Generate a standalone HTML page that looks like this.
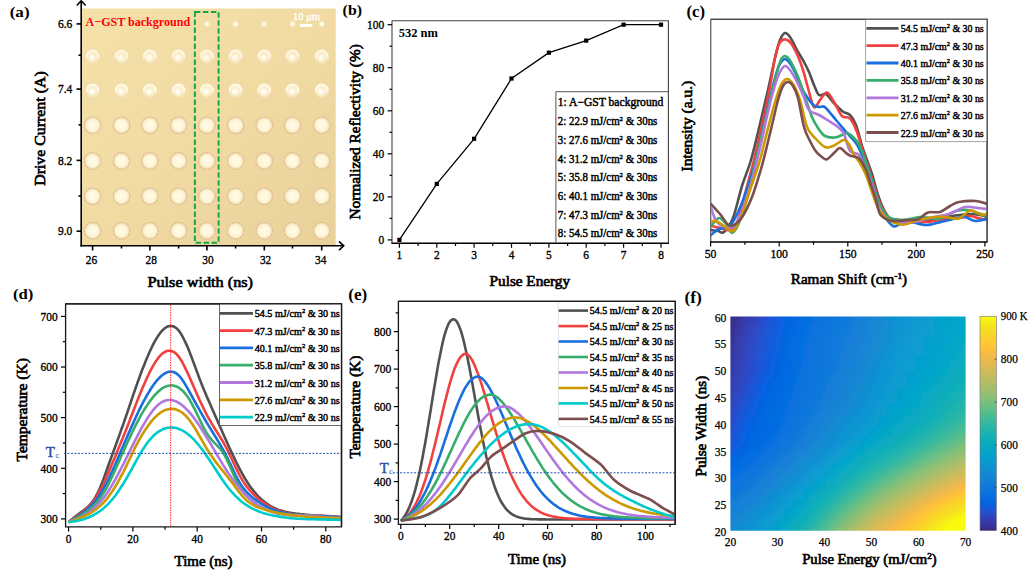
<!DOCTYPE html>
<html><head><meta charset="utf-8"><style>
html,body{margin:0;padding:0;background:#fff;width:1035px;height:577px;overflow:hidden}
svg{display:block;font-family:'Liberation Serif',serif}
</style></head><body>
<svg width="1035" height="577" viewBox="0 0 1035 577">
<defs><linearGradient id="h0" x1="730.4" x2="965.6" gradientUnits="userSpaceOnUse"><stop offset="0.000" stop-color="#352a87"/><stop offset="0.040" stop-color="#36349b"/><stop offset="0.080" stop-color="#353dae"/><stop offset="0.120" stop-color="#2f47c0"/><stop offset="0.160" stop-color="#2351d0"/><stop offset="0.200" stop-color="#105bdd"/><stop offset="0.240" stop-color="#0363e1"/><stop offset="0.280" stop-color="#0268e1"/><stop offset="0.320" stop-color="#046ce0"/><stop offset="0.360" stop-color="#076fdf"/><stop offset="0.400" stop-color="#0a72de"/><stop offset="0.440" stop-color="#0d75dc"/><stop offset="0.480" stop-color="#0f78db"/><stop offset="0.520" stop-color="#127bd9"/><stop offset="0.560" stop-color="#137fd6"/><stop offset="0.600" stop-color="#1484d4"/><stop offset="0.640" stop-color="#1388d3"/><stop offset="0.680" stop-color="#118dd2"/><stop offset="0.720" stop-color="#0e92d2"/><stop offset="0.760" stop-color="#0b95d1"/><stop offset="0.800" stop-color="#0899d1"/><stop offset="0.840" stop-color="#079cd0"/><stop offset="0.880" stop-color="#069fce"/><stop offset="0.920" stop-color="#06a2cc"/><stop offset="0.960" stop-color="#06a4c9"/><stop offset="1.000" stop-color="#06a6c6"/></linearGradient>
<linearGradient id="h1" x1="730.4" x2="965.6" gradientUnits="userSpaceOnUse"><stop offset="0.000" stop-color="#352a87"/><stop offset="0.040" stop-color="#36349b"/><stop offset="0.080" stop-color="#353dae"/><stop offset="0.120" stop-color="#2f47c0"/><stop offset="0.160" stop-color="#2351d0"/><stop offset="0.200" stop-color="#105bdd"/><stop offset="0.240" stop-color="#0363e1"/><stop offset="0.280" stop-color="#0268e1"/><stop offset="0.320" stop-color="#046ce0"/><stop offset="0.360" stop-color="#076fdf"/><stop offset="0.400" stop-color="#0a72de"/><stop offset="0.440" stop-color="#0d75dc"/><stop offset="0.480" stop-color="#0f78db"/><stop offset="0.520" stop-color="#127bd9"/><stop offset="0.560" stop-color="#137fd6"/><stop offset="0.600" stop-color="#1484d4"/><stop offset="0.640" stop-color="#1388d3"/><stop offset="0.680" stop-color="#118dd2"/><stop offset="0.720" stop-color="#0e92d2"/><stop offset="0.760" stop-color="#0b95d1"/><stop offset="0.800" stop-color="#0899d1"/><stop offset="0.840" stop-color="#079cd0"/><stop offset="0.880" stop-color="#069fce"/><stop offset="0.920" stop-color="#06a2cc"/><stop offset="0.960" stop-color="#06a4c9"/><stop offset="1.000" stop-color="#06a6c6"/></linearGradient>
<linearGradient id="h2" x1="730.4" x2="965.6" gradientUnits="userSpaceOnUse"><stop offset="0.000" stop-color="#352b88"/><stop offset="0.040" stop-color="#36359d"/><stop offset="0.080" stop-color="#343eb0"/><stop offset="0.120" stop-color="#2e48c1"/><stop offset="0.160" stop-color="#2251d2"/><stop offset="0.200" stop-color="#0f5cdd"/><stop offset="0.240" stop-color="#0363e1"/><stop offset="0.280" stop-color="#0268e1"/><stop offset="0.320" stop-color="#046ce0"/><stop offset="0.360" stop-color="#0770df"/><stop offset="0.400" stop-color="#0a73de"/><stop offset="0.440" stop-color="#0d75dc"/><stop offset="0.480" stop-color="#0f78db"/><stop offset="0.520" stop-color="#127bd9"/><stop offset="0.560" stop-color="#137fd6"/><stop offset="0.600" stop-color="#1484d4"/><stop offset="0.640" stop-color="#1388d3"/><stop offset="0.680" stop-color="#118dd2"/><stop offset="0.720" stop-color="#0e92d2"/><stop offset="0.760" stop-color="#0b95d1"/><stop offset="0.800" stop-color="#0899d1"/><stop offset="0.840" stop-color="#079cd0"/><stop offset="0.880" stop-color="#069fce"/><stop offset="0.920" stop-color="#06a2cb"/><stop offset="0.960" stop-color="#06a4c9"/><stop offset="1.000" stop-color="#06a6c6"/></linearGradient>
<linearGradient id="h3" x1="730.4" x2="965.6" gradientUnits="userSpaceOnUse"><stop offset="0.000" stop-color="#352c8a"/><stop offset="0.040" stop-color="#3637a0"/><stop offset="0.080" stop-color="#3340b3"/><stop offset="0.120" stop-color="#2c49c5"/><stop offset="0.160" stop-color="#1f53d4"/><stop offset="0.200" stop-color="#0d5dde"/><stop offset="0.240" stop-color="#0364e1"/><stop offset="0.280" stop-color="#0269e1"/><stop offset="0.320" stop-color="#046de0"/><stop offset="0.360" stop-color="#0870df"/><stop offset="0.400" stop-color="#0b73dd"/><stop offset="0.440" stop-color="#0d76dc"/><stop offset="0.480" stop-color="#1078da"/><stop offset="0.520" stop-color="#127cd9"/><stop offset="0.560" stop-color="#137fd6"/><stop offset="0.600" stop-color="#1484d4"/><stop offset="0.640" stop-color="#1388d3"/><stop offset="0.680" stop-color="#118dd2"/><stop offset="0.720" stop-color="#0e92d2"/><stop offset="0.760" stop-color="#0b96d1"/><stop offset="0.800" stop-color="#0899d1"/><stop offset="0.840" stop-color="#079dcf"/><stop offset="0.880" stop-color="#06a0cd"/><stop offset="0.920" stop-color="#06a2cb"/><stop offset="0.960" stop-color="#06a5c9"/><stop offset="1.000" stop-color="#06a6c6"/></linearGradient>
<linearGradient id="h4" x1="730.4" x2="965.6" gradientUnits="userSpaceOnUse"><stop offset="0.000" stop-color="#352d8d"/><stop offset="0.040" stop-color="#3638a3"/><stop offset="0.080" stop-color="#3342b7"/><stop offset="0.120" stop-color="#2b4bc7"/><stop offset="0.160" stop-color="#1d54d6"/><stop offset="0.200" stop-color="#0c5ede"/><stop offset="0.240" stop-color="#0364e1"/><stop offset="0.280" stop-color="#0269e1"/><stop offset="0.320" stop-color="#056de0"/><stop offset="0.360" stop-color="#0871df"/><stop offset="0.400" stop-color="#0b73dd"/><stop offset="0.440" stop-color="#0e76dc"/><stop offset="0.480" stop-color="#1079da"/><stop offset="0.520" stop-color="#127cd8"/><stop offset="0.560" stop-color="#1480d6"/><stop offset="0.600" stop-color="#1484d4"/><stop offset="0.640" stop-color="#1389d3"/><stop offset="0.680" stop-color="#118ed2"/><stop offset="0.720" stop-color="#0d92d2"/><stop offset="0.760" stop-color="#0a96d1"/><stop offset="0.800" stop-color="#089ad1"/><stop offset="0.840" stop-color="#079dcf"/><stop offset="0.880" stop-color="#06a0cd"/><stop offset="0.920" stop-color="#06a3cb"/><stop offset="0.960" stop-color="#06a5c8"/><stop offset="1.000" stop-color="#06a7c6"/></linearGradient>
<linearGradient id="h5" x1="730.4" x2="965.6" gradientUnits="userSpaceOnUse"><stop offset="0.000" stop-color="#362e8f"/><stop offset="0.040" stop-color="#3639a6"/><stop offset="0.080" stop-color="#3243b9"/><stop offset="0.120" stop-color="#294cca"/><stop offset="0.160" stop-color="#1b56d7"/><stop offset="0.200" stop-color="#0b5edf"/><stop offset="0.240" stop-color="#0265e1"/><stop offset="0.280" stop-color="#026ae1"/><stop offset="0.320" stop-color="#056ee0"/><stop offset="0.360" stop-color="#0871de"/><stop offset="0.400" stop-color="#0b74dd"/><stop offset="0.440" stop-color="#0e76dc"/><stop offset="0.480" stop-color="#1079da"/><stop offset="0.520" stop-color="#127cd8"/><stop offset="0.560" stop-color="#1480d6"/><stop offset="0.600" stop-color="#1484d4"/><stop offset="0.640" stop-color="#1389d3"/><stop offset="0.680" stop-color="#108ed2"/><stop offset="0.720" stop-color="#0d93d2"/><stop offset="0.760" stop-color="#0a96d1"/><stop offset="0.800" stop-color="#089ad0"/><stop offset="0.840" stop-color="#079dcf"/><stop offset="0.880" stop-color="#06a0cd"/><stop offset="0.920" stop-color="#06a3cb"/><stop offset="0.960" stop-color="#06a5c8"/><stop offset="1.000" stop-color="#06a7c6"/></linearGradient>
<linearGradient id="h6" x1="730.4" x2="965.6" gradientUnits="userSpaceOnUse"><stop offset="0.000" stop-color="#362f91"/><stop offset="0.040" stop-color="#353ba8"/><stop offset="0.080" stop-color="#3144bb"/><stop offset="0.120" stop-color="#274dcb"/><stop offset="0.160" stop-color="#1957d8"/><stop offset="0.200" stop-color="#0a5fdf"/><stop offset="0.240" stop-color="#0265e1"/><stop offset="0.280" stop-color="#036ae1"/><stop offset="0.320" stop-color="#056ee0"/><stop offset="0.360" stop-color="#0971de"/><stop offset="0.400" stop-color="#0c74dd"/><stop offset="0.440" stop-color="#0e77db"/><stop offset="0.480" stop-color="#1079da"/><stop offset="0.520" stop-color="#127dd8"/><stop offset="0.560" stop-color="#1480d6"/><stop offset="0.600" stop-color="#1485d4"/><stop offset="0.640" stop-color="#138ad3"/><stop offset="0.680" stop-color="#108fd2"/><stop offset="0.720" stop-color="#0c93d2"/><stop offset="0.760" stop-color="#0a97d1"/><stop offset="0.800" stop-color="#089ad0"/><stop offset="0.840" stop-color="#079ecf"/><stop offset="0.880" stop-color="#06a1cd"/><stop offset="0.920" stop-color="#06a3ca"/><stop offset="0.960" stop-color="#06a5c8"/><stop offset="1.000" stop-color="#06a7c5"/></linearGradient>
<linearGradient id="h7" x1="730.4" x2="965.6" gradientUnits="userSpaceOnUse"><stop offset="0.000" stop-color="#363194"/><stop offset="0.040" stop-color="#353cab"/><stop offset="0.080" stop-color="#3045bd"/><stop offset="0.120" stop-color="#264ecd"/><stop offset="0.160" stop-color="#1757d9"/><stop offset="0.200" stop-color="#095fdf"/><stop offset="0.240" stop-color="#0265e1"/><stop offset="0.280" stop-color="#036ae1"/><stop offset="0.320" stop-color="#066edf"/><stop offset="0.360" stop-color="#0972de"/><stop offset="0.400" stop-color="#0c74dd"/><stop offset="0.440" stop-color="#0f77db"/><stop offset="0.480" stop-color="#117ada"/><stop offset="0.520" stop-color="#137dd8"/><stop offset="0.560" stop-color="#1481d6"/><stop offset="0.600" stop-color="#1485d4"/><stop offset="0.640" stop-color="#128ad3"/><stop offset="0.680" stop-color="#0f8fd2"/><stop offset="0.720" stop-color="#0c94d2"/><stop offset="0.760" stop-color="#0998d1"/><stop offset="0.800" stop-color="#079bd0"/><stop offset="0.840" stop-color="#069ece"/><stop offset="0.880" stop-color="#06a1cc"/><stop offset="0.920" stop-color="#06a3ca"/><stop offset="0.960" stop-color="#06a6c7"/><stop offset="1.000" stop-color="#06a8c5"/></linearGradient>
<linearGradient id="h8" x1="730.4" x2="965.6" gradientUnits="userSpaceOnUse"><stop offset="0.000" stop-color="#363296"/><stop offset="0.040" stop-color="#353dad"/><stop offset="0.080" stop-color="#2f46bf"/><stop offset="0.120" stop-color="#254fce"/><stop offset="0.160" stop-color="#1658d9"/><stop offset="0.200" stop-color="#0860df"/><stop offset="0.240" stop-color="#0266e1"/><stop offset="0.280" stop-color="#036be0"/><stop offset="0.320" stop-color="#066fdf"/><stop offset="0.360" stop-color="#0972de"/><stop offset="0.400" stop-color="#0c75dc"/><stop offset="0.440" stop-color="#0f77db"/><stop offset="0.480" stop-color="#117ad9"/><stop offset="0.520" stop-color="#137ed7"/><stop offset="0.560" stop-color="#1482d5"/><stop offset="0.600" stop-color="#1486d4"/><stop offset="0.640" stop-color="#128bd2"/><stop offset="0.680" stop-color="#0f90d2"/><stop offset="0.720" stop-color="#0b95d2"/><stop offset="0.760" stop-color="#0998d1"/><stop offset="0.800" stop-color="#079bd0"/><stop offset="0.840" stop-color="#069ece"/><stop offset="0.880" stop-color="#06a1cc"/><stop offset="0.920" stop-color="#06a4ca"/><stop offset="0.960" stop-color="#06a6c7"/><stop offset="1.000" stop-color="#06a8c4"/></linearGradient>
<linearGradient id="h9" x1="730.4" x2="965.6" gradientUnits="userSpaceOnUse"><stop offset="0.000" stop-color="#363398"/><stop offset="0.040" stop-color="#353eaf"/><stop offset="0.080" stop-color="#2f47c0"/><stop offset="0.120" stop-color="#2450cf"/><stop offset="0.160" stop-color="#1558da"/><stop offset="0.200" stop-color="#0860e0"/><stop offset="0.240" stop-color="#0266e1"/><stop offset="0.280" stop-color="#036be0"/><stop offset="0.320" stop-color="#076fdf"/><stop offset="0.360" stop-color="#0a72de"/><stop offset="0.400" stop-color="#0d75dc"/><stop offset="0.440" stop-color="#0f78db"/><stop offset="0.480" stop-color="#117bd9"/><stop offset="0.520" stop-color="#137ed7"/><stop offset="0.560" stop-color="#1482d5"/><stop offset="0.600" stop-color="#1487d3"/><stop offset="0.640" stop-color="#128cd2"/><stop offset="0.680" stop-color="#0e91d2"/><stop offset="0.720" stop-color="#0b95d1"/><stop offset="0.760" stop-color="#0899d1"/><stop offset="0.800" stop-color="#079cd0"/><stop offset="0.840" stop-color="#069fce"/><stop offset="0.880" stop-color="#06a2cc"/><stop offset="0.920" stop-color="#06a4c9"/><stop offset="0.960" stop-color="#06a6c6"/><stop offset="1.000" stop-color="#07a9c3"/></linearGradient>
<linearGradient id="h10" x1="730.4" x2="965.6" gradientUnits="userSpaceOnUse"><stop offset="0.000" stop-color="#36349b"/><stop offset="0.040" stop-color="#343fb0"/><stop offset="0.080" stop-color="#2e48c2"/><stop offset="0.120" stop-color="#2350d0"/><stop offset="0.160" stop-color="#1459da"/><stop offset="0.200" stop-color="#0760e0"/><stop offset="0.240" stop-color="#0267e1"/><stop offset="0.280" stop-color="#046ce0"/><stop offset="0.320" stop-color="#0770df"/><stop offset="0.360" stop-color="#0a73de"/><stop offset="0.400" stop-color="#0d75dc"/><stop offset="0.440" stop-color="#1078da"/><stop offset="0.480" stop-color="#127cd9"/><stop offset="0.520" stop-color="#137fd7"/><stop offset="0.560" stop-color="#1483d5"/><stop offset="0.600" stop-color="#1388d3"/><stop offset="0.640" stop-color="#118dd2"/><stop offset="0.680" stop-color="#0d92d2"/><stop offset="0.720" stop-color="#0a96d1"/><stop offset="0.760" stop-color="#089ad0"/><stop offset="0.800" stop-color="#079dcf"/><stop offset="0.840" stop-color="#069fce"/><stop offset="0.880" stop-color="#06a2cb"/><stop offset="0.920" stop-color="#06a5c9"/><stop offset="0.960" stop-color="#06a7c6"/><stop offset="1.000" stop-color="#07a9c2"/></linearGradient>
<linearGradient id="h11" x1="730.4" x2="965.6" gradientUnits="userSpaceOnUse"><stop offset="0.000" stop-color="#36359d"/><stop offset="0.040" stop-color="#3440b2"/><stop offset="0.080" stop-color="#2d48c3"/><stop offset="0.120" stop-color="#2251d1"/><stop offset="0.160" stop-color="#135adb"/><stop offset="0.200" stop-color="#0661e0"/><stop offset="0.240" stop-color="#0267e1"/><stop offset="0.280" stop-color="#046ce0"/><stop offset="0.320" stop-color="#0770df"/><stop offset="0.360" stop-color="#0a73dd"/><stop offset="0.400" stop-color="#0d76dc"/><stop offset="0.440" stop-color="#1079da"/><stop offset="0.480" stop-color="#127cd8"/><stop offset="0.520" stop-color="#1480d6"/><stop offset="0.560" stop-color="#1484d4"/><stop offset="0.600" stop-color="#1388d3"/><stop offset="0.640" stop-color="#118ed2"/><stop offset="0.680" stop-color="#0d93d2"/><stop offset="0.720" stop-color="#0997d1"/><stop offset="0.760" stop-color="#089bd0"/><stop offset="0.800" stop-color="#079dcf"/><stop offset="0.840" stop-color="#06a0cd"/><stop offset="0.880" stop-color="#06a2cb"/><stop offset="0.920" stop-color="#06a5c8"/><stop offset="0.960" stop-color="#06a7c5"/><stop offset="1.000" stop-color="#07aac1"/></linearGradient>
<linearGradient id="h12" x1="730.4" x2="965.6" gradientUnits="userSpaceOnUse"><stop offset="0.000" stop-color="#36369f"/><stop offset="0.040" stop-color="#3340b4"/><stop offset="0.080" stop-color="#2d49c4"/><stop offset="0.120" stop-color="#2252d2"/><stop offset="0.160" stop-color="#125adc"/><stop offset="0.200" stop-color="#0562e0"/><stop offset="0.240" stop-color="#0268e1"/><stop offset="0.280" stop-color="#046de0"/><stop offset="0.320" stop-color="#0870df"/><stop offset="0.360" stop-color="#0b73dd"/><stop offset="0.400" stop-color="#0e76dc"/><stop offset="0.440" stop-color="#1079da"/><stop offset="0.480" stop-color="#137dd8"/><stop offset="0.520" stop-color="#1481d6"/><stop offset="0.560" stop-color="#1485d4"/><stop offset="0.600" stop-color="#1389d3"/><stop offset="0.640" stop-color="#108fd2"/><stop offset="0.680" stop-color="#0c94d2"/><stop offset="0.720" stop-color="#0998d1"/><stop offset="0.760" stop-color="#079bd0"/><stop offset="0.800" stop-color="#069ece"/><stop offset="0.840" stop-color="#06a1cd"/><stop offset="0.880" stop-color="#06a3ca"/><stop offset="0.920" stop-color="#06a6c7"/><stop offset="0.960" stop-color="#06a8c4"/><stop offset="1.000" stop-color="#08abc0"/></linearGradient>
<linearGradient id="h13" x1="730.4" x2="965.6" gradientUnits="userSpaceOnUse"><stop offset="0.000" stop-color="#3637a2"/><stop offset="0.040" stop-color="#3341b5"/><stop offset="0.080" stop-color="#2c4ac5"/><stop offset="0.120" stop-color="#2052d3"/><stop offset="0.160" stop-color="#105bdd"/><stop offset="0.200" stop-color="#0462e1"/><stop offset="0.240" stop-color="#0268e1"/><stop offset="0.280" stop-color="#046de0"/><stop offset="0.320" stop-color="#0871de"/><stop offset="0.360" stop-color="#0b74dd"/><stop offset="0.400" stop-color="#0e76dc"/><stop offset="0.440" stop-color="#117ada"/><stop offset="0.480" stop-color="#137ed7"/><stop offset="0.520" stop-color="#1481d5"/><stop offset="0.560" stop-color="#1486d4"/><stop offset="0.600" stop-color="#128ad3"/><stop offset="0.640" stop-color="#0f90d2"/><stop offset="0.680" stop-color="#0b95d2"/><stop offset="0.720" stop-color="#0899d1"/><stop offset="0.760" stop-color="#079cd0"/><stop offset="0.800" stop-color="#069fce"/><stop offset="0.840" stop-color="#06a1cc"/><stop offset="0.880" stop-color="#06a4ca"/><stop offset="0.920" stop-color="#06a6c7"/><stop offset="0.960" stop-color="#07a9c3"/><stop offset="1.000" stop-color="#09abbe"/></linearGradient>
<linearGradient id="h14" x1="730.4" x2="965.6" gradientUnits="userSpaceOnUse"><stop offset="0.000" stop-color="#3639a4"/><stop offset="0.040" stop-color="#3342b7"/><stop offset="0.080" stop-color="#2b4bc7"/><stop offset="0.120" stop-color="#1f53d4"/><stop offset="0.160" stop-color="#0f5cde"/><stop offset="0.200" stop-color="#0363e1"/><stop offset="0.240" stop-color="#0269e1"/><stop offset="0.280" stop-color="#056de0"/><stop offset="0.320" stop-color="#0871de"/><stop offset="0.360" stop-color="#0c74dd"/><stop offset="0.400" stop-color="#0e77db"/><stop offset="0.440" stop-color="#117ad9"/><stop offset="0.480" stop-color="#137ed7"/><stop offset="0.520" stop-color="#1482d5"/><stop offset="0.560" stop-color="#1487d3"/><stop offset="0.600" stop-color="#128bd2"/><stop offset="0.640" stop-color="#0e91d2"/><stop offset="0.680" stop-color="#0b96d1"/><stop offset="0.720" stop-color="#089ad0"/><stop offset="0.760" stop-color="#079dcf"/><stop offset="0.800" stop-color="#06a0cd"/><stop offset="0.840" stop-color="#06a2cb"/><stop offset="0.880" stop-color="#06a4c9"/><stop offset="0.920" stop-color="#06a7c6"/><stop offset="0.960" stop-color="#07a9c2"/><stop offset="1.000" stop-color="#0aacbd"/></linearGradient>
<linearGradient id="h15" x1="730.4" x2="965.6" gradientUnits="userSpaceOnUse"><stop offset="0.000" stop-color="#363aa7"/><stop offset="0.040" stop-color="#3243b9"/><stop offset="0.080" stop-color="#2a4bc8"/><stop offset="0.120" stop-color="#1d54d6"/><stop offset="0.160" stop-color="#0d5dde"/><stop offset="0.200" stop-color="#0364e1"/><stop offset="0.240" stop-color="#0269e1"/><stop offset="0.280" stop-color="#056ee0"/><stop offset="0.320" stop-color="#0971de"/><stop offset="0.360" stop-color="#0c74dd"/><stop offset="0.400" stop-color="#0f77db"/><stop offset="0.440" stop-color="#117bd9"/><stop offset="0.480" stop-color="#137fd7"/><stop offset="0.520" stop-color="#1483d5"/><stop offset="0.560" stop-color="#1487d3"/><stop offset="0.600" stop-color="#118cd2"/><stop offset="0.640" stop-color="#0e92d2"/><stop offset="0.680" stop-color="#0a97d1"/><stop offset="0.720" stop-color="#089bd0"/><stop offset="0.760" stop-color="#079ecf"/><stop offset="0.800" stop-color="#06a0cd"/><stop offset="0.840" stop-color="#06a3cb"/><stop offset="0.880" stop-color="#06a5c8"/><stop offset="0.920" stop-color="#06a8c5"/><stop offset="0.960" stop-color="#08aac0"/><stop offset="1.000" stop-color="#0cadbb"/></linearGradient>
<linearGradient id="h16" x1="730.4" x2="965.6" gradientUnits="userSpaceOnUse"><stop offset="0.000" stop-color="#353ba9"/><stop offset="0.040" stop-color="#3244bb"/><stop offset="0.080" stop-color="#284dca"/><stop offset="0.120" stop-color="#1a56d7"/><stop offset="0.160" stop-color="#0b5edf"/><stop offset="0.200" stop-color="#0265e1"/><stop offset="0.240" stop-color="#036ae1"/><stop offset="0.280" stop-color="#066edf"/><stop offset="0.320" stop-color="#0972de"/><stop offset="0.360" stop-color="#0c75dc"/><stop offset="0.400" stop-color="#0f78db"/><stop offset="0.440" stop-color="#127bd9"/><stop offset="0.480" stop-color="#1480d6"/><stop offset="0.520" stop-color="#1484d4"/><stop offset="0.560" stop-color="#1388d3"/><stop offset="0.600" stop-color="#118dd2"/><stop offset="0.640" stop-color="#0d92d2"/><stop offset="0.680" stop-color="#0997d1"/><stop offset="0.720" stop-color="#079bd0"/><stop offset="0.760" stop-color="#069fce"/><stop offset="0.800" stop-color="#06a1cc"/><stop offset="0.840" stop-color="#06a4ca"/><stop offset="0.880" stop-color="#06a6c7"/><stop offset="0.920" stop-color="#06a9c3"/><stop offset="0.960" stop-color="#09abbf"/><stop offset="1.000" stop-color="#0eaeba"/></linearGradient>
<linearGradient id="h17" x1="730.4" x2="965.6" gradientUnits="userSpaceOnUse"><stop offset="0.000" stop-color="#353cab"/><stop offset="0.040" stop-color="#3145bc"/><stop offset="0.080" stop-color="#274ecc"/><stop offset="0.120" stop-color="#1757d9"/><stop offset="0.160" stop-color="#0860df"/><stop offset="0.200" stop-color="#0266e1"/><stop offset="0.240" stop-color="#036be1"/><stop offset="0.280" stop-color="#066fdf"/><stop offset="0.320" stop-color="#0a72de"/><stop offset="0.360" stop-color="#0d75dc"/><stop offset="0.400" stop-color="#1078da"/><stop offset="0.440" stop-color="#127cd8"/><stop offset="0.480" stop-color="#1480d6"/><stop offset="0.520" stop-color="#1485d4"/><stop offset="0.560" stop-color="#1389d3"/><stop offset="0.600" stop-color="#108ed2"/><stop offset="0.640" stop-color="#0c93d2"/><stop offset="0.680" stop-color="#0998d1"/><stop offset="0.720" stop-color="#079cd0"/><stop offset="0.760" stop-color="#069fce"/><stop offset="0.800" stop-color="#06a2cb"/><stop offset="0.840" stop-color="#06a5c8"/><stop offset="0.880" stop-color="#06a7c5"/><stop offset="0.920" stop-color="#07aac2"/><stop offset="0.960" stop-color="#0aacbd"/><stop offset="1.000" stop-color="#10afb8"/></linearGradient>
<linearGradient id="h18" x1="730.4" x2="965.6" gradientUnits="userSpaceOnUse"><stop offset="0.000" stop-color="#353dae"/><stop offset="0.040" stop-color="#3046bf"/><stop offset="0.080" stop-color="#254fce"/><stop offset="0.120" stop-color="#1459db"/><stop offset="0.160" stop-color="#0661e0"/><stop offset="0.200" stop-color="#0267e1"/><stop offset="0.240" stop-color="#036be0"/><stop offset="0.280" stop-color="#066fdf"/><stop offset="0.320" stop-color="#0a72de"/><stop offset="0.360" stop-color="#0d76dc"/><stop offset="0.400" stop-color="#1079da"/><stop offset="0.440" stop-color="#137dd8"/><stop offset="0.480" stop-color="#1481d6"/><stop offset="0.520" stop-color="#1485d4"/><stop offset="0.560" stop-color="#138ad3"/><stop offset="0.600" stop-color="#108fd2"/><stop offset="0.640" stop-color="#0c94d2"/><stop offset="0.680" stop-color="#0899d1"/><stop offset="0.720" stop-color="#079dcf"/><stop offset="0.760" stop-color="#06a0cd"/><stop offset="0.800" stop-color="#06a3ca"/><stop offset="0.840" stop-color="#06a6c7"/><stop offset="0.880" stop-color="#06a8c4"/><stop offset="0.920" stop-color="#08aac0"/><stop offset="0.960" stop-color="#0cadbc"/><stop offset="1.000" stop-color="#12b0b6"/></linearGradient>
<linearGradient id="h19" x1="730.4" x2="965.6" gradientUnits="userSpaceOnUse"><stop offset="0.000" stop-color="#343fb0"/><stop offset="0.040" stop-color="#2e47c1"/><stop offset="0.080" stop-color="#2351d1"/><stop offset="0.120" stop-color="#105bdd"/><stop offset="0.160" stop-color="#0363e1"/><stop offset="0.200" stop-color="#0268e1"/><stop offset="0.240" stop-color="#046ce0"/><stop offset="0.280" stop-color="#076fdf"/><stop offset="0.320" stop-color="#0a73dd"/><stop offset="0.360" stop-color="#0e76dc"/><stop offset="0.400" stop-color="#117ada"/><stop offset="0.440" stop-color="#137ed7"/><stop offset="0.480" stop-color="#1482d5"/><stop offset="0.520" stop-color="#1486d4"/><stop offset="0.560" stop-color="#128bd2"/><stop offset="0.600" stop-color="#0f90d2"/><stop offset="0.640" stop-color="#0b95d2"/><stop offset="0.680" stop-color="#089ad0"/><stop offset="0.720" stop-color="#079ecf"/><stop offset="0.760" stop-color="#06a1cc"/><stop offset="0.800" stop-color="#06a4c9"/><stop offset="0.840" stop-color="#06a7c6"/><stop offset="0.880" stop-color="#07a9c2"/><stop offset="0.920" stop-color="#09acbe"/><stop offset="0.960" stop-color="#0eaeba"/><stop offset="1.000" stop-color="#15b0b5"/></linearGradient>
<linearGradient id="h20" x1="730.4" x2="965.6" gradientUnits="userSpaceOnUse"><stop offset="0.000" stop-color="#3440b3"/><stop offset="0.040" stop-color="#2d49c3"/><stop offset="0.080" stop-color="#2052d3"/><stop offset="0.120" stop-color="#0d5dde"/><stop offset="0.160" stop-color="#0364e1"/><stop offset="0.200" stop-color="#0269e1"/><stop offset="0.240" stop-color="#046de0"/><stop offset="0.280" stop-color="#0770df"/><stop offset="0.320" stop-color="#0b73dd"/><stop offset="0.360" stop-color="#0e77db"/><stop offset="0.400" stop-color="#117bd9"/><stop offset="0.440" stop-color="#137ed7"/><stop offset="0.480" stop-color="#1483d5"/><stop offset="0.520" stop-color="#1487d3"/><stop offset="0.560" stop-color="#128cd2"/><stop offset="0.600" stop-color="#0e91d2"/><stop offset="0.640" stop-color="#0a96d1"/><stop offset="0.680" stop-color="#089ad0"/><stop offset="0.720" stop-color="#069ece"/><stop offset="0.760" stop-color="#06a2cb"/><stop offset="0.800" stop-color="#06a5c8"/><stop offset="0.840" stop-color="#06a8c5"/><stop offset="0.880" stop-color="#08aac1"/><stop offset="0.920" stop-color="#0badbc"/><stop offset="0.960" stop-color="#10afb8"/><stop offset="1.000" stop-color="#17b1b3"/></linearGradient>
<linearGradient id="h21" x1="730.4" x2="965.6" gradientUnits="userSpaceOnUse"><stop offset="0.000" stop-color="#3341b5"/><stop offset="0.040" stop-color="#2c4ac6"/><stop offset="0.080" stop-color="#1d54d5"/><stop offset="0.120" stop-color="#0b5edf"/><stop offset="0.160" stop-color="#0265e1"/><stop offset="0.200" stop-color="#026ae1"/><stop offset="0.240" stop-color="#056de0"/><stop offset="0.280" stop-color="#0870df"/><stop offset="0.320" stop-color="#0b74dd"/><stop offset="0.360" stop-color="#0f77db"/><stop offset="0.400" stop-color="#127bd9"/><stop offset="0.440" stop-color="#137fd6"/><stop offset="0.480" stop-color="#1483d4"/><stop offset="0.520" stop-color="#1388d3"/><stop offset="0.560" stop-color="#118dd2"/><stop offset="0.600" stop-color="#0d92d2"/><stop offset="0.640" stop-color="#0a97d1"/><stop offset="0.680" stop-color="#079bd0"/><stop offset="0.720" stop-color="#069fce"/><stop offset="0.760" stop-color="#06a3cb"/><stop offset="0.800" stop-color="#06a6c7"/><stop offset="0.840" stop-color="#07a9c3"/><stop offset="0.880" stop-color="#09abbf"/><stop offset="0.920" stop-color="#0daebb"/><stop offset="0.960" stop-color="#13b0b6"/><stop offset="1.000" stop-color="#1ab2b1"/></linearGradient>
<linearGradient id="h22" x1="730.4" x2="965.6" gradientUnits="userSpaceOnUse"><stop offset="0.000" stop-color="#3342b7"/><stop offset="0.040" stop-color="#2a4cc9"/><stop offset="0.080" stop-color="#1956d7"/><stop offset="0.120" stop-color="#0860df"/><stop offset="0.160" stop-color="#0266e1"/><stop offset="0.200" stop-color="#036ae1"/><stop offset="0.240" stop-color="#056ee0"/><stop offset="0.280" stop-color="#0871de"/><stop offset="0.320" stop-color="#0c74dd"/><stop offset="0.360" stop-color="#1078da"/><stop offset="0.400" stop-color="#127cd8"/><stop offset="0.440" stop-color="#1480d6"/><stop offset="0.480" stop-color="#1484d4"/><stop offset="0.520" stop-color="#1389d3"/><stop offset="0.560" stop-color="#118ed2"/><stop offset="0.600" stop-color="#0d93d2"/><stop offset="0.640" stop-color="#0998d1"/><stop offset="0.680" stop-color="#079ccf"/><stop offset="0.720" stop-color="#06a0cd"/><stop offset="0.760" stop-color="#06a4ca"/><stop offset="0.800" stop-color="#06a7c6"/><stop offset="0.840" stop-color="#07a9c2"/><stop offset="0.880" stop-color="#0aacbd"/><stop offset="0.920" stop-color="#0fafb9"/><stop offset="0.960" stop-color="#16b1b4"/><stop offset="1.000" stop-color="#1eb3ae"/></linearGradient>
<linearGradient id="h23" x1="730.4" x2="965.6" gradientUnits="userSpaceOnUse"><stop offset="0.000" stop-color="#3243ba"/><stop offset="0.040" stop-color="#274dcb"/><stop offset="0.080" stop-color="#1658da"/><stop offset="0.120" stop-color="#0661e0"/><stop offset="0.160" stop-color="#0267e1"/><stop offset="0.200" stop-color="#036be0"/><stop offset="0.240" stop-color="#066edf"/><stop offset="0.280" stop-color="#0971de"/><stop offset="0.320" stop-color="#0d75dc"/><stop offset="0.360" stop-color="#1079da"/><stop offset="0.400" stop-color="#137dd8"/><stop offset="0.440" stop-color="#1481d5"/><stop offset="0.480" stop-color="#1485d4"/><stop offset="0.520" stop-color="#138ad3"/><stop offset="0.560" stop-color="#108fd2"/><stop offset="0.600" stop-color="#0c94d2"/><stop offset="0.640" stop-color="#0899d1"/><stop offset="0.680" stop-color="#079dcf"/><stop offset="0.720" stop-color="#06a1cc"/><stop offset="0.760" stop-color="#06a5c9"/><stop offset="0.800" stop-color="#06a7c5"/><stop offset="0.840" stop-color="#08aac0"/><stop offset="0.880" stop-color="#0cadbc"/><stop offset="0.920" stop-color="#12afb7"/><stop offset="0.960" stop-color="#19b2b1"/><stop offset="1.000" stop-color="#21b4ac"/></linearGradient>
<linearGradient id="h24" x1="730.4" x2="965.6" gradientUnits="userSpaceOnUse"><stop offset="0.000" stop-color="#3145bc"/><stop offset="0.040" stop-color="#254fce"/><stop offset="0.080" stop-color="#125adc"/><stop offset="0.120" stop-color="#0462e1"/><stop offset="0.160" stop-color="#0267e1"/><stop offset="0.200" stop-color="#036be0"/><stop offset="0.240" stop-color="#066fdf"/><stop offset="0.280" stop-color="#0972de"/><stop offset="0.320" stop-color="#0d76dc"/><stop offset="0.360" stop-color="#117ad9"/><stop offset="0.400" stop-color="#137ed7"/><stop offset="0.440" stop-color="#1483d5"/><stop offset="0.480" stop-color="#1487d3"/><stop offset="0.520" stop-color="#128bd2"/><stop offset="0.560" stop-color="#0f90d2"/><stop offset="0.600" stop-color="#0b95d2"/><stop offset="0.640" stop-color="#089ad0"/><stop offset="0.680" stop-color="#069fce"/><stop offset="0.720" stop-color="#06a2cb"/><stop offset="0.760" stop-color="#06a5c8"/><stop offset="0.800" stop-color="#06a8c4"/><stop offset="0.840" stop-color="#09abbf"/><stop offset="0.880" stop-color="#0eaeba"/><stop offset="0.920" stop-color="#15b0b5"/><stop offset="0.960" stop-color="#1db3af"/><stop offset="1.000" stop-color="#25b5aa"/></linearGradient>
<linearGradient id="h25" x1="730.4" x2="965.6" gradientUnits="userSpaceOnUse"><stop offset="0.000" stop-color="#3046be"/><stop offset="0.040" stop-color="#2251d1"/><stop offset="0.080" stop-color="#0e5cde"/><stop offset="0.120" stop-color="#0363e1"/><stop offset="0.160" stop-color="#0268e1"/><stop offset="0.200" stop-color="#046ce0"/><stop offset="0.240" stop-color="#066fdf"/><stop offset="0.280" stop-color="#0a72de"/><stop offset="0.320" stop-color="#0e76dc"/><stop offset="0.360" stop-color="#117bd9"/><stop offset="0.400" stop-color="#137fd6"/><stop offset="0.440" stop-color="#1484d4"/><stop offset="0.480" stop-color="#1388d3"/><stop offset="0.520" stop-color="#118cd2"/><stop offset="0.560" stop-color="#0e91d2"/><stop offset="0.600" stop-color="#0a96d1"/><stop offset="0.640" stop-color="#079bd0"/><stop offset="0.680" stop-color="#06a0cd"/><stop offset="0.720" stop-color="#06a4ca"/><stop offset="0.760" stop-color="#06a6c6"/><stop offset="0.800" stop-color="#07a9c2"/><stop offset="0.840" stop-color="#0aacbe"/><stop offset="0.880" stop-color="#10afb8"/><stop offset="0.920" stop-color="#18b1b2"/><stop offset="0.960" stop-color="#21b4ac"/><stop offset="1.000" stop-color="#29b6a7"/></linearGradient>
<linearGradient id="h26" x1="730.4" x2="965.6" gradientUnits="userSpaceOnUse"><stop offset="0.000" stop-color="#2e47c1"/><stop offset="0.040" stop-color="#1f53d4"/><stop offset="0.080" stop-color="#0c5ede"/><stop offset="0.120" stop-color="#0364e1"/><stop offset="0.160" stop-color="#0269e1"/><stop offset="0.200" stop-color="#046ce0"/><stop offset="0.240" stop-color="#076fdf"/><stop offset="0.280" stop-color="#0b73dd"/><stop offset="0.320" stop-color="#0f77db"/><stop offset="0.360" stop-color="#127cd8"/><stop offset="0.400" stop-color="#1481d6"/><stop offset="0.440" stop-color="#1485d4"/><stop offset="0.480" stop-color="#1389d3"/><stop offset="0.520" stop-color="#118ed2"/><stop offset="0.560" stop-color="#0d92d2"/><stop offset="0.600" stop-color="#0997d1"/><stop offset="0.640" stop-color="#079dcf"/><stop offset="0.680" stop-color="#06a1cc"/><stop offset="0.720" stop-color="#06a5c8"/><stop offset="0.760" stop-color="#06a7c5"/><stop offset="0.800" stop-color="#08aac1"/><stop offset="0.840" stop-color="#0cadbc"/><stop offset="0.880" stop-color="#13b0b6"/><stop offset="0.920" stop-color="#1cb2b0"/><stop offset="0.960" stop-color="#25b5aa"/><stop offset="1.000" stop-color="#2eb7a4"/></linearGradient>
<linearGradient id="h27" x1="730.4" x2="965.6" gradientUnits="userSpaceOnUse"><stop offset="0.000" stop-color="#2d49c3"/><stop offset="0.040" stop-color="#1b55d6"/><stop offset="0.080" stop-color="#095fdf"/><stop offset="0.120" stop-color="#0265e1"/><stop offset="0.160" stop-color="#0269e1"/><stop offset="0.200" stop-color="#046ce0"/><stop offset="0.240" stop-color="#0770df"/><stop offset="0.280" stop-color="#0b74dd"/><stop offset="0.320" stop-color="#0f78db"/><stop offset="0.360" stop-color="#137dd8"/><stop offset="0.400" stop-color="#1482d5"/><stop offset="0.440" stop-color="#1486d3"/><stop offset="0.480" stop-color="#128bd3"/><stop offset="0.520" stop-color="#0f8fd2"/><stop offset="0.560" stop-color="#0c94d2"/><stop offset="0.600" stop-color="#0899d1"/><stop offset="0.640" stop-color="#069ece"/><stop offset="0.680" stop-color="#06a3cb"/><stop offset="0.720" stop-color="#06a6c7"/><stop offset="0.760" stop-color="#07a9c3"/><stop offset="0.800" stop-color="#09abbf"/><stop offset="0.840" stop-color="#0eaeba"/><stop offset="0.880" stop-color="#16b1b4"/><stop offset="0.920" stop-color="#20b4ad"/><stop offset="0.960" stop-color="#2ab6a6"/><stop offset="1.000" stop-color="#34b8a0"/></linearGradient>
<linearGradient id="h28" x1="730.4" x2="965.6" gradientUnits="userSpaceOnUse"><stop offset="0.000" stop-color="#2c4ac6"/><stop offset="0.040" stop-color="#1857d9"/><stop offset="0.080" stop-color="#0760e0"/><stop offset="0.120" stop-color="#0266e1"/><stop offset="0.160" stop-color="#0269e1"/><stop offset="0.200" stop-color="#046de0"/><stop offset="0.240" stop-color="#0870df"/><stop offset="0.280" stop-color="#0c75dd"/><stop offset="0.320" stop-color="#1079da"/><stop offset="0.360" stop-color="#137ed7"/><stop offset="0.400" stop-color="#1483d5"/><stop offset="0.440" stop-color="#1388d3"/><stop offset="0.480" stop-color="#118cd2"/><stop offset="0.520" stop-color="#0e91d2"/><stop offset="0.560" stop-color="#0b96d1"/><stop offset="0.600" stop-color="#089bd0"/><stop offset="0.640" stop-color="#06a0cd"/><stop offset="0.680" stop-color="#06a4c9"/><stop offset="0.720" stop-color="#06a7c5"/><stop offset="0.760" stop-color="#07aac1"/><stop offset="0.800" stop-color="#0bacbd"/><stop offset="0.840" stop-color="#11afb7"/><stop offset="0.880" stop-color="#1ab2b1"/><stop offset="0.920" stop-color="#25b5aa"/><stop offset="0.960" stop-color="#30b7a2"/><stop offset="1.000" stop-color="#3bba9c"/></linearGradient>
<linearGradient id="h29" x1="730.4" x2="965.6" gradientUnits="userSpaceOnUse"><stop offset="0.000" stop-color="#2a4cc9"/><stop offset="0.040" stop-color="#1459da"/><stop offset="0.080" stop-color="#0562e0"/><stop offset="0.120" stop-color="#0266e1"/><stop offset="0.160" stop-color="#036ae1"/><stop offset="0.200" stop-color="#056de0"/><stop offset="0.240" stop-color="#0971de"/><stop offset="0.280" stop-color="#0d75dc"/><stop offset="0.320" stop-color="#117ad9"/><stop offset="0.360" stop-color="#137fd7"/><stop offset="0.400" stop-color="#1484d4"/><stop offset="0.440" stop-color="#1389d3"/><stop offset="0.480" stop-color="#108ed2"/><stop offset="0.520" stop-color="#0d93d2"/><stop offset="0.560" stop-color="#0998d1"/><stop offset="0.600" stop-color="#079dcf"/><stop offset="0.640" stop-color="#06a1cc"/><stop offset="0.680" stop-color="#06a5c8"/><stop offset="0.720" stop-color="#07a9c3"/><stop offset="0.760" stop-color="#09abbf"/><stop offset="0.800" stop-color="#0eaeba"/><stop offset="0.840" stop-color="#15b1b4"/><stop offset="0.880" stop-color="#1fb3ad"/><stop offset="0.920" stop-color="#2bb6a6"/><stop offset="0.960" stop-color="#37b99e"/><stop offset="1.000" stop-color="#44bb97"/></linearGradient>
<linearGradient id="h30" x1="730.4" x2="965.6" gradientUnits="userSpaceOnUse"><stop offset="0.000" stop-color="#274ecc"/><stop offset="0.040" stop-color="#115bdc"/><stop offset="0.080" stop-color="#0363e1"/><stop offset="0.120" stop-color="#0267e1"/><stop offset="0.160" stop-color="#036be1"/><stop offset="0.200" stop-color="#066ee0"/><stop offset="0.240" stop-color="#0a72de"/><stop offset="0.280" stop-color="#0e77db"/><stop offset="0.320" stop-color="#127bd9"/><stop offset="0.360" stop-color="#1480d6"/><stop offset="0.400" stop-color="#1486d4"/><stop offset="0.440" stop-color="#128bd3"/><stop offset="0.480" stop-color="#0f90d2"/><stop offset="0.520" stop-color="#0b95d2"/><stop offset="0.560" stop-color="#089ad0"/><stop offset="0.600" stop-color="#069fce"/><stop offset="0.640" stop-color="#06a3ca"/><stop offset="0.680" stop-color="#06a7c6"/><stop offset="0.720" stop-color="#08aac1"/><stop offset="0.760" stop-color="#0cadbc"/><stop offset="0.800" stop-color="#12afb7"/><stop offset="0.840" stop-color="#1ab2b1"/><stop offset="0.880" stop-color="#25b5a9"/><stop offset="0.920" stop-color="#32b8a1"/><stop offset="0.960" stop-color="#40ba99"/><stop offset="1.000" stop-color="#4ebc91"/></linearGradient>
<linearGradient id="h31" x1="730.4" x2="965.6" gradientUnits="userSpaceOnUse"><stop offset="0.000" stop-color="#2450cf"/><stop offset="0.040" stop-color="#0e5cde"/><stop offset="0.080" stop-color="#0363e1"/><stop offset="0.120" stop-color="#0268e1"/><stop offset="0.160" stop-color="#036be0"/><stop offset="0.200" stop-color="#066fdf"/><stop offset="0.240" stop-color="#0b73dd"/><stop offset="0.280" stop-color="#0f78db"/><stop offset="0.320" stop-color="#127dd8"/><stop offset="0.360" stop-color="#1482d5"/><stop offset="0.400" stop-color="#1487d3"/><stop offset="0.440" stop-color="#118cd2"/><stop offset="0.480" stop-color="#0e92d2"/><stop offset="0.520" stop-color="#0a97d1"/><stop offset="0.560" stop-color="#079cd0"/><stop offset="0.600" stop-color="#06a1cd"/><stop offset="0.640" stop-color="#06a5c8"/><stop offset="0.680" stop-color="#06a8c3"/><stop offset="0.720" stop-color="#09acbe"/><stop offset="0.760" stop-color="#0faeb9"/><stop offset="0.800" stop-color="#17b1b3"/><stop offset="0.840" stop-color="#21b4ac"/><stop offset="0.880" stop-color="#2db7a5"/><stop offset="0.920" stop-color="#3ab99c"/><stop offset="0.960" stop-color="#49bc94"/><stop offset="1.000" stop-color="#59bd8c"/></linearGradient>
<linearGradient id="h32" x1="730.4" x2="965.6" gradientUnits="userSpaceOnUse"><stop offset="0.000" stop-color="#2152d2"/><stop offset="0.040" stop-color="#0c5dde"/><stop offset="0.080" stop-color="#0364e1"/><stop offset="0.120" stop-color="#0269e1"/><stop offset="0.160" stop-color="#046ce0"/><stop offset="0.200" stop-color="#0870df"/><stop offset="0.240" stop-color="#0c74dd"/><stop offset="0.280" stop-color="#1079da"/><stop offset="0.320" stop-color="#137ed7"/><stop offset="0.360" stop-color="#1483d5"/><stop offset="0.400" stop-color="#1389d3"/><stop offset="0.440" stop-color="#108ed2"/><stop offset="0.480" stop-color="#0c94d2"/><stop offset="0.520" stop-color="#0899d1"/><stop offset="0.560" stop-color="#069ece"/><stop offset="0.600" stop-color="#06a3ca"/><stop offset="0.640" stop-color="#06a7c6"/><stop offset="0.680" stop-color="#08aac1"/><stop offset="0.720" stop-color="#0cadbb"/><stop offset="0.760" stop-color="#14b0b5"/><stop offset="0.800" stop-color="#1db3af"/><stop offset="0.840" stop-color="#28b6a8"/><stop offset="0.880" stop-color="#35b89f"/><stop offset="0.920" stop-color="#44bb97"/><stop offset="0.960" stop-color="#54bd8e"/><stop offset="1.000" stop-color="#65be86"/></linearGradient>
<linearGradient id="h33" x1="730.4" x2="965.6" gradientUnits="userSpaceOnUse"><stop offset="0.000" stop-color="#1d54d5"/><stop offset="0.040" stop-color="#0a5fdf"/><stop offset="0.080" stop-color="#0265e1"/><stop offset="0.120" stop-color="#026ae1"/><stop offset="0.160" stop-color="#056de0"/><stop offset="0.200" stop-color="#0971de"/><stop offset="0.240" stop-color="#0d76dc"/><stop offset="0.280" stop-color="#117bd9"/><stop offset="0.320" stop-color="#1480d6"/><stop offset="0.360" stop-color="#1485d4"/><stop offset="0.400" stop-color="#128ad3"/><stop offset="0.440" stop-color="#0f90d2"/><stop offset="0.480" stop-color="#0b96d1"/><stop offset="0.520" stop-color="#079bd0"/><stop offset="0.560" stop-color="#06a1cd"/><stop offset="0.600" stop-color="#06a5c8"/><stop offset="0.640" stop-color="#07a9c3"/><stop offset="0.680" stop-color="#0aacbe"/><stop offset="0.720" stop-color="#10afb8"/><stop offset="0.760" stop-color="#19b2b1"/><stop offset="0.800" stop-color="#24b5aa"/><stop offset="0.840" stop-color="#31b8a2"/><stop offset="0.880" stop-color="#3fba99"/><stop offset="0.920" stop-color="#4fbc91"/><stop offset="0.960" stop-color="#60be88"/><stop offset="1.000" stop-color="#72bf80"/></linearGradient>
<linearGradient id="h34" x1="730.4" x2="965.6" gradientUnits="userSpaceOnUse"><stop offset="0.000" stop-color="#1857d8"/><stop offset="0.040" stop-color="#0760e0"/><stop offset="0.080" stop-color="#0266e1"/><stop offset="0.120" stop-color="#036be1"/><stop offset="0.160" stop-color="#066fdf"/><stop offset="0.200" stop-color="#0a73dd"/><stop offset="0.240" stop-color="#0f77db"/><stop offset="0.280" stop-color="#127cd8"/><stop offset="0.320" stop-color="#1481d5"/><stop offset="0.360" stop-color="#1487d3"/><stop offset="0.400" stop-color="#118cd2"/><stop offset="0.440" stop-color="#0d92d2"/><stop offset="0.480" stop-color="#0998d1"/><stop offset="0.520" stop-color="#079ecf"/><stop offset="0.560" stop-color="#06a3ca"/><stop offset="0.600" stop-color="#06a7c5"/><stop offset="0.640" stop-color="#08abc0"/><stop offset="0.680" stop-color="#0daeba"/><stop offset="0.720" stop-color="#15b1b4"/><stop offset="0.760" stop-color="#20b4ad"/><stop offset="0.800" stop-color="#2db7a5"/><stop offset="0.840" stop-color="#3bb99c"/><stop offset="0.880" stop-color="#4bbc93"/><stop offset="0.920" stop-color="#5cbe8a"/><stop offset="0.960" stop-color="#6dbf82"/><stop offset="1.000" stop-color="#7fbf7a"/></linearGradient>
<linearGradient id="h35" x1="730.4" x2="965.6" gradientUnits="userSpaceOnUse"><stop offset="0.000" stop-color="#125adc"/><stop offset="0.040" stop-color="#0462e1"/><stop offset="0.080" stop-color="#0268e1"/><stop offset="0.120" stop-color="#046ce0"/><stop offset="0.160" stop-color="#0870df"/><stop offset="0.200" stop-color="#0c74dd"/><stop offset="0.240" stop-color="#1079da"/><stop offset="0.280" stop-color="#137ed7"/><stop offset="0.320" stop-color="#1483d5"/><stop offset="0.360" stop-color="#1389d3"/><stop offset="0.400" stop-color="#108fd2"/><stop offset="0.440" stop-color="#0b95d2"/><stop offset="0.480" stop-color="#089bd0"/><stop offset="0.520" stop-color="#06a0cd"/><stop offset="0.560" stop-color="#06a5c8"/><stop offset="0.600" stop-color="#07a9c2"/><stop offset="0.640" stop-color="#0badbc"/><stop offset="0.680" stop-color="#12afb7"/><stop offset="0.720" stop-color="#1cb2b0"/><stop offset="0.760" stop-color="#28b6a8"/><stop offset="0.800" stop-color="#36b99f"/><stop offset="0.840" stop-color="#46bb95"/><stop offset="0.880" stop-color="#57bd8c"/><stop offset="0.920" stop-color="#69be84"/><stop offset="0.960" stop-color="#7bbf7c"/><stop offset="1.000" stop-color="#8bbf75"/></linearGradient>
<linearGradient id="h36" x1="730.4" x2="965.6" gradientUnits="userSpaceOnUse"><stop offset="0.000" stop-color="#0c5dde"/><stop offset="0.040" stop-color="#0364e1"/><stop offset="0.080" stop-color="#0269e1"/><stop offset="0.120" stop-color="#056ee0"/><stop offset="0.160" stop-color="#0972de"/><stop offset="0.200" stop-color="#0e76dc"/><stop offset="0.240" stop-color="#117bd9"/><stop offset="0.280" stop-color="#1480d6"/><stop offset="0.320" stop-color="#1485d4"/><stop offset="0.360" stop-color="#128bd2"/><stop offset="0.400" stop-color="#0e91d2"/><stop offset="0.440" stop-color="#0998d1"/><stop offset="0.480" stop-color="#079dcf"/><stop offset="0.520" stop-color="#06a3cb"/><stop offset="0.560" stop-color="#06a7c5"/><stop offset="0.600" stop-color="#09abbe"/><stop offset="0.640" stop-color="#10afb8"/><stop offset="0.680" stop-color="#18b2b2"/><stop offset="0.720" stop-color="#23b4ab"/><stop offset="0.760" stop-color="#31b8a2"/><stop offset="0.800" stop-color="#41ba98"/><stop offset="0.840" stop-color="#53bd8f"/><stop offset="0.880" stop-color="#65be86"/><stop offset="0.920" stop-color="#77bf7e"/><stop offset="0.960" stop-color="#88bf77"/><stop offset="1.000" stop-color="#97bf70"/></linearGradient>
<linearGradient id="h37" x1="730.4" x2="965.6" gradientUnits="userSpaceOnUse"><stop offset="0.000" stop-color="#0760e0"/><stop offset="0.040" stop-color="#0266e1"/><stop offset="0.080" stop-color="#036be0"/><stop offset="0.120" stop-color="#076fdf"/><stop offset="0.160" stop-color="#0b74dd"/><stop offset="0.200" stop-color="#0f78db"/><stop offset="0.240" stop-color="#137dd8"/><stop offset="0.280" stop-color="#1482d5"/><stop offset="0.320" stop-color="#1488d3"/><stop offset="0.360" stop-color="#118ed2"/><stop offset="0.400" stop-color="#0c94d2"/><stop offset="0.440" stop-color="#089ad0"/><stop offset="0.480" stop-color="#06a0cd"/><stop offset="0.520" stop-color="#06a5c8"/><stop offset="0.560" stop-color="#07aac2"/><stop offset="0.600" stop-color="#0daebb"/><stop offset="0.640" stop-color="#16b1b4"/><stop offset="0.680" stop-color="#20b4ad"/><stop offset="0.720" stop-color="#2cb7a5"/><stop offset="0.760" stop-color="#3cba9c"/><stop offset="0.800" stop-color="#4ebc91"/><stop offset="0.840" stop-color="#61be88"/><stop offset="0.880" stop-color="#73bf7f"/><stop offset="0.920" stop-color="#85bf78"/><stop offset="0.960" stop-color="#94bf71"/><stop offset="1.000" stop-color="#a3be6b"/></linearGradient>
<linearGradient id="h38" x1="730.4" x2="965.6" gradientUnits="userSpaceOnUse"><stop offset="0.000" stop-color="#0363e1"/><stop offset="0.040" stop-color="#0268e1"/><stop offset="0.080" stop-color="#046de0"/><stop offset="0.120" stop-color="#0971de"/><stop offset="0.160" stop-color="#0d76dc"/><stop offset="0.200" stop-color="#117ad9"/><stop offset="0.240" stop-color="#137fd7"/><stop offset="0.280" stop-color="#1484d4"/><stop offset="0.320" stop-color="#138ad3"/><stop offset="0.360" stop-color="#0e91d2"/><stop offset="0.400" stop-color="#0997d1"/><stop offset="0.440" stop-color="#079dcf"/><stop offset="0.480" stop-color="#06a3cb"/><stop offset="0.520" stop-color="#06a7c5"/><stop offset="0.560" stop-color="#0aacbe"/><stop offset="0.600" stop-color="#13b0b6"/><stop offset="0.640" stop-color="#1db3af"/><stop offset="0.680" stop-color="#28b6a7"/><stop offset="0.720" stop-color="#36b99f"/><stop offset="0.760" stop-color="#48bb95"/><stop offset="0.800" stop-color="#5bbe8a"/><stop offset="0.840" stop-color="#6fbf81"/><stop offset="0.880" stop-color="#81bf79"/><stop offset="0.920" stop-color="#92bf72"/><stop offset="0.960" stop-color="#a1be6c"/><stop offset="1.000" stop-color="#afbe67"/></linearGradient>
<linearGradient id="h39" x1="730.4" x2="965.6" gradientUnits="userSpaceOnUse"><stop offset="0.000" stop-color="#0266e1"/><stop offset="0.040" stop-color="#036ae1"/><stop offset="0.080" stop-color="#066fdf"/><stop offset="0.120" stop-color="#0b73dd"/><stop offset="0.160" stop-color="#0f78db"/><stop offset="0.200" stop-color="#127cd8"/><stop offset="0.240" stop-color="#1481d5"/><stop offset="0.280" stop-color="#1487d3"/><stop offset="0.320" stop-color="#118dd2"/><stop offset="0.360" stop-color="#0c94d2"/><stop offset="0.400" stop-color="#089ad0"/><stop offset="0.440" stop-color="#06a0cd"/><stop offset="0.480" stop-color="#06a5c8"/><stop offset="0.520" stop-color="#07aac1"/><stop offset="0.560" stop-color="#0eaeba"/><stop offset="0.600" stop-color="#19b2b2"/><stop offset="0.640" stop-color="#25b5aa"/><stop offset="0.680" stop-color="#32b8a1"/><stop offset="0.720" stop-color="#42bb98"/><stop offset="0.760" stop-color="#55bd8d"/><stop offset="0.800" stop-color="#6abe83"/><stop offset="0.840" stop-color="#7dbf7b"/><stop offset="0.880" stop-color="#8fbf74"/><stop offset="0.920" stop-color="#9fbe6d"/><stop offset="0.960" stop-color="#adbe68"/><stop offset="1.000" stop-color="#bbbd62"/></linearGradient>
<linearGradient id="h40" x1="730.4" x2="965.6" gradientUnits="userSpaceOnUse"><stop offset="0.000" stop-color="#0268e1"/><stop offset="0.040" stop-color="#046ce0"/><stop offset="0.080" stop-color="#0871de"/><stop offset="0.120" stop-color="#0d75dc"/><stop offset="0.160" stop-color="#117ad9"/><stop offset="0.200" stop-color="#137fd7"/><stop offset="0.240" stop-color="#1484d4"/><stop offset="0.280" stop-color="#1389d3"/><stop offset="0.320" stop-color="#0f90d2"/><stop offset="0.360" stop-color="#0a97d1"/><stop offset="0.400" stop-color="#079dcf"/><stop offset="0.440" stop-color="#06a3cb"/><stop offset="0.480" stop-color="#06a8c5"/><stop offset="0.520" stop-color="#0aacbd"/><stop offset="0.560" stop-color="#14b0b5"/><stop offset="0.600" stop-color="#20b4ad"/><stop offset="0.640" stop-color="#2eb7a4"/><stop offset="0.680" stop-color="#3eba9a"/><stop offset="0.720" stop-color="#50bc90"/><stop offset="0.760" stop-color="#64be86"/><stop offset="0.800" stop-color="#79bf7d"/><stop offset="0.840" stop-color="#8bbf75"/><stop offset="0.880" stop-color="#9cbf6e"/><stop offset="0.920" stop-color="#acbe68"/><stop offset="0.960" stop-color="#b9bd63"/><stop offset="1.000" stop-color="#c6bc5e"/></linearGradient>
<linearGradient id="h41" x1="730.4" x2="965.6" gradientUnits="userSpaceOnUse"><stop offset="0.000" stop-color="#036be1"/><stop offset="0.040" stop-color="#066fdf"/><stop offset="0.080" stop-color="#0a73dd"/><stop offset="0.120" stop-color="#0f77db"/><stop offset="0.160" stop-color="#127cd8"/><stop offset="0.200" stop-color="#1481d6"/><stop offset="0.240" stop-color="#1486d3"/><stop offset="0.280" stop-color="#118cd2"/><stop offset="0.320" stop-color="#0d93d2"/><stop offset="0.360" stop-color="#089ad0"/><stop offset="0.400" stop-color="#06a0cd"/><stop offset="0.440" stop-color="#06a5c8"/><stop offset="0.480" stop-color="#08aac1"/><stop offset="0.520" stop-color="#0faeb9"/><stop offset="0.560" stop-color="#1bb2b0"/><stop offset="0.600" stop-color="#29b6a7"/><stop offset="0.640" stop-color="#39b99d"/><stop offset="0.680" stop-color="#4bbc93"/><stop offset="0.720" stop-color="#5fbe89"/><stop offset="0.760" stop-color="#73bf7f"/><stop offset="0.800" stop-color="#87bf77"/><stop offset="0.840" stop-color="#99bf70"/><stop offset="0.880" stop-color="#a9be69"/><stop offset="0.920" stop-color="#b8bd63"/><stop offset="0.960" stop-color="#c6bc5e"/><stop offset="1.000" stop-color="#d1bb59"/></linearGradient>
<linearGradient id="h42" x1="730.4" x2="965.6" gradientUnits="userSpaceOnUse"><stop offset="0.000" stop-color="#056de0"/><stop offset="0.040" stop-color="#0871de"/><stop offset="0.080" stop-color="#0d75dc"/><stop offset="0.120" stop-color="#117ada"/><stop offset="0.160" stop-color="#137ed7"/><stop offset="0.200" stop-color="#1484d4"/><stop offset="0.240" stop-color="#1389d3"/><stop offset="0.280" stop-color="#0f8fd2"/><stop offset="0.320" stop-color="#0a96d1"/><stop offset="0.360" stop-color="#079dcf"/><stop offset="0.400" stop-color="#06a3cb"/><stop offset="0.440" stop-color="#06a8c4"/><stop offset="0.480" stop-color="#0bacbd"/><stop offset="0.520" stop-color="#15b1b4"/><stop offset="0.560" stop-color="#23b4ab"/><stop offset="0.600" stop-color="#33b8a1"/><stop offset="0.640" stop-color="#45bb96"/><stop offset="0.680" stop-color="#59bd8b"/><stop offset="0.720" stop-color="#6ebf81"/><stop offset="0.760" stop-color="#82bf79"/><stop offset="0.800" stop-color="#95bf71"/><stop offset="0.840" stop-color="#a6be6a"/><stop offset="0.880" stop-color="#b6bd64"/><stop offset="0.920" stop-color="#c5bc5e"/><stop offset="0.960" stop-color="#d2bb59"/><stop offset="1.000" stop-color="#ddba54"/></linearGradient>
<linearGradient id="h43" x1="730.4" x2="965.6" gradientUnits="userSpaceOnUse"><stop offset="0.000" stop-color="#076fdf"/><stop offset="0.040" stop-color="#0b73dd"/><stop offset="0.080" stop-color="#0f77db"/><stop offset="0.120" stop-color="#127cd8"/><stop offset="0.160" stop-color="#1481d6"/><stop offset="0.200" stop-color="#1486d4"/><stop offset="0.240" stop-color="#128cd2"/><stop offset="0.280" stop-color="#0d92d2"/><stop offset="0.320" stop-color="#0899d1"/><stop offset="0.360" stop-color="#069fce"/><stop offset="0.400" stop-color="#06a5c8"/><stop offset="0.440" stop-color="#08aac1"/><stop offset="0.480" stop-color="#10afb8"/><stop offset="0.520" stop-color="#1db3af"/><stop offset="0.560" stop-color="#2cb7a5"/><stop offset="0.600" stop-color="#3eba9a"/><stop offset="0.640" stop-color="#52bd8f"/><stop offset="0.680" stop-color="#68be84"/><stop offset="0.720" stop-color="#7dbf7b"/><stop offset="0.760" stop-color="#90bf73"/><stop offset="0.800" stop-color="#a2be6c"/><stop offset="0.840" stop-color="#b3bd65"/><stop offset="0.880" stop-color="#c3bc5f"/><stop offset="0.920" stop-color="#d1bb59"/><stop offset="0.960" stop-color="#deba53"/><stop offset="1.000" stop-color="#e9b94e"/></linearGradient>
<linearGradient id="h44" x1="730.4" x2="965.6" gradientUnits="userSpaceOnUse"><stop offset="0.000" stop-color="#0972de"/><stop offset="0.040" stop-color="#0d75dc"/><stop offset="0.080" stop-color="#1079da"/><stop offset="0.120" stop-color="#137ed7"/><stop offset="0.160" stop-color="#1483d5"/><stop offset="0.200" stop-color="#1389d3"/><stop offset="0.240" stop-color="#108fd2"/><stop offset="0.280" stop-color="#0b95d1"/><stop offset="0.320" stop-color="#079cd0"/><stop offset="0.360" stop-color="#06a2cb"/><stop offset="0.400" stop-color="#06a7c5"/><stop offset="0.440" stop-color="#0bacbd"/><stop offset="0.480" stop-color="#16b1b4"/><stop offset="0.520" stop-color="#25b5a9"/><stop offset="0.560" stop-color="#37b99e"/><stop offset="0.600" stop-color="#4bbc93"/><stop offset="0.640" stop-color="#61be88"/><stop offset="0.680" stop-color="#77bf7e"/><stop offset="0.720" stop-color="#8cbf75"/><stop offset="0.760" stop-color="#9ebe6e"/><stop offset="0.800" stop-color="#afbe67"/><stop offset="0.840" stop-color="#c0bc60"/><stop offset="0.880" stop-color="#cfbb5a"/><stop offset="0.920" stop-color="#ddba54"/><stop offset="0.960" stop-color="#eab94e"/><stop offset="1.000" stop-color="#f4ba47"/></linearGradient>
<linearGradient id="h45" x1="730.4" x2="965.6" gradientUnits="userSpaceOnUse"><stop offset="0.000" stop-color="#0c74dd"/><stop offset="0.040" stop-color="#0f77db"/><stop offset="0.080" stop-color="#127bd9"/><stop offset="0.120" stop-color="#1480d6"/><stop offset="0.160" stop-color="#1485d4"/><stop offset="0.200" stop-color="#128bd2"/><stop offset="0.240" stop-color="#0d92d2"/><stop offset="0.280" stop-color="#0998d1"/><stop offset="0.320" stop-color="#069fce"/><stop offset="0.360" stop-color="#06a4c9"/><stop offset="0.400" stop-color="#07aac2"/><stop offset="0.440" stop-color="#0faeb9"/><stop offset="0.480" stop-color="#1db3af"/><stop offset="0.520" stop-color="#2fb7a3"/><stop offset="0.560" stop-color="#42bb98"/><stop offset="0.600" stop-color="#59bd8c"/><stop offset="0.640" stop-color="#70bf81"/><stop offset="0.680" stop-color="#85bf78"/><stop offset="0.720" stop-color="#99bf70"/><stop offset="0.760" stop-color="#abbe68"/><stop offset="0.800" stop-color="#bcbd62"/><stop offset="0.840" stop-color="#ccbb5b"/><stop offset="0.880" stop-color="#dbba55"/><stop offset="0.920" stop-color="#eab94e"/><stop offset="0.960" stop-color="#f6ba46"/><stop offset="1.000" stop-color="#fdbe3d"/></linearGradient>
<linearGradient id="h46" x1="730.4" x2="965.6" gradientUnits="userSpaceOnUse"><stop offset="0.000" stop-color="#0e76dc"/><stop offset="0.040" stop-color="#117ada"/><stop offset="0.080" stop-color="#137ed7"/><stop offset="0.120" stop-color="#1482d5"/><stop offset="0.160" stop-color="#1388d3"/><stop offset="0.200" stop-color="#108ed2"/><stop offset="0.240" stop-color="#0b95d2"/><stop offset="0.280" stop-color="#079bd0"/><stop offset="0.320" stop-color="#06a1cc"/><stop offset="0.360" stop-color="#06a7c6"/><stop offset="0.400" stop-color="#0aacbe"/><stop offset="0.440" stop-color="#15b1b4"/><stop offset="0.480" stop-color="#26b5a9"/><stop offset="0.520" stop-color="#39b99d"/><stop offset="0.560" stop-color="#4fbc90"/><stop offset="0.600" stop-color="#67be85"/><stop offset="0.640" stop-color="#7ebf7b"/><stop offset="0.680" stop-color="#93bf72"/><stop offset="0.720" stop-color="#a6be6a"/><stop offset="0.760" stop-color="#b7bd64"/><stop offset="0.800" stop-color="#c8bc5d"/><stop offset="0.840" stop-color="#d8ba56"/><stop offset="0.880" stop-color="#e8b94f"/><stop offset="0.920" stop-color="#f5ba46"/><stop offset="0.960" stop-color="#febf3c"/><stop offset="1.000" stop-color="#fec635"/></linearGradient>
<linearGradient id="h47" x1="730.4" x2="965.6" gradientUnits="userSpaceOnUse"><stop offset="0.000" stop-color="#1078da"/><stop offset="0.040" stop-color="#127cd8"/><stop offset="0.080" stop-color="#1480d6"/><stop offset="0.120" stop-color="#1485d4"/><stop offset="0.160" stop-color="#128ad3"/><stop offset="0.200" stop-color="#0e91d2"/><stop offset="0.240" stop-color="#0998d1"/><stop offset="0.280" stop-color="#079ecf"/><stop offset="0.320" stop-color="#06a4ca"/><stop offset="0.360" stop-color="#07a9c3"/><stop offset="0.400" stop-color="#0eaeba"/><stop offset="0.440" stop-color="#1cb3af"/><stop offset="0.480" stop-color="#2fb7a3"/><stop offset="0.520" stop-color="#45bb96"/><stop offset="0.560" stop-color="#5dbe89"/><stop offset="0.600" stop-color="#76bf7e"/><stop offset="0.640" stop-color="#8cbf75"/><stop offset="0.680" stop-color="#a0be6d"/><stop offset="0.720" stop-color="#b2bd66"/><stop offset="0.760" stop-color="#c3bc5f"/><stop offset="0.800" stop-color="#d4bb58"/><stop offset="0.840" stop-color="#e4b951"/><stop offset="0.880" stop-color="#f3ba48"/><stop offset="0.920" stop-color="#febf3d"/><stop offset="0.960" stop-color="#fec734"/><stop offset="1.000" stop-color="#fcce2e"/></linearGradient>
<linearGradient id="h48" x1="730.4" x2="965.6" gradientUnits="userSpaceOnUse"><stop offset="0.000" stop-color="#117ad9"/><stop offset="0.040" stop-color="#137ed7"/><stop offset="0.080" stop-color="#1482d5"/><stop offset="0.120" stop-color="#1487d3"/><stop offset="0.160" stop-color="#118dd2"/><stop offset="0.200" stop-color="#0c94d2"/><stop offset="0.240" stop-color="#089ad0"/><stop offset="0.280" stop-color="#06a0cd"/><stop offset="0.320" stop-color="#06a6c7"/><stop offset="0.360" stop-color="#09abbf"/><stop offset="0.400" stop-color="#13b0b6"/><stop offset="0.440" stop-color="#24b5aa"/><stop offset="0.480" stop-color="#38b99d"/><stop offset="0.520" stop-color="#51bd90"/><stop offset="0.560" stop-color="#6cbf83"/><stop offset="0.600" stop-color="#84bf78"/><stop offset="0.640" stop-color="#99bf6f"/><stop offset="0.680" stop-color="#acbe68"/><stop offset="0.720" stop-color="#bebc61"/><stop offset="0.760" stop-color="#cebb5a"/><stop offset="0.800" stop-color="#dfba53"/><stop offset="0.840" stop-color="#efb94b"/><stop offset="0.880" stop-color="#fcbd3f"/><stop offset="0.920" stop-color="#fec634"/><stop offset="0.960" stop-color="#fbcf2d"/><stop offset="1.000" stop-color="#f8d628"/></linearGradient>
<linearGradient id="h49" x1="730.4" x2="965.6" gradientUnits="userSpaceOnUse"><stop offset="0.000" stop-color="#127dd8"/><stop offset="0.040" stop-color="#1480d6"/><stop offset="0.080" stop-color="#1484d4"/><stop offset="0.120" stop-color="#138ad3"/><stop offset="0.160" stop-color="#0f90d2"/><stop offset="0.200" stop-color="#0a96d1"/><stop offset="0.240" stop-color="#079dcf"/><stop offset="0.280" stop-color="#06a2cb"/><stop offset="0.320" stop-color="#06a8c4"/><stop offset="0.360" stop-color="#0cadbc"/><stop offset="0.400" stop-color="#1ab2b1"/><stop offset="0.440" stop-color="#2cb7a5"/><stop offset="0.480" stop-color="#43bb97"/><stop offset="0.520" stop-color="#5ebe89"/><stop offset="0.560" stop-color="#7abf7c"/><stop offset="0.600" stop-color="#92bf73"/><stop offset="0.640" stop-color="#a6be6a"/><stop offset="0.680" stop-color="#b8bd63"/><stop offset="0.720" stop-color="#c9bc5c"/><stop offset="0.760" stop-color="#d9ba55"/><stop offset="0.800" stop-color="#eab94e"/><stop offset="0.840" stop-color="#f9bb43"/><stop offset="0.880" stop-color="#ffc436"/><stop offset="0.920" stop-color="#fcce2d"/><stop offset="0.960" stop-color="#f8d727"/><stop offset="1.000" stop-color="#f6de22"/></linearGradient>
<linearGradient id="h50" x1="730.4" x2="965.6" gradientUnits="userSpaceOnUse"><stop offset="0.000" stop-color="#137fd7"/><stop offset="0.040" stop-color="#1482d5"/><stop offset="0.080" stop-color="#1487d3"/><stop offset="0.120" stop-color="#118cd2"/><stop offset="0.160" stop-color="#0d93d2"/><stop offset="0.200" stop-color="#0899d1"/><stop offset="0.240" stop-color="#069fce"/><stop offset="0.280" stop-color="#06a5c9"/><stop offset="0.320" stop-color="#07aac1"/><stop offset="0.360" stop-color="#11afb8"/><stop offset="0.400" stop-color="#21b4ac"/><stop offset="0.440" stop-color="#36b99f"/><stop offset="0.480" stop-color="#4fbc91"/><stop offset="0.520" stop-color="#6cbf83"/><stop offset="0.560" stop-color="#87bf77"/><stop offset="0.600" stop-color="#9ebe6e"/><stop offset="0.640" stop-color="#b2bd66"/><stop offset="0.680" stop-color="#c3bc5f"/><stop offset="0.720" stop-color="#d3bb58"/><stop offset="0.760" stop-color="#e4b951"/><stop offset="0.800" stop-color="#f4ba47"/><stop offset="0.840" stop-color="#fec13a"/><stop offset="0.880" stop-color="#fdcc2f"/><stop offset="0.920" stop-color="#f8d628"/><stop offset="0.960" stop-color="#f5df21"/><stop offset="1.000" stop-color="#f5e71b"/></linearGradient>
<linearGradient id="h51" x1="730.4" x2="965.6" gradientUnits="userSpaceOnUse"><stop offset="0.000" stop-color="#1481d6"/><stop offset="0.040" stop-color="#1484d4"/><stop offset="0.080" stop-color="#1389d3"/><stop offset="0.120" stop-color="#108fd2"/><stop offset="0.160" stop-color="#0b95d2"/><stop offset="0.200" stop-color="#079bd0"/><stop offset="0.240" stop-color="#06a1cc"/><stop offset="0.280" stop-color="#06a7c6"/><stop offset="0.320" stop-color="#0aacbe"/><stop offset="0.360" stop-color="#16b1b4"/><stop offset="0.400" stop-color="#29b6a7"/><stop offset="0.440" stop-color="#40ba99"/><stop offset="0.480" stop-color="#5cbe8a"/><stop offset="0.520" stop-color="#79bf7d"/><stop offset="0.560" stop-color="#94bf72"/><stop offset="0.600" stop-color="#aabe69"/><stop offset="0.640" stop-color="#bdbd61"/><stop offset="0.680" stop-color="#cebb5a"/><stop offset="0.720" stop-color="#deba54"/><stop offset="0.760" stop-color="#eeb94b"/><stop offset="0.800" stop-color="#fcbd3f"/><stop offset="0.840" stop-color="#fec833"/><stop offset="0.880" stop-color="#fad32a"/><stop offset="0.920" stop-color="#f6dd22"/><stop offset="0.960" stop-color="#f5e81a"/><stop offset="1.000" stop-color="#f6f115"/></linearGradient>
<linearGradient id="h52" x1="730.4" x2="965.6" gradientUnits="userSpaceOnUse"><stop offset="0.000" stop-color="#1483d5"/><stop offset="0.040" stop-color="#1487d3"/><stop offset="0.080" stop-color="#128bd2"/><stop offset="0.120" stop-color="#0e91d2"/><stop offset="0.160" stop-color="#0998d1"/><stop offset="0.200" stop-color="#079ecf"/><stop offset="0.240" stop-color="#06a3ca"/><stop offset="0.280" stop-color="#06a8c3"/><stop offset="0.320" stop-color="#0daeba"/><stop offset="0.360" stop-color="#1cb3af"/><stop offset="0.400" stop-color="#31b8a2"/><stop offset="0.440" stop-color="#4bbc93"/><stop offset="0.480" stop-color="#69be84"/><stop offset="0.520" stop-color="#86bf77"/><stop offset="0.560" stop-color="#9fbe6d"/><stop offset="0.600" stop-color="#b5bd64"/><stop offset="0.640" stop-color="#c8bc5d"/><stop offset="0.680" stop-color="#d8ba56"/><stop offset="0.720" stop-color="#e8b94f"/><stop offset="0.760" stop-color="#f7ba45"/><stop offset="0.800" stop-color="#ffc338"/><stop offset="0.840" stop-color="#fcce2e"/><stop offset="0.880" stop-color="#f7d925"/><stop offset="0.920" stop-color="#f5e51c"/><stop offset="0.960" stop-color="#f6f114"/><stop offset="1.000" stop-color="#f9fb0e"/></linearGradient>
<linearGradient id="h53" x1="730.4" x2="965.6" gradientUnits="userSpaceOnUse"><stop offset="0.000" stop-color="#1485d4"/><stop offset="0.040" stop-color="#1389d3"/><stop offset="0.080" stop-color="#118ed2"/><stop offset="0.120" stop-color="#0c94d2"/><stop offset="0.160" stop-color="#089ad0"/><stop offset="0.200" stop-color="#06a0cd"/><stop offset="0.240" stop-color="#06a5c8"/><stop offset="0.280" stop-color="#08aac0"/><stop offset="0.320" stop-color="#12afb7"/><stop offset="0.360" stop-color="#23b5ab"/><stop offset="0.400" stop-color="#3ab99c"/><stop offset="0.440" stop-color="#57bd8d"/><stop offset="0.480" stop-color="#75bf7e"/><stop offset="0.520" stop-color="#92bf72"/><stop offset="0.560" stop-color="#abbe69"/><stop offset="0.600" stop-color="#c0bc60"/><stop offset="0.640" stop-color="#d2bb59"/><stop offset="0.680" stop-color="#e2b952"/><stop offset="0.720" stop-color="#f1b94a"/><stop offset="0.760" stop-color="#fdbe3e"/><stop offset="0.800" stop-color="#fec832"/><stop offset="0.840" stop-color="#f9d429"/><stop offset="0.880" stop-color="#f5e020"/><stop offset="0.920" stop-color="#f5ee16"/><stop offset="0.960" stop-color="#f9fb0e"/><stop offset="1.000" stop-color="#f9fb0e"/></linearGradient>
<linearGradient id="h54" x1="730.4" x2="965.6" gradientUnits="userSpaceOnUse"><stop offset="0.000" stop-color="#1487d3"/><stop offset="0.040" stop-color="#128bd3"/><stop offset="0.080" stop-color="#0f90d2"/><stop offset="0.120" stop-color="#0a96d1"/><stop offset="0.160" stop-color="#079cd0"/><stop offset="0.200" stop-color="#06a2cc"/><stop offset="0.240" stop-color="#06a7c5"/><stop offset="0.280" stop-color="#0aacbd"/><stop offset="0.320" stop-color="#18b1b3"/><stop offset="0.360" stop-color="#2bb6a6"/><stop offset="0.400" stop-color="#44bb96"/><stop offset="0.440" stop-color="#63be87"/><stop offset="0.480" stop-color="#82bf79"/><stop offset="0.520" stop-color="#9dbe6e"/><stop offset="0.560" stop-color="#b5bd64"/><stop offset="0.600" stop-color="#cabb5c"/><stop offset="0.640" stop-color="#dcba54"/><stop offset="0.680" stop-color="#ebb94d"/><stop offset="0.720" stop-color="#f9bb43"/><stop offset="0.760" stop-color="#ffc337"/><stop offset="0.800" stop-color="#fcce2e"/><stop offset="0.840" stop-color="#f7d925"/><stop offset="0.880" stop-color="#f5e71b"/><stop offset="0.920" stop-color="#f8f710"/><stop offset="0.960" stop-color="#f9fb0e"/><stop offset="1.000" stop-color="#f9fb0e"/></linearGradient>
<linearGradient id="h55" x1="730.4" x2="965.6" gradientUnits="userSpaceOnUse"><stop offset="0.000" stop-color="#1388d3"/><stop offset="0.040" stop-color="#118dd2"/><stop offset="0.080" stop-color="#0d92d2"/><stop offset="0.120" stop-color="#0998d1"/><stop offset="0.160" stop-color="#069ece"/><stop offset="0.200" stop-color="#06a4ca"/><stop offset="0.240" stop-color="#07a9c3"/><stop offset="0.280" stop-color="#0eaeba"/><stop offset="0.320" stop-color="#1eb3ae"/><stop offset="0.360" stop-color="#33b8a1"/><stop offset="0.400" stop-color="#4fbc91"/><stop offset="0.440" stop-color="#6fbf81"/><stop offset="0.480" stop-color="#8ebf74"/><stop offset="0.520" stop-color="#a8be6a"/><stop offset="0.560" stop-color="#bfbc60"/><stop offset="0.600" stop-color="#d3bb58"/><stop offset="0.640" stop-color="#e5b950"/><stop offset="0.680" stop-color="#f4ba47"/><stop offset="0.720" stop-color="#febf3c"/><stop offset="0.760" stop-color="#fec832"/><stop offset="0.800" stop-color="#fad22a"/><stop offset="0.840" stop-color="#f5df21"/><stop offset="0.880" stop-color="#f5ee16"/><stop offset="0.920" stop-color="#f9fb0e"/><stop offset="0.960" stop-color="#f9fb0e"/><stop offset="1.000" stop-color="#f9fb0e"/></linearGradient>
<linearGradient id="h56" x1="730.4" x2="965.6" gradientUnits="userSpaceOnUse"><stop offset="0.000" stop-color="#1389d3"/><stop offset="0.040" stop-color="#118dd2"/><stop offset="0.080" stop-color="#0d93d2"/><stop offset="0.120" stop-color="#0899d1"/><stop offset="0.160" stop-color="#069fce"/><stop offset="0.200" stop-color="#06a5c9"/><stop offset="0.240" stop-color="#07aac1"/><stop offset="0.280" stop-color="#11afb8"/><stop offset="0.320" stop-color="#21b4ac"/><stop offset="0.360" stop-color="#38b99e"/><stop offset="0.400" stop-color="#55bd8e"/><stop offset="0.440" stop-color="#75bf7e"/><stop offset="0.480" stop-color="#94bf72"/><stop offset="0.520" stop-color="#aebe67"/><stop offset="0.560" stop-color="#c4bc5e"/><stop offset="0.600" stop-color="#d8ba56"/><stop offset="0.640" stop-color="#e9b94e"/><stop offset="0.680" stop-color="#f8bb44"/><stop offset="0.720" stop-color="#fec239"/><stop offset="0.760" stop-color="#fdcb30"/><stop offset="0.800" stop-color="#f9d528"/><stop offset="0.840" stop-color="#f5e11f"/><stop offset="0.880" stop-color="#f6f214"/><stop offset="0.920" stop-color="#f9fb0e"/><stop offset="0.960" stop-color="#f9fb0e"/><stop offset="1.000" stop-color="#f9fb0e"/></linearGradient>
<linearGradient id="h57" x1="730.4" x2="965.6" gradientUnits="userSpaceOnUse"><stop offset="0.000" stop-color="#1389d3"/><stop offset="0.040" stop-color="#118dd2"/><stop offset="0.080" stop-color="#0d93d2"/><stop offset="0.120" stop-color="#0899d1"/><stop offset="0.160" stop-color="#069fce"/><stop offset="0.200" stop-color="#06a5c9"/><stop offset="0.240" stop-color="#07aac1"/><stop offset="0.280" stop-color="#11afb8"/><stop offset="0.320" stop-color="#21b4ac"/><stop offset="0.360" stop-color="#38b99e"/><stop offset="0.400" stop-color="#55bd8e"/><stop offset="0.440" stop-color="#75bf7e"/><stop offset="0.480" stop-color="#94bf72"/><stop offset="0.520" stop-color="#aebe67"/><stop offset="0.560" stop-color="#c4bc5e"/><stop offset="0.600" stop-color="#d8ba56"/><stop offset="0.640" stop-color="#e9b94e"/><stop offset="0.680" stop-color="#f8bb44"/><stop offset="0.720" stop-color="#fec239"/><stop offset="0.760" stop-color="#fdcb30"/><stop offset="0.800" stop-color="#f9d528"/><stop offset="0.840" stop-color="#f5e11f"/><stop offset="0.880" stop-color="#f6f214"/><stop offset="0.920" stop-color="#f9fb0e"/><stop offset="0.960" stop-color="#f9fb0e"/><stop offset="1.000" stop-color="#f9fb0e"/></linearGradient>
<filter id="hblur" x="-5%%" y="-5%%" width="110%%" height="110%%"><feGaussianBlur stdDeviation="1.6"/></filter>
<clipPath id="cliph"><rect x="730.4" y="316.4" width="235.2" height="214.3"/></clipPath>
<linearGradient id="cbar" x1="0" y1="0" x2="0" y2="1"><stop offset="0.000" stop-color="#f9fb0e"/><stop offset="0.031" stop-color="#f5eb18"/><stop offset="0.062" stop-color="#f5de21"/><stop offset="0.094" stop-color="#f9d329"/><stop offset="0.125" stop-color="#fec932"/><stop offset="0.156" stop-color="#febf3c"/><stop offset="0.188" stop-color="#f2b949"/><stop offset="0.219" stop-color="#e3b951"/><stop offset="0.250" stop-color="#d3bb58"/><stop offset="0.281" stop-color="#c2bc5f"/><stop offset="0.312" stop-color="#b1bd66"/><stop offset="0.344" stop-color="#9fbe6d"/><stop offset="0.375" stop-color="#8bbf75"/><stop offset="0.406" stop-color="#75bf7e"/><stop offset="0.438" stop-color="#5ebe89"/><stop offset="0.469" stop-color="#47bb95"/><stop offset="0.500" stop-color="#33b8a1"/><stop offset="0.531" stop-color="#21b4ac"/><stop offset="0.562" stop-color="#13b0b6"/><stop offset="0.594" stop-color="#09abbf"/><stop offset="0.625" stop-color="#06a6c7"/><stop offset="0.656" stop-color="#069fce"/><stop offset="0.688" stop-color="#0a97d1"/><stop offset="0.719" stop-color="#118dd2"/><stop offset="0.750" stop-color="#1484d4"/><stop offset="0.781" stop-color="#127cd8"/><stop offset="0.812" stop-color="#0c74dd"/><stop offset="0.844" stop-color="#046ce0"/><stop offset="0.875" stop-color="#0462e0"/><stop offset="0.906" stop-color="#2152d2"/><stop offset="0.938" stop-color="#3243b9"/><stop offset="0.969" stop-color="#36369f"/><stop offset="1.000" stop-color="#352a87"/></linearGradient>
<linearGradient id="photoG" x1="0" y1="0" x2="1" y2="1"><stop offset="0" stop-color="#f5e0a9"/><stop offset="0.5" stop-color="#f1dba3"/><stop offset="1" stop-color="#e9d19a"/></linearGradient>
<filter id="soft" x="-10%" y="-10%" width="120%" height="120%"><feGaussianBlur stdDeviation="0.55"/></filter>
<radialGradient id="dot0"><stop offset="0" stop-color="#fffbe8"/><stop offset="0.5" stop-color="#fbf0cc"/><stop offset="1" stop-color="#efd9a8" stop-opacity="0"/></radialGradient>
<radialGradient id="dot1"><stop offset="0" stop-color="#fef4d6"/><stop offset="0.55" stop-color="#fbedc8"/><stop offset="0.8" stop-color="#f3dfb4" stop-opacity="0.75"/><stop offset="1" stop-color="#ecd2a2" stop-opacity="0"/></radialGradient>
<radialGradient id="dot2"><stop offset="0" stop-color="#fffbe6"/><stop offset="0.5" stop-color="#fef7dc"/><stop offset="0.68" stop-color="#fbefcc"/><stop offset="0.8" stop-color="#f0dcb0"/><stop offset="0.9" stop-color="#e4c49c" stop-opacity="0.8"/><stop offset="1" stop-color="#e9cf9a" stop-opacity="0"/></radialGradient>
<clipPath id="clipc"><rect x="711" y="19.5" width="276" height="222"/></clipPath>
<clipPath id="clipd"><rect x="66.5" y="304.4" width="274.5" height="221.8"/></clipPath>
<clipPath id="clipe"><rect x="399.3" y="301.9" width="275.4" height="221.1"/></clipPath></defs>
<rect width="1035" height="577" fill="#fff"/>
<rect x="81.2" y="8.5" width="254.5" height="237.3" fill="url(#photoG)"/>
<g filter="url(#soft)">
<circle cx="92.6" cy="24" r="4.2" fill="url(#dot0)"/>
<circle cx="92.6" cy="24" r="1.6" fill="#fffdf2"/>
<circle cx="121.5" cy="24" r="4.2" fill="url(#dot0)"/>
<circle cx="121.5" cy="24" r="1.6" fill="#fffdf2"/>
<circle cx="149.9" cy="24" r="4.2" fill="url(#dot0)"/>
<circle cx="149.9" cy="24" r="1.6" fill="#fffdf2"/>
<circle cx="178.6" cy="24" r="4.2" fill="url(#dot0)"/>
<circle cx="178.6" cy="24" r="1.6" fill="#fffdf2"/>
<circle cx="206.9" cy="24" r="4.2" fill="url(#dot0)"/>
<circle cx="206.9" cy="24" r="1.6" fill="#fffdf2"/>
<circle cx="235.6" cy="24" r="4.2" fill="url(#dot0)"/>
<circle cx="235.6" cy="24" r="1.6" fill="#fffdf2"/>
<circle cx="264.3" cy="24" r="4.2" fill="url(#dot0)"/>
<circle cx="264.3" cy="24" r="1.6" fill="#fffdf2"/>
<circle cx="292.5" cy="24" r="4.2" fill="url(#dot0)"/>
<circle cx="292.5" cy="24" r="1.6" fill="#fffdf2"/>
<circle cx="321.7" cy="24" r="4.2" fill="url(#dot0)"/>
<circle cx="321.7" cy="24" r="1.6" fill="#fffdf2"/>
<g opacity="0.9">
<circle cx="92.6" cy="56.5" r="9" fill="url(#dot1)"/>
<path d="M87 58 A5.8 5.8 0 1 1 98.2 58" fill="none" stroke="#fff9e4" stroke-width="2.2"/>
<circle cx="91.8" cy="57.7" r="2.7" fill="#fffdf2"/>
</g>
<g opacity="0.9">
<circle cx="121.5" cy="56.5" r="9" fill="url(#dot1)"/>
<path d="M115.9 58 A5.8 5.8 0 1 1 127.1 58" fill="none" stroke="#fff9e4" stroke-width="2.2"/>
<circle cx="120.7" cy="57.7" r="2.7" fill="#fffdf2"/>
</g>
<g opacity="0.9">
<circle cx="149.9" cy="56.5" r="9" fill="url(#dot1)"/>
<path d="M144.3 58 A5.8 5.8 0 1 1 155.5 58" fill="none" stroke="#fff9e4" stroke-width="2.2"/>
<circle cx="149.1" cy="57.7" r="2.7" fill="#fffdf2"/>
</g>
<g opacity="0.9">
<circle cx="178.6" cy="56.5" r="9" fill="url(#dot1)"/>
<path d="M173 58 A5.8 5.8 0 1 1 184.2 58" fill="none" stroke="#fff9e4" stroke-width="2.2"/>
<circle cx="177.8" cy="57.7" r="2.7" fill="#fffdf2"/>
</g>
<g opacity="0.9">
<circle cx="206.9" cy="56.5" r="9" fill="url(#dot1)"/>
<path d="M201.3 58 A5.8 5.8 0 1 1 212.5 58" fill="none" stroke="#fff9e4" stroke-width="2.2"/>
<circle cx="206.1" cy="57.7" r="2.7" fill="#fffdf2"/>
</g>
<g opacity="0.9">
<circle cx="235.6" cy="56.5" r="9" fill="url(#dot1)"/>
<path d="M230 58 A5.8 5.8 0 1 1 241.2 58" fill="none" stroke="#fff9e4" stroke-width="2.2"/>
<circle cx="234.8" cy="57.7" r="2.7" fill="#fffdf2"/>
</g>
<g opacity="0.9">
<circle cx="264.3" cy="56.5" r="9" fill="url(#dot1)"/>
<path d="M258.7 58 A5.8 5.8 0 1 1 269.9 58" fill="none" stroke="#fff9e4" stroke-width="2.2"/>
<circle cx="263.5" cy="57.7" r="2.7" fill="#fffdf2"/>
</g>
<g opacity="0.9">
<circle cx="292.5" cy="56.5" r="9" fill="url(#dot1)"/>
<path d="M286.9 58 A5.8 5.8 0 1 1 298.1 58" fill="none" stroke="#fff9e4" stroke-width="2.2"/>
<circle cx="291.7" cy="57.7" r="2.7" fill="#fffdf2"/>
</g>
<g opacity="0.9">
<circle cx="321.7" cy="56.5" r="9" fill="url(#dot1)"/>
<path d="M316.1 58 A5.8 5.8 0 1 1 327.3 58" fill="none" stroke="#fff9e4" stroke-width="2.2"/>
<circle cx="320.9" cy="57.7" r="2.7" fill="#fffdf2"/>
</g>
<g opacity="1.0">
<circle cx="92.6" cy="90.5" r="9" fill="url(#dot1)"/>
<path d="M87 92 A5.8 5.8 0 1 1 98.2 92" fill="none" stroke="#fff9e4" stroke-width="2.2"/>
<circle cx="91.8" cy="91.7" r="2.7" fill="#fffdf2"/>
</g>
<g opacity="1.0">
<circle cx="121.5" cy="90.5" r="9" fill="url(#dot1)"/>
<path d="M115.9 92 A5.8 5.8 0 1 1 127.1 92" fill="none" stroke="#fff9e4" stroke-width="2.2"/>
<circle cx="120.7" cy="91.7" r="2.7" fill="#fffdf2"/>
</g>
<g opacity="1.0">
<circle cx="149.9" cy="90.5" r="9" fill="url(#dot1)"/>
<path d="M144.3 92 A5.8 5.8 0 1 1 155.5 92" fill="none" stroke="#fff9e4" stroke-width="2.2"/>
<circle cx="149.1" cy="91.7" r="2.7" fill="#fffdf2"/>
</g>
<g opacity="1.0">
<circle cx="178.6" cy="90.5" r="9" fill="url(#dot1)"/>
<path d="M173 92 A5.8 5.8 0 1 1 184.2 92" fill="none" stroke="#fff9e4" stroke-width="2.2"/>
<circle cx="177.8" cy="91.7" r="2.7" fill="#fffdf2"/>
</g>
<g opacity="1.0">
<circle cx="206.9" cy="90.5" r="9" fill="url(#dot1)"/>
<path d="M201.3 92 A5.8 5.8 0 1 1 212.5 92" fill="none" stroke="#fff9e4" stroke-width="2.2"/>
<circle cx="206.1" cy="91.7" r="2.7" fill="#fffdf2"/>
</g>
<g opacity="1.0">
<circle cx="235.6" cy="90.5" r="9" fill="url(#dot1)"/>
<path d="M230 92 A5.8 5.8 0 1 1 241.2 92" fill="none" stroke="#fff9e4" stroke-width="2.2"/>
<circle cx="234.8" cy="91.7" r="2.7" fill="#fffdf2"/>
</g>
<g opacity="1.0">
<circle cx="264.3" cy="90.5" r="9" fill="url(#dot1)"/>
<path d="M258.7 92 A5.8 5.8 0 1 1 269.9 92" fill="none" stroke="#fff9e4" stroke-width="2.2"/>
<circle cx="263.5" cy="91.7" r="2.7" fill="#fffdf2"/>
</g>
<g opacity="1.0">
<circle cx="292.5" cy="90.5" r="9" fill="url(#dot1)"/>
<path d="M286.9 92 A5.8 5.8 0 1 1 298.1 92" fill="none" stroke="#fff9e4" stroke-width="2.2"/>
<circle cx="291.7" cy="91.7" r="2.7" fill="#fffdf2"/>
</g>
<g opacity="1.0">
<circle cx="321.7" cy="90.5" r="9" fill="url(#dot1)"/>
<path d="M316.1 92 A5.8 5.8 0 1 1 327.3 92" fill="none" stroke="#fff9e4" stroke-width="2.2"/>
<circle cx="320.9" cy="91.7" r="2.7" fill="#fffdf2"/>
</g>
<circle cx="92.6" cy="125.3" r="9.4" fill="url(#dot2)"/>
<circle cx="92.6" cy="125.3" r="8.3" fill="none" stroke="#d9a88a" stroke-width="1.1" stroke-dasharray="1.2 2.3" opacity="0.55"/>
<circle cx="121.5" cy="125.3" r="9.4" fill="url(#dot2)"/>
<circle cx="121.5" cy="125.3" r="8.3" fill="none" stroke="#d9a88a" stroke-width="1.1" stroke-dasharray="1.2 2.3" opacity="0.55"/>
<circle cx="149.9" cy="125.3" r="9.4" fill="url(#dot2)"/>
<circle cx="149.9" cy="125.3" r="8.3" fill="none" stroke="#d9a88a" stroke-width="1.1" stroke-dasharray="1.2 2.3" opacity="0.55"/>
<circle cx="178.6" cy="125.3" r="9.4" fill="url(#dot2)"/>
<circle cx="178.6" cy="125.3" r="8.3" fill="none" stroke="#d9a88a" stroke-width="1.1" stroke-dasharray="1.2 2.3" opacity="0.55"/>
<circle cx="206.9" cy="125.3" r="9.4" fill="url(#dot2)"/>
<circle cx="206.9" cy="125.3" r="8.3" fill="none" stroke="#d9a88a" stroke-width="1.1" stroke-dasharray="1.2 2.3" opacity="0.55"/>
<circle cx="235.6" cy="125.3" r="9.4" fill="url(#dot2)"/>
<circle cx="235.6" cy="125.3" r="8.3" fill="none" stroke="#d9a88a" stroke-width="1.1" stroke-dasharray="1.2 2.3" opacity="0.55"/>
<circle cx="264.3" cy="125.3" r="9.4" fill="url(#dot2)"/>
<circle cx="264.3" cy="125.3" r="8.3" fill="none" stroke="#d9a88a" stroke-width="1.1" stroke-dasharray="1.2 2.3" opacity="0.55"/>
<circle cx="292.5" cy="125.3" r="9.4" fill="url(#dot2)"/>
<circle cx="292.5" cy="125.3" r="8.3" fill="none" stroke="#d9a88a" stroke-width="1.1" stroke-dasharray="1.2 2.3" opacity="0.55"/>
<circle cx="321.7" cy="125.3" r="9.4" fill="url(#dot2)"/>
<circle cx="321.7" cy="125.3" r="8.3" fill="none" stroke="#d9a88a" stroke-width="1.1" stroke-dasharray="1.2 2.3" opacity="0.55"/>
<circle cx="92.6" cy="161" r="9.4" fill="url(#dot2)"/>
<circle cx="92.6" cy="161" r="8.3" fill="none" stroke="#d9a88a" stroke-width="1.1" stroke-dasharray="1.2 2.3" opacity="0.55"/>
<circle cx="121.5" cy="161" r="9.4" fill="url(#dot2)"/>
<circle cx="121.5" cy="161" r="8.3" fill="none" stroke="#d9a88a" stroke-width="1.1" stroke-dasharray="1.2 2.3" opacity="0.55"/>
<circle cx="149.9" cy="161" r="9.4" fill="url(#dot2)"/>
<circle cx="149.9" cy="161" r="8.3" fill="none" stroke="#d9a88a" stroke-width="1.1" stroke-dasharray="1.2 2.3" opacity="0.55"/>
<circle cx="178.6" cy="161" r="9.4" fill="url(#dot2)"/>
<circle cx="178.6" cy="161" r="8.3" fill="none" stroke="#d9a88a" stroke-width="1.1" stroke-dasharray="1.2 2.3" opacity="0.55"/>
<circle cx="206.9" cy="161" r="9.4" fill="url(#dot2)"/>
<circle cx="206.9" cy="161" r="8.3" fill="none" stroke="#d9a88a" stroke-width="1.1" stroke-dasharray="1.2 2.3" opacity="0.55"/>
<circle cx="235.6" cy="161" r="9.4" fill="url(#dot2)"/>
<circle cx="235.6" cy="161" r="8.3" fill="none" stroke="#d9a88a" stroke-width="1.1" stroke-dasharray="1.2 2.3" opacity="0.55"/>
<circle cx="264.3" cy="161" r="9.4" fill="url(#dot2)"/>
<circle cx="264.3" cy="161" r="8.3" fill="none" stroke="#d9a88a" stroke-width="1.1" stroke-dasharray="1.2 2.3" opacity="0.55"/>
<circle cx="292.5" cy="161" r="9.4" fill="url(#dot2)"/>
<circle cx="292.5" cy="161" r="8.3" fill="none" stroke="#d9a88a" stroke-width="1.1" stroke-dasharray="1.2 2.3" opacity="0.55"/>
<circle cx="321.7" cy="161" r="9.4" fill="url(#dot2)"/>
<circle cx="321.7" cy="161" r="8.3" fill="none" stroke="#d9a88a" stroke-width="1.1" stroke-dasharray="1.2 2.3" opacity="0.55"/>
<circle cx="92.6" cy="196.3" r="9.4" fill="url(#dot2)"/>
<circle cx="92.6" cy="196.3" r="8.3" fill="none" stroke="#d9a88a" stroke-width="1.1" stroke-dasharray="1.2 2.3" opacity="0.55"/>
<circle cx="121.5" cy="196.3" r="9.4" fill="url(#dot2)"/>
<circle cx="121.5" cy="196.3" r="8.3" fill="none" stroke="#d9a88a" stroke-width="1.1" stroke-dasharray="1.2 2.3" opacity="0.55"/>
<circle cx="149.9" cy="196.3" r="9.4" fill="url(#dot2)"/>
<circle cx="149.9" cy="196.3" r="8.3" fill="none" stroke="#d9a88a" stroke-width="1.1" stroke-dasharray="1.2 2.3" opacity="0.55"/>
<circle cx="178.6" cy="196.3" r="9.4" fill="url(#dot2)"/>
<circle cx="178.6" cy="196.3" r="8.3" fill="none" stroke="#d9a88a" stroke-width="1.1" stroke-dasharray="1.2 2.3" opacity="0.55"/>
<circle cx="206.9" cy="196.3" r="9.4" fill="url(#dot2)"/>
<circle cx="206.9" cy="196.3" r="8.3" fill="none" stroke="#d9a88a" stroke-width="1.1" stroke-dasharray="1.2 2.3" opacity="0.55"/>
<circle cx="235.6" cy="196.3" r="9.4" fill="url(#dot2)"/>
<circle cx="235.6" cy="196.3" r="8.3" fill="none" stroke="#d9a88a" stroke-width="1.1" stroke-dasharray="1.2 2.3" opacity="0.55"/>
<circle cx="264.3" cy="196.3" r="9.4" fill="url(#dot2)"/>
<circle cx="264.3" cy="196.3" r="8.3" fill="none" stroke="#d9a88a" stroke-width="1.1" stroke-dasharray="1.2 2.3" opacity="0.55"/>
<circle cx="292.5" cy="196.3" r="9.4" fill="url(#dot2)"/>
<circle cx="292.5" cy="196.3" r="8.3" fill="none" stroke="#d9a88a" stroke-width="1.1" stroke-dasharray="1.2 2.3" opacity="0.55"/>
<circle cx="321.7" cy="196.3" r="9.4" fill="url(#dot2)"/>
<circle cx="321.7" cy="196.3" r="8.3" fill="none" stroke="#d9a88a" stroke-width="1.1" stroke-dasharray="1.2 2.3" opacity="0.55"/>
<circle cx="92.6" cy="230.8" r="9.4" fill="url(#dot2)"/>
<circle cx="92.6" cy="230.8" r="8.3" fill="none" stroke="#d9a88a" stroke-width="1.1" stroke-dasharray="1.2 2.3" opacity="0.55"/>
<circle cx="121.5" cy="230.8" r="9.4" fill="url(#dot2)"/>
<circle cx="121.5" cy="230.8" r="8.3" fill="none" stroke="#d9a88a" stroke-width="1.1" stroke-dasharray="1.2 2.3" opacity="0.55"/>
<circle cx="149.9" cy="230.8" r="9.4" fill="url(#dot2)"/>
<circle cx="149.9" cy="230.8" r="8.3" fill="none" stroke="#d9a88a" stroke-width="1.1" stroke-dasharray="1.2 2.3" opacity="0.55"/>
<circle cx="178.6" cy="230.8" r="9.4" fill="url(#dot2)"/>
<circle cx="178.6" cy="230.8" r="8.3" fill="none" stroke="#d9a88a" stroke-width="1.1" stroke-dasharray="1.2 2.3" opacity="0.55"/>
<circle cx="206.9" cy="230.8" r="9.4" fill="url(#dot2)"/>
<circle cx="206.9" cy="230.8" r="8.3" fill="none" stroke="#d9a88a" stroke-width="1.1" stroke-dasharray="1.2 2.3" opacity="0.55"/>
<circle cx="235.6" cy="230.8" r="9.4" fill="url(#dot2)"/>
<circle cx="235.6" cy="230.8" r="8.3" fill="none" stroke="#d9a88a" stroke-width="1.1" stroke-dasharray="1.2 2.3" opacity="0.55"/>
<circle cx="264.3" cy="230.8" r="9.4" fill="url(#dot2)"/>
<circle cx="264.3" cy="230.8" r="8.3" fill="none" stroke="#d9a88a" stroke-width="1.1" stroke-dasharray="1.2 2.3" opacity="0.55"/>
<circle cx="292.5" cy="230.8" r="9.4" fill="url(#dot2)"/>
<circle cx="292.5" cy="230.8" r="8.3" fill="none" stroke="#d9a88a" stroke-width="1.1" stroke-dasharray="1.2 2.3" opacity="0.55"/>
<circle cx="321.7" cy="230.8" r="9.4" fill="url(#dot2)"/>
<circle cx="321.7" cy="230.8" r="8.3" fill="none" stroke="#d9a88a" stroke-width="1.1" stroke-dasharray="1.2 2.3" opacity="0.55"/>
</g>
<rect x="194.9" y="11.9" width="23.7" height="230.8" fill="none" stroke="#14a84a" stroke-width="2" stroke-dasharray="5.5 2.5"/>
<text x="85.6" y="26.2" font-size="12.5" font-weight="bold" text-anchor="start" fill="#ff0000" textLength="104.5" lengthAdjust="spacingAndGlyphs" >A&#8722;GST background</text>
<text x="293" y="19.7" font-size="10" text-anchor="start" fill="#ffffff" stroke="#ffffff" stroke-width="0.3" textLength="27" lengthAdjust="spacingAndGlyphs" >10 &#956;m</text>
<rect x="300" y="24" width="12.2" height="3" fill="#ffffff"/>
<g stroke="#000" stroke-width="1.6" fill="none">
<path d="M81.2 246.5 V1"/>
<path d="M76.8 5.5 L81.2 0.8 L85.6 5.5"/>
<path d="M80.4 245.8 H343.5"/>
<path d="M339 241.4 L343.7 245.8 L339 250.2"/>
<path d="M76.5 23.9 H81"/>
<path d="M76.5 89.1 H81"/>
<path d="M76.5 160.4 H81"/>
<path d="M76.5 231.2 H81"/>
<path d="M78.5 55.2 H81"/>
<path d="M78.5 124.9 H81"/>
<path d="M78.5 196 H81"/>
<path d="M92.6 245.8 V250.5"/>
<path d="M121.5 245.8 V248.5"/>
<path d="M149.9 245.8 V250.5"/>
<path d="M178.6 245.8 V248.5"/>
<path d="M206.9 245.8 V250.5"/>
<path d="M235.6 245.8 V248.5"/>
<path d="M264.3 245.8 V250.5"/>
<path d="M292.5 245.8 V248.5"/>
<path d="M321.7 245.8 V250.5"/>
</g>
<text x="72.3" y="28.1" font-size="12.4" text-anchor="end" fill="#000" stroke="#000" stroke-width="0.35" textLength="14.4" lengthAdjust="spacingAndGlyphs" >6.6</text>
<text x="72.3" y="93.3" font-size="12.4" text-anchor="end" fill="#000" stroke="#000" stroke-width="0.35" textLength="14.4" lengthAdjust="spacingAndGlyphs" >7.4</text>
<text x="72.3" y="164.6" font-size="12.4" text-anchor="end" fill="#000" stroke="#000" stroke-width="0.35" textLength="14.4" lengthAdjust="spacingAndGlyphs" >8.2</text>
<text x="72.3" y="235.4" font-size="12.4" text-anchor="end" fill="#000" stroke="#000" stroke-width="0.35" textLength="14.4" lengthAdjust="spacingAndGlyphs" >9.0</text>
<text x="91.5" y="264.4" font-size="12.4" text-anchor="middle" fill="#000" stroke="#000" stroke-width="0.35" textLength="11.3" lengthAdjust="spacingAndGlyphs" >26</text>
<text x="151.2" y="264.4" font-size="12.4" text-anchor="middle" fill="#000" stroke="#000" stroke-width="0.35" textLength="11.3" lengthAdjust="spacingAndGlyphs" >28</text>
<text x="208" y="264.4" font-size="12.4" text-anchor="middle" fill="#000" stroke="#000" stroke-width="0.35" textLength="11.3" lengthAdjust="spacingAndGlyphs" >30</text>
<text x="265.6" y="264.4" font-size="12.4" text-anchor="middle" fill="#000" stroke="#000" stroke-width="0.35" textLength="11.3" lengthAdjust="spacingAndGlyphs" >32</text>
<text x="320.7" y="264.4" font-size="12.4" text-anchor="middle" fill="#000" stroke="#000" stroke-width="0.35" textLength="11.3" lengthAdjust="spacingAndGlyphs" >34</text>
<text x="147.4" y="287.2" font-size="14.5" text-anchor="start" fill="#000" stroke="#000" stroke-width="0.65" textLength="105.6" lengthAdjust="spacingAndGlyphs" >Pulse width (ns)</text>
<text x="44.7" y="185.8" font-size="14.5" text-anchor="start" fill="#000" stroke="#000" stroke-width="0.65" textLength="114.5" lengthAdjust="spacingAndGlyphs" transform="rotate(-90 44.7 185.8)" >Drive Current (A)</text>
<text x="9.7" y="17.2" font-size="15" font-weight="bold" text-anchor="start" fill="#000" textLength="19.9" lengthAdjust="spacingAndGlyphs" >(a)</text>
<path d="M392.0 20.7 H668.4 V243.2" fill="none" stroke="#404040" stroke-width="1.1"/>
<path d="M392.0 20.7 V243.2" fill="none" stroke="#606060" stroke-width="1.3"/>
<path d="M391.4 243.2 H668.9" fill="none" stroke="#000" stroke-width="1.5"/>
<g stroke="#000" stroke-width="1.2">
<path d="M387.6 239.9 H392"/>
<path d="M389.5 218.4 H392"/>
<path d="M387.6 196.9 H392"/>
<path d="M389.5 175.3 H392"/>
<path d="M387.6 153.8 H392"/>
<path d="M389.5 132.3 H392"/>
<path d="M387.6 110.8 H392"/>
<path d="M389.5 89.3 H392"/>
<path d="M387.6 67.7 H392"/>
<path d="M389.5 46.2 H392"/>
<path d="M387.6 24.7 H392"/>
<path d="M399.4 243.2 V247.8"/>
<path d="M418.1 243.2 V246"/>
<path d="M436.8 243.2 V247.8"/>
<path d="M455.5 243.2 V246"/>
<path d="M474.1 243.2 V247.8"/>
<path d="M492.8 243.2 V246"/>
<path d="M511.5 243.2 V247.8"/>
<path d="M530.2 243.2 V246"/>
<path d="M548.9 243.2 V247.8"/>
<path d="M567.6 243.2 V246"/>
<path d="M586.2 243.2 V247.8"/>
<path d="M604.9 243.2 V246"/>
<path d="M623.6 243.2 V247.8"/>
<path d="M642.3 243.2 V246"/>
<path d="M661 243.2 V247.8"/>
</g>
<path d="M399.4 239.9 L436.8 183.9 L474.1 138.8 L511.5 78.5 L548.9 52.7 L586.2 40.6 L623.6 24.7 L661 24.7" fill="none" stroke="#000" stroke-width="1.3"/>
<rect x="397.3" y="237.8" width="4.2" height="4.2" fill="#000"/>
<rect x="434.7" y="181.8" width="4.2" height="4.2" fill="#000"/>
<rect x="472" y="136.7" width="4.2" height="4.2" fill="#000"/>
<rect x="509.4" y="76.4" width="4.2" height="4.2" fill="#000"/>
<rect x="546.8" y="50.6" width="4.2" height="4.2" fill="#000"/>
<rect x="584.1" y="38.5" width="4.2" height="4.2" fill="#000"/>
<rect x="621.5" y="22.6" width="4.2" height="4.2" fill="#000"/>
<rect x="658.9" y="22.6" width="4.2" height="4.2" fill="#000"/>
<text x="384.2" y="243.9" font-size="12.4" text-anchor="end" fill="#000" stroke="#000" stroke-width="0.35" textLength="5.7" lengthAdjust="spacingAndGlyphs" >0</text>
<text x="384.2" y="200.9" font-size="12.4" text-anchor="end" fill="#000" stroke="#000" stroke-width="0.35" textLength="11.4" lengthAdjust="spacingAndGlyphs" >20</text>
<text x="384.2" y="157.8" font-size="12.4" text-anchor="end" fill="#000" stroke="#000" stroke-width="0.35" textLength="11.4" lengthAdjust="spacingAndGlyphs" >40</text>
<text x="384.2" y="114.8" font-size="12.4" text-anchor="end" fill="#000" stroke="#000" stroke-width="0.35" textLength="11.4" lengthAdjust="spacingAndGlyphs" >60</text>
<text x="384.2" y="71.7" font-size="12.4" text-anchor="end" fill="#000" stroke="#000" stroke-width="0.35" textLength="11.4" lengthAdjust="spacingAndGlyphs" >80</text>
<text x="384.2" y="28.7" font-size="12.4" text-anchor="end" fill="#000" stroke="#000" stroke-width="0.35" textLength="17.1" lengthAdjust="spacingAndGlyphs" >100</text>
<text x="399.4" y="258.7" font-size="12.4" text-anchor="middle" fill="#000" stroke="#000" stroke-width="0.35" textLength="5.7" lengthAdjust="spacingAndGlyphs" >1</text>
<text x="436.8" y="258.7" font-size="12.4" text-anchor="middle" fill="#000" stroke="#000" stroke-width="0.35" textLength="5.7" lengthAdjust="spacingAndGlyphs" >2</text>
<text x="474.1" y="258.7" font-size="12.4" text-anchor="middle" fill="#000" stroke="#000" stroke-width="0.35" textLength="5.7" lengthAdjust="spacingAndGlyphs" >3</text>
<text x="511.5" y="258.7" font-size="12.4" text-anchor="middle" fill="#000" stroke="#000" stroke-width="0.35" textLength="5.7" lengthAdjust="spacingAndGlyphs" >4</text>
<text x="548.9" y="258.7" font-size="12.4" text-anchor="middle" fill="#000" stroke="#000" stroke-width="0.35" textLength="5.7" lengthAdjust="spacingAndGlyphs" >5</text>
<text x="586.2" y="258.7" font-size="12.4" text-anchor="middle" fill="#000" stroke="#000" stroke-width="0.35" textLength="5.7" lengthAdjust="spacingAndGlyphs" >6</text>
<text x="623.6" y="258.7" font-size="12.4" text-anchor="middle" fill="#000" stroke="#000" stroke-width="0.35" textLength="5.7" lengthAdjust="spacingAndGlyphs" >7</text>
<text x="661" y="258.7" font-size="12.4" text-anchor="middle" fill="#000" stroke="#000" stroke-width="0.35" textLength="5.7" lengthAdjust="spacingAndGlyphs" >8</text>
<text x="398.7" y="37.4" font-size="12" font-weight="bold" text-anchor="start" fill="#000" textLength="39.3" lengthAdjust="spacingAndGlyphs" >532 nm</text>
<text x="359.8" y="219.6" font-size="14.5" text-anchor="start" fill="#000" stroke="#000" stroke-width="0.65" textLength="175.4" lengthAdjust="spacingAndGlyphs" transform="rotate(-90 359.8 219.6)" >Normalized Reflectivity (%)</text>
<text x="489.6" y="286.4" font-size="14.5" text-anchor="start" fill="#000" stroke="#000" stroke-width="0.65" textLength="80.4" lengthAdjust="spacingAndGlyphs" >Pulse Energy</text>
<text x="342.6" y="15.4" font-size="15" font-weight="bold" text-anchor="start" fill="#000" textLength="19.4" lengthAdjust="spacingAndGlyphs" >(b)</text>
<path d="M555.9 243 V91.7 H668.4" fill="none" stroke="#555" stroke-width="1"/>
<text x="557.8" y="106.4" font-size="11.5" text-anchor="start" fill="#000" stroke="#000" stroke-width="0.45" textLength="105.5" lengthAdjust="spacingAndGlyphs" >1: A&#8722;GST background</text>
<text x="557.8" y="125.1" font-size="11.5" text-anchor="start" fill="#000" stroke="#000" stroke-width="0.45" textLength="99.5" lengthAdjust="spacingAndGlyphs" >2: 22.9 mJ/cm<tspan dy="-4" font-size="7">2</tspan><tspan dy="4"> &amp; 30ns</tspan></text>
<text x="557.8" y="143.8" font-size="11.5" text-anchor="start" fill="#000" stroke="#000" stroke-width="0.45" textLength="99.5" lengthAdjust="spacingAndGlyphs" >3: 27.6 mJ/cm<tspan dy="-4" font-size="7">2</tspan><tspan dy="4"> &amp; 30ns</tspan></text>
<text x="557.8" y="162.5" font-size="11.5" text-anchor="start" fill="#000" stroke="#000" stroke-width="0.45" textLength="99.5" lengthAdjust="spacingAndGlyphs" >4: 31.2 mJ/cm<tspan dy="-4" font-size="7">2</tspan><tspan dy="4"> &amp; 30ns</tspan></text>
<text x="557.8" y="181.2" font-size="11.5" text-anchor="start" fill="#000" stroke="#000" stroke-width="0.45" textLength="99.5" lengthAdjust="spacingAndGlyphs" >5: 35.8 mJ/cm<tspan dy="-4" font-size="7">2</tspan><tspan dy="4"> &amp; 30ns</tspan></text>
<text x="557.8" y="199.9" font-size="11.5" text-anchor="start" fill="#000" stroke="#000" stroke-width="0.45" textLength="99.5" lengthAdjust="spacingAndGlyphs" >6: 40.1 mJ/cm<tspan dy="-4" font-size="7">2</tspan><tspan dy="4"> &amp; 30ns</tspan></text>
<text x="557.8" y="218.5" font-size="11.5" text-anchor="start" fill="#000" stroke="#000" stroke-width="0.45" textLength="99.5" lengthAdjust="spacingAndGlyphs" >7: 47.3 mJ/cm<tspan dy="-4" font-size="7">2</tspan><tspan dy="4"> &amp; 30ns</tspan></text>
<text x="557.8" y="237.2" font-size="11.5" text-anchor="start" fill="#000" stroke="#000" stroke-width="0.45" textLength="99.5" lengthAdjust="spacingAndGlyphs" >8: 54.5 mJ/cm<tspan dy="-4" font-size="7">2</tspan><tspan dy="4"> &amp; 30ns</tspan></text>
<path d="M710.7 19.2 H987.1 V242.0" fill="none" stroke="#404040" stroke-width="1.1"/>
<path d="M710.7 19.2 V242.0" fill="none" stroke="#606060" stroke-width="1.3"/>
<path d="M710.1 242.0 H987.6" fill="none" stroke="#000" stroke-width="1.5"/>
<g stroke="#000" stroke-width="1.2">
<path d="M710.6 242 V246.6"/>
<path d="M744.9 242 V244.8"/>
<path d="M779.2 242 V246.6"/>
<path d="M813.5 242 V244.8"/>
<path d="M847.8 242 V246.6"/>
<path d="M882 242 V244.8"/>
<path d="M916.3 242 V246.6"/>
<path d="M950.6 242 V244.8"/>
<path d="M984.9 242 V246.6"/>
</g>
<text x="710.6" y="257.7" font-size="12.4" text-anchor="middle" fill="#000" stroke="#000" stroke-width="0.35" textLength="11.7" lengthAdjust="spacingAndGlyphs" >50</text>
<text x="779.2" y="257.7" font-size="12.4" text-anchor="middle" fill="#000" stroke="#000" stroke-width="0.35" textLength="17.5" lengthAdjust="spacingAndGlyphs" >100</text>
<text x="847.8" y="257.7" font-size="12.4" text-anchor="middle" fill="#000" stroke="#000" stroke-width="0.35" textLength="17.5" lengthAdjust="spacingAndGlyphs" >150</text>
<text x="916.3" y="257.7" font-size="12.4" text-anchor="middle" fill="#000" stroke="#000" stroke-width="0.35" textLength="17.5" lengthAdjust="spacingAndGlyphs" >200</text>
<text x="984.9" y="257.7" font-size="12.4" text-anchor="middle" fill="#000" stroke="#000" stroke-width="0.35" textLength="17.5" lengthAdjust="spacingAndGlyphs" >250</text>
<text x="790.8" y="284.1" font-size="14.5" text-anchor="start" fill="#000" stroke="#000" stroke-width="0.65" textLength="116.4" lengthAdjust="spacingAndGlyphs" >Raman Shift (cm<tspan dy="-5" font-size="9">-1</tspan><tspan dy="5">)</tspan></text>
<text x="691.8" y="171.5" font-size="14.5" text-anchor="start" fill="#000" stroke="#000" stroke-width="0.65" textLength="90.7" lengthAdjust="spacingAndGlyphs" transform="rotate(-90 691.8 171.5)" >Intensity (a.u.)</text>
<text x="686.5" y="17" font-size="16" font-weight="bold" text-anchor="start" fill="#000" textLength="18.5" lengthAdjust="spacingAndGlyphs" >(c)</text>
<g fill="none" stroke-width="2.6" stroke-linejoin="round" stroke-linecap="round" clip-path="url(#clipc)">
<path d="M711 230C712.2 230.2 715.8 230.7 718 231C720.2 231.3 721.5 234.2 724 232C726.5 229.8 730 225.7 733 218C736 210.3 739 195.7 742 186C745 176.3 748 170.3 751 160C754 149.7 757.2 135.7 760 124C762.8 112.3 765.5 101 768 90C770.5 79 773 66.3 775 58C777 49.7 778.3 44.2 780 40C781.7 35.8 783.3 33.5 785 33C786.7 32.5 788 34.2 790 37C792 39.8 794.7 45.8 797 50C799.3 54.2 802 58.3 804 62C806 65.7 807.3 68.2 809 72C810.7 75.8 812.3 81.2 814 85C815.7 88.8 817 93.5 819 95C821 96.5 823.7 92.8 826 94C828.3 95.2 830.3 99.2 833 102C835.7 104.8 839.2 108.8 842 111C844.8 113.2 847.7 112.7 850 115C852.3 117.3 854 119.8 856 125C858 130.2 860.2 140.2 862 146C863.8 151.8 865.3 155.3 867 160C868.7 164.7 870.2 168.2 872 174C873.8 179.8 876 189 878 195C880 201 882 206.2 884 210C886 213.8 887.3 216.3 890 218C892.7 219.7 895.8 219.3 900 220C904.2 220.7 910 222 915 222C920 222 925 220.8 930 220C935 219.2 940 217.8 945 217C950 216.2 955.8 215.5 960 215C964.2 214.5 966.7 214 970 214C973.3 214 977.2 214.5 980 215C982.8 215.5 985.8 216.7 987 217" stroke="#515151"/>
<path d="M711 226C712.5 226.3 716.8 227.3 720 228C723.2 228.7 727 231.3 730 230C733 228.7 735.3 226.7 738 220C740.7 213.3 743.3 200 746 190C748.7 180 751.3 170.8 754 160C756.7 149.2 759.5 136.3 762 125C764.5 113.7 766.8 103.2 769 92C771.2 80.8 773.3 66 775 58C776.7 50 777.5 47.1 779 44C780.5 40.9 782.2 39.7 784 39.4C785.8 39.1 787.8 39.6 790 42C792.2 44.4 794.8 49.3 797 54C799.2 58.7 801.2 64.3 803 70C804.8 75.7 806.2 81.8 808 88C809.8 94.2 812 105 814 107C816 109 817.8 102.4 820 100C822.2 97.6 824.7 92.2 827 92.5C829.3 92.8 831.5 98.1 834 102C836.5 105.9 839.3 113.2 842 116C844.7 118.8 847.5 115.8 850 118.5C852.5 121.2 854.7 125.9 857 132C859.3 138.1 861.8 148.3 864 155C866.2 161.7 867.7 164.8 870 172C872.3 179.2 875.3 190.8 878 198C880.7 205.2 883.2 211 886 215C888.8 219 891 220.8 895 222C899 223.2 904.8 222 910 222C915.2 222 921 222.3 926 222C931 221.7 936.2 220.5 940 220C943.8 219.5 945.7 219.3 949 219C952.3 218.7 956.5 218.5 960 218C963.5 217.5 967 216 970 216C973 216 975.2 217.3 978 218C980.8 218.7 985.5 219.7 987 220" stroke="#F14040"/>
<path d="M711 235C712.3 234 715.8 230.5 719 229C722.2 227.5 726.7 229.2 730 226C733.3 222.8 736.2 216.2 739 210C741.8 203.8 744.2 197.3 747 189C749.8 180.7 753.2 170.7 756 160C758.8 149.3 761.3 136.7 764 125C766.7 113.3 769.7 99.5 772 90C774.3 80.5 776.3 72.8 778 68C779.7 63.2 780.8 62.5 782 61C783.2 59.5 783.8 58.8 785 59C786.2 59.2 787.3 59.8 789 62C790.7 64.2 793.2 68.2 795 72C796.8 75.8 798 80.8 800 85C802 89.2 804.7 93.6 807 97C809.3 100.4 811.8 103.8 814 105.5C816.2 107.2 818.2 106.7 820 107C821.8 107.3 822.3 105.1 825 107.3C827.7 109.5 832.3 115.7 836 120C839.7 124.3 843.5 128.9 847 133C850.5 137.1 854.2 140 857 144.5C859.8 149 862 155.4 864 160C866 164.6 867 166.2 869 172C871 177.8 873.5 187.8 876 195C878.5 202.2 881.2 209.8 884 215C886.8 220.2 890.3 224.5 893 226C895.7 227.5 897.2 224.7 900 224C902.8 223.3 905.8 221.8 910 222C914.2 222.2 920.8 224.8 925 225C929.2 225.2 931 224.3 935 223.5C939 222.7 945.2 220.9 949 220C952.8 219.1 955.3 218.5 958 218C960.7 217.5 962.2 216.5 965 217C967.8 217.5 971.3 220.7 975 221C978.7 221.3 985 219.3 987 219" stroke="#1A6FDF"/>
<path d="M711 226C712.3 224.7 716.5 218.3 719 218C721.5 217.7 723.8 221.5 726 224C728.2 226.5 729.8 233.2 732 233C734.2 232.8 736.3 229.3 739 223C741.7 216.7 745.2 205.5 748 195C750.8 184.5 753.3 171.5 756 160C758.7 148.5 761.3 137.3 764 126C766.7 114.7 769.5 102.2 772 92C774.5 81.8 777.3 70.7 779 65C780.7 59.3 781 59.5 782 58C783 56.5 783.8 55.8 785 56C786.2 56.2 787.3 56.7 789 59C790.7 61.3 793.2 66.2 795 70C796.8 73.8 798.2 77 800 82C801.8 87 804 94.2 806 100C808 105.8 810 112.3 812 117C814 121.7 815.8 124.8 818 128C820.2 131.2 822.2 134.4 825 136C827.8 137.6 832.2 137.7 835 137.5C837.8 137.3 840 135.8 842 135C844 134.2 845.2 132.7 847 133C848.8 133.3 851 135.1 853 137C855 138.9 857 140.7 859 144.5C861 148.3 863.2 154.9 865 160C866.8 165.1 868 168.7 870 175C872 181.3 874.5 191.5 877 198C879.5 204.5 882.3 210.5 885 214C887.7 217.5 890.7 218 893 219C895.3 220 896.2 220 899 220C901.8 220 906.5 219.5 910 219C913.5 218.5 916.7 217.2 920 217C923.3 216.8 927 217.7 930 218C933 218.3 935 219.5 938 219C941 218.5 945 216.3 948 215C951 213.7 952.7 211.8 956 211C959.3 210.2 964.3 209.7 968 210C971.7 210.3 974.8 212 978 213C981.2 214 985.5 215.5 987 216" stroke="#37AD6B"/>
<path d="M711 208C712 210.3 714.2 218.7 717 222C719.8 225.3 724.8 227.7 728 228C731.2 228.3 733.3 227.8 736 224C738.7 220.2 741.3 212.3 744 205C746.7 197.7 749.3 189.5 752 180C754.7 170.5 757.3 159.3 760 148C762.7 136.7 765.5 122.5 768 112C770.5 101.5 773 91.7 775 85C777 78.3 778.3 75.2 780 72C781.7 68.8 783.3 66.3 785 66C786.7 65.7 788.2 67.7 790 70C791.8 72.3 793.8 75.8 796 80C798.2 84.2 800.8 90 803 95C805.2 100 806.3 106.7 809 110C811.7 113.3 815.7 113.2 819 115C822.3 116.8 825.8 119 829 121C832.2 123 835.5 124.8 838 127C840.5 129.2 842 130 844 134C846 138 847.5 147.5 850 151C852.5 154.5 856.3 151.8 859 155C861.7 158.2 863.8 165 866 170C868.2 175 870 179.2 872 185C874 190.8 875.7 199.5 878 205C880.3 210.5 883.2 215.2 886 218C888.8 220.8 891.8 221.3 895 222C898.2 222.7 901.7 222 905 222C908.3 222 910.8 222.7 915 222C919.2 221.3 924.3 219.3 930 218C935.7 216.7 943.2 215.8 949 214C954.8 212.2 960.2 208 965 207C969.8 206 974.3 207.7 978 208C981.7 208.3 985.5 208.8 987 209" stroke="#B177DE"/>
<path d="M711 222C711.8 221.8 713.8 220.3 716 221C718.2 221.7 721.2 224.3 724 226C726.8 227.7 730.2 232.5 733 231C735.8 229.5 738.2 223.8 741 217C743.8 210.2 746.8 199.5 750 190C753.2 180.5 757.2 169.7 760 160C762.8 150.3 764.5 141.7 767 132C769.5 122.3 772.7 109.8 775 102C777.3 94.2 779 88.8 781 85C783 81.2 785 79.2 787 79C789 78.8 790.8 80.5 793 84C795.2 87.5 797.7 92.8 800 100C802.3 107.2 804.5 120.7 807 127C809.5 133.3 812 134.7 815 138C818 141.3 822 145.7 825 147C828 148.3 829.8 147.2 833 146C836.2 144.8 841.2 140 844 140C846.8 140 848.3 143.5 850 146C851.7 148.5 852.3 152.2 854 155C855.7 157.8 858 159.7 860 163C862 166.3 864 170.2 866 175C868 179.8 870 186.5 872 192C874 197.5 875.7 203.7 878 208C880.3 212.3 883.2 215.5 886 218C888.8 220.5 892 221.9 895 223C898 224.1 900.7 224.9 904 224.6C907.3 224.3 912 221.9 915 221C918 220.1 918.7 220 922 219.3C925.3 218.6 931.3 217.4 935 217C938.7 216.6 940.2 216.4 944 216.7C947.8 217 954.5 219.2 958 218.8C961.5 218.4 962.8 215.4 965 214C967.2 212.6 968.2 210.1 971 210.3C973.8 210.5 979.3 214.5 982 215C984.7 215.5 986.2 213.8 987 213.5" stroke="#CC9900"/>
<path d="M711 204C712.5 205.7 716.8 210.4 720 214C723.2 217.6 726.5 224.9 730 225.7C733.5 226.5 737.3 223.4 741 218.6C744.7 213.8 748.7 205.3 752 197C755.3 188.7 758.7 176.8 761 169C763.3 161.2 764.2 157.3 766 150C767.8 142.7 770 133.3 772 125C774 116.7 776.2 106.5 778 100C779.8 93.5 781.3 89 783 86C784.7 83 786.3 82 788 82C789.7 82 791.3 83.3 793 86C794.7 88.7 796.2 91.2 798 98C799.8 104.8 802 119.8 804 127C806 134.2 808 136.9 810 141C812 145.1 814 148.8 816 151.5C818 154.2 820.2 155.7 822 157C823.8 158.3 825 160 827 159.3C829 158.6 831.8 154.9 834 153C836.2 151.1 838 148 840 148C842 148 844.2 151.7 846 153C847.8 154.3 848.8 155.1 851 156C853.2 156.9 856.5 156.1 859 158.4C861.5 160.7 864 165.6 866 170C868 174.4 869.3 180 871 185C872.7 190 874.5 195.2 876 200C877.5 204.8 878 210.7 880 214C882 217.3 885.2 218.8 888 220C890.8 221.2 893.5 221 897 221C900.5 221 905.5 220.3 909 220C912.5 219.7 914.8 220.6 918 219.3C921.2 218 924.3 213.6 928 212.4C931.7 211.2 936.3 213.1 940 212C943.7 210.9 946.8 207.7 950 206C953.2 204.3 954.7 202.8 959 202C963.3 201.2 971.3 200.7 976 201C980.7 201.3 985.2 203.5 987 204" stroke="#7D4E4E"/>
</g>
<rect x="865.6" y="19.2" width="121.5" height="122.4" fill="#fff" stroke="none"/>
<path d="M865.6 19.2 V141.6 H987.1" fill="none" stroke="#999" stroke-width="0.9"/>
<path d="M710.7 19.2 H987.1 V242.0" fill="none" stroke="#404040" stroke-width="1.1"/>
<path d="M866.5 28.3 H898.5" stroke="#515151" stroke-width="2.8"/>
<text x="900.7" y="32.3" font-size="11" text-anchor="start" fill="#000" stroke="#000" stroke-width="0.45" textLength="83" lengthAdjust="spacingAndGlyphs" >54.5 mJ/cm<tspan dy="-4" font-size="7">2</tspan><tspan dy="4"> &amp; 30 ns</tspan></text>
<path d="M866.5 45.7 H898.5" stroke="#F14040" stroke-width="2.8"/>
<text x="900.7" y="49.7" font-size="11" text-anchor="start" fill="#000" stroke="#000" stroke-width="0.45" textLength="83" lengthAdjust="spacingAndGlyphs" >47.3 mJ/cm<tspan dy="-4" font-size="7">2</tspan><tspan dy="4"> &amp; 30 ns</tspan></text>
<path d="M866.5 63 H898.5" stroke="#1A6FDF" stroke-width="2.8"/>
<text x="900.7" y="67" font-size="11" text-anchor="start" fill="#000" stroke="#000" stroke-width="0.45" textLength="83" lengthAdjust="spacingAndGlyphs" >40.1 mJ/cm<tspan dy="-4" font-size="7">2</tspan><tspan dy="4"> &amp; 30 ns</tspan></text>
<path d="M866.5 80.4 H898.5" stroke="#37AD6B" stroke-width="2.8"/>
<text x="900.7" y="84.4" font-size="11" text-anchor="start" fill="#000" stroke="#000" stroke-width="0.45" textLength="83" lengthAdjust="spacingAndGlyphs" >35.8 mJ/cm<tspan dy="-4" font-size="7">2</tspan><tspan dy="4"> &amp; 30 ns</tspan></text>
<path d="M866.5 97.8 H898.5" stroke="#B177DE" stroke-width="2.8"/>
<text x="900.7" y="101.8" font-size="11" text-anchor="start" fill="#000" stroke="#000" stroke-width="0.45" textLength="83" lengthAdjust="spacingAndGlyphs" >31.2 mJ/cm<tspan dy="-4" font-size="7">2</tspan><tspan dy="4"> &amp; 30 ns</tspan></text>
<path d="M866.5 115.2 H898.5" stroke="#CC9900" stroke-width="2.8"/>
<text x="900.7" y="119.2" font-size="11" text-anchor="start" fill="#000" stroke="#000" stroke-width="0.45" textLength="83" lengthAdjust="spacingAndGlyphs" >27.6 mJ/cm<tspan dy="-4" font-size="7">2</tspan><tspan dy="4"> &amp; 30 ns</tspan></text>
<path d="M866.5 132.5 H898.5" stroke="#7D4E4E" stroke-width="2.8"/>
<text x="900.7" y="136.5" font-size="11" text-anchor="start" fill="#000" stroke="#000" stroke-width="0.45" textLength="83" lengthAdjust="spacingAndGlyphs" >22.9 mJ/cm<tspan dy="-4" font-size="7">2</tspan><tspan dy="4"> &amp; 30 ns</tspan></text>
<path d="M65.6 303.9 H341.5 V526.9 H65.6 Z" fill="none" stroke="#1a1a1a" stroke-width="1.35"/>
<g stroke="#000" stroke-width="1.2">
<path d="M61 518.9 H65.6"/>
<path d="M62.8 493.6 H65.6"/>
<path d="M61 468.3 H65.6"/>
<path d="M62.8 443 H65.6"/>
<path d="M61 417.6 H65.6"/>
<path d="M62.8 392.3 H65.6"/>
<path d="M61 367 H65.6"/>
<path d="M62.8 341.7 H65.6"/>
<path d="M61 316.4 H65.6"/>
<path d="M68.6 526.9 V531.5"/>
<path d="M100.8 526.9 V529.7"/>
<path d="M132.9 526.9 V531.5"/>
<path d="M165 526.9 V529.7"/>
<path d="M197.2 526.9 V531.5"/>
<path d="M229.3 526.9 V529.7"/>
<path d="M261.5 526.9 V531.5"/>
<path d="M293.6 526.9 V529.7"/>
<path d="M325.8 526.9 V531.5"/>
</g>
<text x="57.6" y="523.1" font-size="12.4" text-anchor="end" fill="#000" stroke="#000" stroke-width="0.35" textLength="17.1" lengthAdjust="spacingAndGlyphs" >300</text>
<text x="57.6" y="472.5" font-size="12.4" text-anchor="end" fill="#000" stroke="#000" stroke-width="0.35" textLength="17.1" lengthAdjust="spacingAndGlyphs" >400</text>
<text x="57.6" y="421.8" font-size="12.4" text-anchor="end" fill="#000" stroke="#000" stroke-width="0.35" textLength="17.1" lengthAdjust="spacingAndGlyphs" >500</text>
<text x="57.6" y="371.2" font-size="12.4" text-anchor="end" fill="#000" stroke="#000" stroke-width="0.35" textLength="17.1" lengthAdjust="spacingAndGlyphs" >600</text>
<text x="57.6" y="320.6" font-size="12.4" text-anchor="end" fill="#000" stroke="#000" stroke-width="0.35" textLength="17.1" lengthAdjust="spacingAndGlyphs" >700</text>
<text x="68.6" y="543.2" font-size="12.4" text-anchor="middle" fill="#000" stroke="#000" stroke-width="0.35" textLength="5.7" lengthAdjust="spacingAndGlyphs" >0</text>
<text x="132.9" y="543.2" font-size="12.4" text-anchor="middle" fill="#000" stroke="#000" stroke-width="0.35" textLength="11.4" lengthAdjust="spacingAndGlyphs" >20</text>
<text x="197.2" y="543.2" font-size="12.4" text-anchor="middle" fill="#000" stroke="#000" stroke-width="0.35" textLength="11.4" lengthAdjust="spacingAndGlyphs" >40</text>
<text x="261.5" y="543.2" font-size="12.4" text-anchor="middle" fill="#000" stroke="#000" stroke-width="0.35" textLength="11.4" lengthAdjust="spacingAndGlyphs" >60</text>
<text x="325.8" y="543.2" font-size="12.4" text-anchor="middle" fill="#000" stroke="#000" stroke-width="0.35" textLength="11.4" lengthAdjust="spacingAndGlyphs" >80</text>
<text x="174.6" y="566.2" font-size="14.5" text-anchor="start" fill="#000" stroke="#000" stroke-width="0.65" textLength="58" lengthAdjust="spacingAndGlyphs" >Time (ns)</text>
<text x="27.2" y="461.4" font-size="14.5" text-anchor="start" fill="#000" stroke="#000" stroke-width="0.65" textLength="103.2" lengthAdjust="spacingAndGlyphs" transform="rotate(-90 27.2 461.4)" >Temperature (K)</text>
<text x="12.9" y="298.6" font-size="15" font-weight="bold" text-anchor="start" fill="#000" textLength="20.4" lengthAdjust="spacingAndGlyphs" >(d)</text>
<g fill="none" stroke-width="2.6" stroke-linejoin="round" clip-path="url(#clipd)">
<path d="M68.6 522.1 L70.2 520.7 L71.8 519.4 L73.4 518.1 L75 516.8 L76.6 515.5 L78.2 514.3 L79.9 513.1 L81.5 511.9 L83.1 510.7 L84.7 509.5 L86.3 508.2 L87.9 506.8 L89.5 505.2 L91.1 503.4 L92.7 501.4 L94.3 499 L95.9 496.4 L97.5 493.3 L99.1 489.9 L100.8 486 L102.4 481.9 L104 477.6 L105.6 473.2 L107.2 468.7 L108.8 464.2 L110.4 459.8 L112 455.4 L113.6 451 L115.2 446.7 L116.8 442.3 L118.4 437.9 L120 433.4 L121.6 428.8 L123.3 424.2 L124.9 419.5 L126.5 414.8 L128.1 410.1 L129.7 405.3 L131.3 400.6 L132.9 395.9 L134.5 391.3 L136.1 386.7 L137.7 382.1 L139.3 377.7 L140.9 373.3 L142.5 369 L144.2 364.9 L145.8 360.8 L147.4 357 L149 353.3 L150.6 349.7 L152.2 346.4 L153.8 343.2 L155.4 340.3 L157 337.6 L158.6 335.2 L160.2 333 L161.8 331 L163.4 329.4 L165 328.1 L166.7 327 L168.3 326.3 L169.9 325.9 L171.5 325.9 L173.1 326.3 L174.7 327 L176.3 328.1 L177.9 329.7 L179.5 331.6 L181.1 334 L182.7 336.8 L184.3 340 L185.9 343.4 L187.6 347.1 L189.2 351.1 L190.8 355.2 L192.4 359.4 L194 363.7 L195.6 368.1 L197.2 372.4 L198.8 376.7 L200.4 380.9 L202 384.9 L203.6 388.9 L205.2 392.8 L206.8 396.6 L208.5 400.4 L210.1 404.1 L211.7 407.8 L213.3 411.4 L214.9 415 L216.5 418.6 L218.1 422.3 L219.7 425.9 L221.3 429.5 L222.9 433.2 L224.5 436.8 L226.1 440.4 L227.7 444 L229.3 447.6 L231 451.1 L232.6 454.5 L234.2 457.9 L235.8 461.2 L237.4 464.5 L239 467.6 L240.6 470.7 L242.2 473.6 L243.8 476.5 L245.4 479.2 L247 481.8 L248.6 484.2 L250.2 486.6 L251.9 488.7 L253.5 490.8 L255.1 492.7 L256.7 494.6 L258.3 496.3 L259.9 497.9 L261.5 499.4 L263.1 500.8 L264.7 502 L266.3 503.2 L267.9 504.4 L269.5 505.4 L271.1 506.3 L272.8 507.2 L274.4 508 L276 508.7 L277.6 509.4 L279.2 510 L280.8 510.5 L282.4 511 L284 511.5 L285.6 511.9 L287.2 512.2 L288.8 512.5 L290.4 512.8 L292 513.1 L293.6 513.3 L295.3 513.5 L296.9 513.7 L298.5 513.9 L300.1 514.1 L301.7 514.2 L303.3 514.4 L304.9 514.6 L306.5 514.7 L308.1 514.9 L309.7 515 L311.3 515.2 L312.9 515.3 L314.5 515.4 L316.2 515.6 L317.8 515.7 L319.4 515.8 L321 515.9 L322.6 516 L324.2 516.1 L325.8 516.2 L327.4 516.3 L329 516.4 L330.6 516.5 L332.2 516.5 L333.8 516.6 L335.4 516.7 L337.1 516.7 L338.7 516.8 L340.3 516.8 L341.9 516.9" stroke="#515151"/>
<path d="M68.6 522 L70.2 520.7 L71.8 519.6 L73.4 518.4 L75 517.3 L76.6 516.3 L78.2 515.2 L79.9 514.1 L81.5 512.9 L83.1 511.7 L84.7 510.4 L86.3 509 L87.9 507.6 L89.5 505.9 L91.1 504.2 L92.7 502.2 L94.3 500.1 L95.9 497.8 L97.5 495.3 L99.1 492.5 L100.8 489.5 L102.4 486.3 L104 482.9 L105.6 479.3 L107.2 475.6 L108.8 471.8 L110.4 468 L112 464.1 L113.6 460.2 L115.2 456.4 L116.8 452.5 L118.4 448.6 L120 444.7 L121.6 440.7 L123.3 436.8 L124.9 432.8 L126.5 428.7 L128.1 424.6 L129.7 420.5 L131.3 416.3 L132.9 412.2 L134.5 408 L136.1 403.9 L137.7 399.8 L139.3 395.7 L140.9 391.8 L142.5 387.9 L144.2 384.2 L145.8 380.5 L147.4 377 L149 373.6 L150.6 370.4 L152.2 367.4 L153.8 364.6 L155.4 362 L157 359.7 L158.6 357.5 L160.2 355.7 L161.8 354.1 L163.4 352.8 L165 351.8 L166.7 351.1 L168.3 350.7 L169.9 350.7 L171.5 351 L173.1 351.6 L174.7 352.6 L176.3 353.9 L177.9 355.6 L179.5 357.7 L181.1 360.2 L182.7 363 L184.3 366.1 L185.9 369.4 L187.6 372.9 L189.2 376.5 L190.8 380.1 L192.4 383.7 L194 387.4 L195.6 391 L197.2 394.6 L198.8 398.2 L200.4 401.7 L202 405.1 L203.6 408.4 L205.2 411.7 L206.8 414.8 L208.5 417.8 L210.1 420.7 L211.7 423.5 L213.3 426.1 L214.9 428.7 L216.5 431.3 L218.1 433.8 L219.7 436.4 L221.3 439 L222.9 441.7 L224.5 444.5 L226.1 447.5 L227.7 450.6 L229.3 453.9 L231 457.3 L232.6 460.7 L234.2 464.2 L235.8 467.6 L237.4 470.9 L239 474.1 L240.6 477.1 L242.2 479.8 L243.8 482.4 L245.4 484.7 L247 486.9 L248.6 489 L250.2 490.9 L251.9 492.6 L253.5 494.3 L255.1 495.8 L256.7 497.3 L258.3 498.7 L259.9 500 L261.5 501.2 L263.1 502.4 L264.7 503.5 L266.3 504.6 L267.9 505.5 L269.5 506.5 L271.1 507.3 L272.8 508.1 L274.4 508.9 L276 509.6 L277.6 510.2 L279.2 510.8 L280.8 511.4 L282.4 511.9 L284 512.4 L285.6 512.8 L287.2 513.2 L288.8 513.5 L290.4 513.8 L292 514.1 L293.6 514.4 L295.3 514.6 L296.9 514.8 L298.5 514.9 L300.1 515.1 L301.7 515.2 L303.3 515.3 L304.9 515.4 L306.5 515.5 L308.1 515.6 L309.7 515.6 L311.3 515.7 L312.9 515.7 L314.5 515.7 L316.2 515.8 L317.8 515.8 L319.4 515.8 L321 515.9 L322.6 515.9 L324.2 515.9 L325.8 516 L327.4 516.1 L329 516.1 L330.6 516.2 L332.2 516.4 L333.8 516.5 L335.4 516.6 L337.1 516.8 L338.7 517 L340.3 517.2 L341.9 517.5" stroke="#F14040"/>
<path d="M68.6 522.1 L70.2 521 L71.8 520 L73.4 519 L75 518.1 L76.6 517.1 L78.2 516 L79.9 515 L81.5 513.9 L83.1 512.7 L84.7 511.5 L86.3 510.2 L87.9 508.9 L89.5 507.4 L91.1 505.8 L92.7 504.1 L94.3 502.3 L95.9 500.3 L97.5 498.2 L99.1 495.9 L100.8 493.4 L102.4 490.7 L104 487.9 L105.6 484.9 L107.2 481.8 L108.8 478.5 L110.4 475.1 L112 471.7 L113.6 468.1 L115.2 464.5 L116.8 460.8 L118.4 457.1 L120 453.3 L121.6 449.6 L123.3 445.8 L124.9 442 L126.5 438.3 L128.1 434.6 L129.7 430.9 L131.3 427.2 L132.9 423.6 L134.5 420.1 L136.1 416.6 L137.7 413.2 L139.3 409.8 L140.9 406.6 L142.5 403.4 L144.2 400.3 L145.8 397.4 L147.4 394.5 L149 391.8 L150.6 389.2 L152.2 386.8 L153.8 384.5 L155.4 382.4 L157 380.4 L158.6 378.6 L160.2 377 L161.8 375.5 L163.4 374.3 L165 373.3 L166.7 372.5 L168.3 371.9 L169.9 371.7 L171.5 371.7 L173.1 371.9 L174.7 372.5 L176.3 373.4 L177.9 374.6 L179.5 376.2 L181.1 378.1 L182.7 380.4 L184.3 382.9 L185.9 385.6 L187.6 388.4 L189.2 391.3 L190.8 394.2 L192.4 397.2 L194 400.1 L195.6 403 L197.2 405.9 L198.8 408.7 L200.4 411.6 L202 414.4 L203.6 417.2 L205.2 420 L206.8 422.7 L208.5 425.4 L210.1 428.1 L211.7 430.7 L213.3 433.3 L214.9 435.9 L216.5 438.5 L218.1 441.1 L219.7 443.8 L221.3 446.6 L222.9 449.5 L224.5 452.4 L226.1 455.5 L227.7 458.6 L229.3 462 L231 465.4 L232.6 468.8 L234.2 472.2 L235.8 475.5 L237.4 478.6 L239 481.5 L240.6 484.1 L242.2 486.5 L243.8 488.7 L245.4 490.6 L247 492.4 L248.6 494 L250.2 495.5 L251.9 496.9 L253.5 498.2 L255.1 499.4 L256.7 500.6 L258.3 501.7 L259.9 502.8 L261.5 503.8 L263.1 504.8 L264.7 505.7 L266.3 506.5 L267.9 507.3 L269.5 508.1 L271.1 508.8 L272.8 509.4 L274.4 510.1 L276 510.6 L277.6 511.2 L279.2 511.7 L280.8 512.1 L282.4 512.5 L284 512.9 L285.6 513.3 L287.2 513.6 L288.8 513.9 L290.4 514.2 L292 514.4 L293.6 514.6 L295.3 514.8 L296.9 515 L298.5 515.2 L300.1 515.3 L301.7 515.4 L303.3 515.5 L304.9 515.6 L306.5 515.7 L308.1 515.8 L309.7 515.8 L311.3 515.9 L312.9 515.9 L314.5 516 L316.2 516 L317.8 516.1 L319.4 516.1 L321 516.1 L322.6 516.2 L324.2 516.3 L325.8 516.3 L327.4 516.4 L329 516.5 L330.6 516.6 L332.2 516.7 L333.8 516.8 L335.4 517 L337.1 517.1 L338.7 517.3 L340.3 517.5 L341.9 517.7" stroke="#1A6FDF"/>
<path d="M68.6 522.2 L70.2 521.2 L71.8 520.4 L73.4 519.5 L75 518.7 L76.6 517.8 L78.2 517 L79.9 516.1 L81.5 515.2 L83.1 514.2 L84.7 513.2 L86.3 512.1 L87.9 510.9 L89.5 509.6 L91.1 508.3 L92.7 506.8 L94.3 505.2 L95.9 503.5 L97.5 501.6 L99.1 499.5 L100.8 497.3 L102.4 494.9 L104 492.3 L105.6 489.5 L107.2 486.6 L108.8 483.5 L110.4 480.2 L112 476.9 L113.6 473.4 L115.2 469.9 L116.8 466.3 L118.4 462.7 L120 459 L121.6 455.3 L123.3 451.7 L124.9 448.1 L126.5 444.5 L128.1 441 L129.7 437.6 L131.3 434.2 L132.9 430.8 L134.5 427.6 L136.1 424.4 L137.7 421.3 L139.3 418.3 L140.9 415.4 L142.5 412.6 L144.2 409.9 L145.8 407.3 L147.4 404.9 L149 402.5 L150.6 400.3 L152.2 398.2 L153.8 396.2 L155.4 394.4 L157 392.8 L158.6 391.3 L160.2 389.9 L161.8 388.7 L163.4 387.7 L165 386.9 L166.7 386.2 L168.3 385.8 L169.9 385.5 L171.5 385.4 L173.1 385.5 L174.7 385.9 L176.3 386.4 L177.9 387.2 L179.5 388.2 L181.1 389.4 L182.7 390.8 L184.3 392.5 L185.9 394.5 L187.6 396.7 L189.2 399.1 L190.8 401.8 L192.4 404.8 L194 407.9 L195.6 411.1 L197.2 414.4 L198.8 417.8 L200.4 421.1 L202 424.4 L203.6 427.5 L205.2 430.5 L206.8 433.2 L208.5 435.7 L210.1 437.9 L211.7 439.9 L213.3 441.6 L214.9 443.3 L216.5 444.9 L218.1 446.6 L219.7 448.3 L221.3 450.3 L222.9 452.5 L224.5 455.1 L226.1 458.1 L227.7 461.4 L229.3 465 L231 468.7 L232.6 472.4 L234.2 476.1 L235.8 479.6 L237.4 482.8 L239 485.7 L240.6 488.3 L242.2 490.6 L243.8 492.7 L245.4 494.6 L247 496.3 L248.6 497.8 L250.2 499.3 L251.9 500.6 L253.5 501.9 L255.1 503.1 L256.7 504.2 L258.3 505.3 L259.9 506.2 L261.5 507.1 L263.1 507.9 L264.7 508.7 L266.3 509.4 L267.9 510.1 L269.5 510.6 L271.1 511.2 L272.8 511.7 L274.4 512.1 L276 512.5 L277.6 512.9 L279.2 513.2 L280.8 513.5 L282.4 513.7 L284 513.9 L285.6 514.1 L287.2 514.3 L288.8 514.4 L290.4 514.6 L292 514.7 L293.6 514.8 L295.3 514.8 L296.9 514.9 L298.5 515 L300.1 515.1 L301.7 515.1 L303.3 515.2 L304.9 515.3 L306.5 515.4 L308.1 515.5 L309.7 515.6 L311.3 515.7 L312.9 515.9 L314.5 516.1 L316.2 516.2 L317.8 516.4 L319.4 516.6 L321 516.8 L322.6 516.9 L324.2 517.1 L325.8 517.3 L327.4 517.4 L329 517.5 L330.6 517.6 L332.2 517.7 L333.8 517.8 L335.4 517.8 L337.1 517.8 L338.7 517.8 L340.3 517.7 L341.9 517.6" stroke="#37AD6B"/>
<path d="M68.6 521.7 L70.2 521.3 L71.8 520.8 L73.4 520.2 L75 519.7 L76.6 519 L78.2 518.4 L79.9 517.7 L81.5 516.9 L83.1 516 L84.7 515.1 L86.3 514.1 L87.9 513.1 L89.5 512 L91.1 510.7 L92.7 509.4 L94.3 508 L95.9 506.5 L97.5 504.9 L99.1 503.2 L100.8 501.4 L102.4 499.5 L104 497.4 L105.6 495.2 L107.2 492.9 L108.8 490.5 L110.4 487.9 L112 485.3 L113.6 482.5 L115.2 479.6 L116.8 476.7 L118.4 473.7 L120 470.6 L121.6 467.5 L123.3 464.3 L124.9 461.1 L126.5 457.8 L128.1 454.6 L129.7 451.3 L131.3 448.1 L132.9 444.9 L134.5 441.7 L136.1 438.5 L137.7 435.4 L139.3 432.3 L140.9 429.3 L142.5 426.4 L144.2 423.6 L145.8 420.9 L147.4 418.3 L149 415.9 L150.6 413.6 L152.2 411.4 L153.8 409.4 L155.4 407.6 L157 405.9 L158.6 404.4 L160.2 403.2 L161.8 402.1 L163.4 401.3 L165 400.7 L166.7 400.2 L168.3 400 L169.9 400 L171.5 400.1 L173.1 400.4 L174.7 400.9 L176.3 401.5 L177.9 402.4 L179.5 403.3 L181.1 404.4 L182.7 405.7 L184.3 407.1 L185.9 408.6 L187.6 410.3 L189.2 412 L190.8 413.9 L192.4 415.9 L194 418 L195.6 420.2 L197.2 422.5 L198.8 424.9 L200.4 427.3 L202 429.8 L203.6 432.3 L205.2 434.9 L206.8 437.6 L208.5 440.2 L210.1 442.9 L211.7 445.7 L213.3 448.4 L214.9 451.1 L216.5 453.8 L218.1 456.6 L219.7 459.3 L221.3 461.9 L222.9 464.6 L224.5 467.1 L226.1 469.7 L227.7 472.2 L229.3 474.6 L231 476.9 L232.6 479.2 L234.2 481.4 L235.8 483.5 L237.4 485.6 L239 487.5 L240.6 489.4 L242.2 491.2 L243.8 493 L245.4 494.6 L247 496.2 L248.6 497.8 L250.2 499.2 L251.9 500.6 L253.5 501.9 L255.1 503.1 L256.7 504.3 L258.3 505.3 L259.9 506.4 L261.5 507.3 L263.1 508.2 L264.7 509 L266.3 509.7 L267.9 510.4 L269.5 511 L271.1 511.6 L272.8 512.1 L274.4 512.6 L276 513 L277.6 513.4 L279.2 513.7 L280.8 514 L282.4 514.2 L284 514.4 L285.6 514.6 L287.2 514.8 L288.8 514.9 L290.4 515 L292 515.1 L293.6 515.2 L295.3 515.3 L296.9 515.3 L298.5 515.4 L300.1 515.4 L301.7 515.5 L303.3 515.5 L304.9 515.6 L306.5 515.7 L308.1 515.8 L309.7 515.9 L311.3 516 L312.9 516.1 L314.5 516.2 L316.2 516.4 L317.8 516.5 L319.4 516.7 L321 516.9 L322.6 517 L324.2 517.2 L325.8 517.3 L327.4 517.5 L329 517.6 L330.6 517.7 L332.2 517.8 L333.8 517.9 L335.4 518 L337.1 518 L338.7 518 L340.3 518 L341.9 517.9" stroke="#B177DE"/>
<path d="M68.6 522 L70.2 521.5 L71.8 520.9 L73.4 520.4 L75 519.8 L76.6 519.2 L78.2 518.7 L79.9 518.1 L81.5 517.4 L83.1 516.7 L84.7 516 L86.3 515.3 L87.9 514.5 L89.5 513.6 L91.1 512.6 L92.7 511.6 L94.3 510.5 L95.9 509.4 L97.5 508.1 L99.1 506.8 L100.8 505.3 L102.4 503.8 L104 502.1 L105.6 500.3 L107.2 498.4 L108.8 496.3 L110.4 494.1 L112 491.8 L113.6 489.3 L115.2 486.7 L116.8 484 L118.4 481.2 L120 478.2 L121.6 475.2 L123.3 472.1 L124.9 468.9 L126.5 465.7 L128.1 462.3 L129.7 459 L131.3 455.6 L132.9 452.2 L134.5 448.9 L136.1 445.7 L137.7 442.6 L139.3 439.7 L140.9 436.8 L142.5 434.1 L144.2 431.5 L145.8 429 L147.4 426.7 L149 424.5 L150.6 422.4 L152.2 420.4 L153.8 418.6 L155.4 417 L157 415.5 L158.6 414.1 L160.2 412.9 L161.8 411.8 L163.4 410.9 L165 410.2 L166.7 409.6 L168.3 409.2 L169.9 408.9 L171.5 408.8 L173.1 408.9 L174.7 409.1 L176.3 409.6 L177.9 410.2 L179.5 411 L181.1 412 L182.7 413.1 L184.3 414.5 L185.9 416 L187.6 417.8 L189.2 419.7 L190.8 421.9 L192.4 424.2 L194 426.7 L195.6 429.3 L197.2 432 L198.8 434.8 L200.4 437.6 L202 440.4 L203.6 443.2 L205.2 446 L206.8 448.7 L208.5 451.4 L210.1 453.9 L211.7 456.2 L213.3 458.5 L214.9 460.7 L216.5 462.9 L218.1 465 L219.7 467 L221.3 469 L222.9 471 L224.5 473 L226.1 475 L227.7 477 L229.3 479.1 L231 481.2 L232.6 483.3 L234.2 485.5 L235.8 487.7 L237.4 489.8 L239 491.9 L240.6 493.9 L242.2 495.8 L243.8 497.6 L245.4 499.3 L247 500.7 L248.6 502 L250.2 503.2 L251.9 504.2 L253.5 505.2 L255.1 506 L256.7 506.7 L258.3 507.4 L259.9 508 L261.5 508.5 L263.1 509.1 L264.7 509.6 L266.3 510.1 L267.9 510.6 L269.5 511 L271.1 511.4 L272.8 511.8 L274.4 512.2 L276 512.6 L277.6 512.9 L279.2 513.3 L280.8 513.6 L282.4 513.9 L284 514.1 L285.6 514.4 L287.2 514.6 L288.8 514.9 L290.4 515.1 L292 515.3 L293.6 515.5 L295.3 515.7 L296.9 515.8 L298.5 516 L300.1 516.2 L301.7 516.3 L303.3 516.4 L304.9 516.5 L306.5 516.7 L308.1 516.8 L309.7 516.9 L311.3 517 L312.9 517.1 L314.5 517.1 L316.2 517.2 L317.8 517.3 L319.4 517.4 L321 517.5 L322.6 517.5 L324.2 517.6 L325.8 517.7 L327.4 517.7 L329 517.8 L330.6 517.9 L332.2 518 L333.8 518.1 L335.4 518.1 L337.1 518.2 L338.7 518.3 L340.3 518.4 L341.9 518.5" stroke="#CC9900"/>
<path d="M68.6 522.2 L70.2 522 L71.8 521.8 L73.4 521.5 L75 521.2 L76.6 520.9 L78.2 520.6 L79.9 520.2 L81.5 519.8 L83.1 519.4 L84.7 518.9 L86.3 518.3 L87.9 517.7 L89.5 517 L91.1 516.3 L92.7 515.5 L94.3 514.6 L95.9 513.7 L97.5 512.7 L99.1 511.6 L100.8 510.5 L102.4 509.2 L104 507.9 L105.6 506.4 L107.2 504.9 L108.8 503.3 L110.4 501.5 L112 499.7 L113.6 497.8 L115.2 495.7 L116.8 493.5 L118.4 491.2 L120 488.8 L121.6 486.3 L123.3 483.7 L124.9 481 L126.5 478.3 L128.1 475.5 L129.7 472.7 L131.3 469.8 L132.9 466.9 L134.5 464 L136.1 461.1 L137.7 458.2 L139.3 455.4 L140.9 452.6 L142.5 449.9 L144.2 447.4 L145.8 445 L147.4 442.8 L149 440.7 L150.6 438.9 L152.2 437.1 L153.8 435.5 L155.4 434.1 L157 432.8 L158.6 431.6 L160.2 430.6 L161.8 429.8 L163.4 429 L165 428.5 L166.7 428 L168.3 427.7 L169.9 427.5 L171.5 427.5 L173.1 427.6 L174.7 427.8 L176.3 428.1 L177.9 428.6 L179.5 429.2 L181.1 429.9 L182.7 430.7 L184.3 431.7 L185.9 432.7 L187.6 433.9 L189.2 435.2 L190.8 436.6 L192.4 438.1 L194 439.7 L195.6 441.5 L197.2 443.3 L198.8 445.2 L200.4 447.3 L202 449.4 L203.6 451.6 L205.2 453.8 L206.8 456.2 L208.5 458.5 L210.1 461 L211.7 463.4 L213.3 465.9 L214.9 468.3 L216.5 470.8 L218.1 473.2 L219.7 475.7 L221.3 478.1 L222.9 480.4 L224.5 482.7 L226.1 484.9 L227.7 487 L229.3 489.1 L231 491 L232.6 492.9 L234.2 494.6 L235.8 496.3 L237.4 497.8 L239 499.3 L240.6 500.7 L242.2 502 L243.8 503.2 L245.4 504.4 L247 505.4 L248.6 506.4 L250.2 507.4 L251.9 508.3 L253.5 509.1 L255.1 509.8 L256.7 510.5 L258.3 511.2 L259.9 511.8 L261.5 512.4 L263.1 512.9 L264.7 513.4 L266.3 513.8 L267.9 514.3 L269.5 514.7 L271.1 515 L272.8 515.4 L274.4 515.7 L276 516 L277.6 516.3 L279.2 516.6 L280.8 516.9 L282.4 517.1 L284 517.3 L285.6 517.5 L287.2 517.7 L288.8 517.9 L290.4 518.1 L292 518.2 L293.6 518.4 L295.3 518.5 L296.9 518.6 L298.5 518.7 L300.1 518.8 L301.7 518.9 L303.3 519 L304.9 519 L306.5 519.1 L308.1 519.2 L309.7 519.2 L311.3 519.3 L312.9 519.3 L314.5 519.3 L316.2 519.4 L317.8 519.4 L319.4 519.4 L321 519.5 L322.6 519.5 L324.2 519.5 L325.8 519.5 L327.4 519.6 L329 519.6 L330.6 519.6 L332.2 519.7 L333.8 519.7 L335.4 519.7 L337.1 519.8 L338.7 519.8 L340.3 519.9 L341.9 520" stroke="#00CBCC"/>
</g>
<path d="M170.6 304.5 V526" stroke="#ff2020" stroke-width="0.9" stroke-dasharray="1.5 1"/>
<path d="M64 453.4 H341" stroke="#2050a8" stroke-width="1" stroke-dasharray="2 1.5"/>
<text x="45.8" y="456.5" font-size="15" text-anchor="start" fill="#2b4c9c" stroke="#2b4c9c" stroke-width="0.45" >T<tspan dx="0.6" dy="1.6" font-size="8.5" fill="#5a7cc0" stroke="#5a7cc0" stroke-width="0.2">c</tspan></text>
<rect x="219.5" y="304" width="122" height="121.5" fill="#fff"/>
<path d="M219.5 304 V425.5 H341.5" fill="none" stroke="#555" stroke-width="0.9"/>
<path d="M219.9 313.3 H253" stroke="#515151" stroke-width="2.8"/>
<text x="254.7" y="317.3" font-size="11" text-anchor="start" fill="#000" stroke="#000" stroke-width="0.45" textLength="85" lengthAdjust="spacingAndGlyphs" >54.5 mJ/cm<tspan dy="-4" font-size="7">2</tspan><tspan dy="4"> &amp; 30 ns</tspan></text>
<path d="M219.9 330.6 H253" stroke="#F14040" stroke-width="2.8"/>
<text x="254.7" y="334.6" font-size="11" text-anchor="start" fill="#000" stroke="#000" stroke-width="0.45" textLength="85" lengthAdjust="spacingAndGlyphs" >47.3 mJ/cm<tspan dy="-4" font-size="7">2</tspan><tspan dy="4"> &amp; 30 ns</tspan></text>
<path d="M219.9 347.9 H253" stroke="#1A6FDF" stroke-width="2.8"/>
<text x="254.7" y="351.9" font-size="11" text-anchor="start" fill="#000" stroke="#000" stroke-width="0.45" textLength="85" lengthAdjust="spacingAndGlyphs" >40.1 mJ/cm<tspan dy="-4" font-size="7">2</tspan><tspan dy="4"> &amp; 30 ns</tspan></text>
<path d="M219.9 365.2 H253" stroke="#37AD6B" stroke-width="2.8"/>
<text x="254.7" y="369.2" font-size="11" text-anchor="start" fill="#000" stroke="#000" stroke-width="0.45" textLength="85" lengthAdjust="spacingAndGlyphs" >35.8 mJ/cm<tspan dy="-4" font-size="7">2</tspan><tspan dy="4"> &amp; 30 ns</tspan></text>
<path d="M219.9 382.5 H253" stroke="#B177DE" stroke-width="2.8"/>
<text x="254.7" y="386.5" font-size="11" text-anchor="start" fill="#000" stroke="#000" stroke-width="0.45" textLength="85" lengthAdjust="spacingAndGlyphs" >31.2 mJ/cm<tspan dy="-4" font-size="7">2</tspan><tspan dy="4"> &amp; 30 ns</tspan></text>
<path d="M219.9 399.8 H253" stroke="#CC9900" stroke-width="2.8"/>
<text x="254.7" y="403.8" font-size="11" text-anchor="start" fill="#000" stroke="#000" stroke-width="0.45" textLength="85" lengthAdjust="spacingAndGlyphs" >27.6 mJ/cm<tspan dy="-4" font-size="7">2</tspan><tspan dy="4"> &amp; 30 ns</tspan></text>
<path d="M219.9 417.1 H253" stroke="#00CBCC" stroke-width="2.8"/>
<text x="254.7" y="421.1" font-size="11" text-anchor="start" fill="#000" stroke="#000" stroke-width="0.45" textLength="85" lengthAdjust="spacingAndGlyphs" >22.9 mJ/cm<tspan dy="-4" font-size="7">2</tspan><tspan dy="4"> &amp; 30 ns</tspan></text>
<path d="M65.6 303.9 H341.5 V526.9" fill="none" stroke="#1a1a1a" stroke-width="1.35"/>
<path d="M398.4 301.4 H675.2 V524.3 H398.4 Z" fill="none" stroke="#1a1a1a" stroke-width="1.35"/>
<g stroke="#000" stroke-width="1.2">
<path d="M393.8 519.1 H398.4"/>
<path d="M395.6 500.4 H398.4"/>
<path d="M393.8 481.6 H398.4"/>
<path d="M395.6 462.9 H398.4"/>
<path d="M393.8 444.1 H398.4"/>
<path d="M395.6 425.4 H398.4"/>
<path d="M393.8 406.6 H398.4"/>
<path d="M395.6 387.9 H398.4"/>
<path d="M393.8 369.1 H398.4"/>
<path d="M395.6 350.4 H398.4"/>
<path d="M393.8 331.6 H398.4"/>
<path d="M395.6 312.9 H398.4"/>
<path d="M400.8 524.3 V528.9"/>
<path d="M425.3 524.3 V527.1"/>
<path d="M449.7 524.3 V528.9"/>
<path d="M474.2 524.3 V527.1"/>
<path d="M498.7 524.3 V528.9"/>
<path d="M523.1 524.3 V527.1"/>
<path d="M547.6 524.3 V528.9"/>
<path d="M572.1 524.3 V527.1"/>
<path d="M596.6 524.3 V528.9"/>
<path d="M621 524.3 V527.1"/>
<path d="M645.5 524.3 V528.9"/>
<path d="M670 524.3 V527.1"/>
</g>
<text x="391.3" y="523.3" font-size="12.4" text-anchor="end" fill="#000" stroke="#000" stroke-width="0.35" textLength="17.3" lengthAdjust="spacingAndGlyphs" >300</text>
<text x="391.3" y="485.8" font-size="12.4" text-anchor="end" fill="#000" stroke="#000" stroke-width="0.35" textLength="17.3" lengthAdjust="spacingAndGlyphs" >400</text>
<text x="391.3" y="448.3" font-size="12.4" text-anchor="end" fill="#000" stroke="#000" stroke-width="0.35" textLength="17.3" lengthAdjust="spacingAndGlyphs" >500</text>
<text x="391.3" y="410.8" font-size="12.4" text-anchor="end" fill="#000" stroke="#000" stroke-width="0.35" textLength="17.3" lengthAdjust="spacingAndGlyphs" >600</text>
<text x="391.3" y="373.3" font-size="12.4" text-anchor="end" fill="#000" stroke="#000" stroke-width="0.35" textLength="17.3" lengthAdjust="spacingAndGlyphs" >700</text>
<text x="391.3" y="335.8" font-size="12.4" text-anchor="end" fill="#000" stroke="#000" stroke-width="0.35" textLength="17.3" lengthAdjust="spacingAndGlyphs" >800</text>
<text x="400.8" y="540.4" font-size="12.4" text-anchor="middle" fill="#000" stroke="#000" stroke-width="0.35" textLength="5.7" lengthAdjust="spacingAndGlyphs" >0</text>
<text x="449.7" y="540.4" font-size="12.4" text-anchor="middle" fill="#000" stroke="#000" stroke-width="0.35" textLength="11.4" lengthAdjust="spacingAndGlyphs" >20</text>
<text x="498.7" y="540.4" font-size="12.4" text-anchor="middle" fill="#000" stroke="#000" stroke-width="0.35" textLength="11.4" lengthAdjust="spacingAndGlyphs" >40</text>
<text x="547.6" y="540.4" font-size="12.4" text-anchor="middle" fill="#000" stroke="#000" stroke-width="0.35" textLength="11.4" lengthAdjust="spacingAndGlyphs" >60</text>
<text x="596.6" y="540.4" font-size="12.4" text-anchor="middle" fill="#000" stroke="#000" stroke-width="0.35" textLength="11.4" lengthAdjust="spacingAndGlyphs" >80</text>
<text x="645.5" y="540.4" font-size="12.4" text-anchor="middle" fill="#000" stroke="#000" stroke-width="0.35" textLength="17.1" lengthAdjust="spacingAndGlyphs" >100</text>
<text x="508" y="563.7" font-size="14.5" text-anchor="start" fill="#000" stroke="#000" stroke-width="0.65" textLength="58" lengthAdjust="spacingAndGlyphs" >Time (ns)</text>
<text x="360" y="458.6" font-size="14.5" text-anchor="start" fill="#000" stroke="#000" stroke-width="0.65" textLength="103" lengthAdjust="spacingAndGlyphs" transform="rotate(-90 360 458.6)" >Temperature (K)</text>
<text x="348.3" y="300.2" font-size="16" font-weight="bold" text-anchor="start" fill="#000" textLength="19" lengthAdjust="spacingAndGlyphs" >(e)</text>
<g fill="none" stroke-width="2.6" stroke-linejoin="round" clip-path="url(#clipe)">
<path d="M400.8 520.9 L402 519.6 L403.2 518.1 L404.5 516.4 L405.7 514.4 L406.9 512.2 L408.1 509.8 L409.4 507.1 L410.6 504.1 L411.8 500.8 L413 497.1 L414.3 493.2 L415.5 488.9 L416.7 484.2 L417.9 479.2 L419.2 473.9 L420.4 468.2 L421.6 462.2 L422.8 455.9 L424 449.3 L425.3 442.5 L426.5 435.4 L427.7 428.1 L428.9 420.7 L430.2 413.1 L431.4 405.5 L432.6 397.9 L433.8 390.4 L435.1 382.9 L436.3 375.7 L437.5 368.6 L438.7 361.8 L440 355.4 L441.2 349.4 L442.4 343.8 L443.6 338.7 L444.8 334.1 L446.1 330.1 L447.3 326.8 L448.5 324 L449.7 321.9 L451 320.4 L452.2 319.5 L453.4 319.2 L454.6 319.5 L455.9 320.5 L457.1 322.1 L458.3 324.4 L459.5 327.2 L460.8 330.6 L462 334.6 L463.2 339 L464.4 343.9 L465.6 349.2 L466.9 354.9 L468.1 360.9 L469.3 367.1 L470.5 373.6 L471.8 380.2 L473 387 L474.2 393.8 L475.4 400.7 L476.7 407.5 L477.9 414.2 L479.1 420.9 L480.3 427.4 L481.6 433.8 L482.8 440 L484 445.9 L485.2 451.6 L486.4 457.1 L487.7 462.3 L488.9 467.3 L490.1 471.9 L491.3 476.3 L492.6 480.4 L493.8 484.2 L495 487.8 L496.2 491 L497.5 494 L498.7 496.8 L499.9 499.3 L501.1 501.6 L502.4 503.7 L503.6 505.6 L504.8 507.3 L506 508.8 L507.2 510.2 L508.5 511.4 L509.7 512.5 L510.9 513.4 L512.1 514.3 L513.4 515 L514.6 515.6 L515.8 516.2 L517 516.7 L518.3 517.1 L519.5 517.5 L520.7 517.8 L521.9 518.1 L523.1 518.3 L524.4 518.5 L525.6 518.7 L526.8 518.8 L528 518.9 L529.3 519 L530.5 519.1 L531.7 519.2 L532.9 519.2 L534.2 519.3 L535.4 519.3 L536.6 519.3 L537.8 519.4 L539.1 519.4 L540.3 519.4 L541.5 519.4 L542.7 519.4 L543.9 519.4 L545.2 519.4 L546.4 519.5 L547.6 519.5 L548.8 519.5 L550.1 519.5 L551.3 519.5 L552.5 519.5 L553.7 519.5 L555 519.5 L556.2 519.5 L557.4 519.5 L558.6 519.5 L559.9 519.5 L561.1 519.5 L562.3 519.5 L563.5 519.5 L564.7 519.5 L566 519.5 L567.2 519.5 L568.4 519.5 L569.6 519.5 L570.9 519.5 L572.1 519.5 L573.3 519.5 L574.5 519.5 L575.8 519.5 L577 519.5 L578.2 519.5 L579.4 519.5 L580.7 519.5 L581.9 519.5 L583.1 519.5 L584.3 519.5 L585.5 519.5 L586.8 519.5 L588 519.5 L589.2 519.5 L590.4 519.5 L591.7 519.5 L592.9 519.5 L594.1 519.5 L595.3 519.5 L596.6 519.5 L597.8 519.5 L599 519.5 L600.2 519.5 L601.5 519.5 L602.7 519.5 L603.9 519.5 L605.1 519.5 L606.3 519.5 L607.6 519.5 L608.8 519.5 L610 519.5 L611.2 519.5 L612.5 519.5 L613.7 519.5 L614.9 519.5 L616.1 519.5 L617.4 519.5 L618.6 519.5 L619.8 519.5 L621 519.5 L622.3 519.5 L623.5 519.5 L624.7 519.5 L625.9 519.5 L627.1 519.5 L628.4 519.5 L629.6 519.5 L630.8 519.5 L632 519.5 L633.3 519.5 L634.5 519.5 L635.7 519.5 L636.9 519.5 L638.2 519.5 L639.4 519.5 L640.6 519.5 L641.8 519.5 L643.1 519.5 L644.3 519.5 L645.5 519.5 L646.7 519.5 L647.9 519.5 L649.2 519.5 L650.4 519.5 L651.6 519.5 L652.8 519.5 L654.1 519.5 L655.3 519.5 L656.5 519.5 L657.7 519.5 L659 519.5 L660.2 519.5 L661.4 519.5 L662.6 519.5 L663.9 519.5 L665.1 519.5 L666.3 519.5 L667.5 519.5 L668.7 519.5 L670 519.5 L671.2 519.5 L672.4 519.5 L673.6 519.5 L674.9 519.5 L676.1 519.5 L677.3 519.5" stroke="#515151"/>
<path d="M400.8 520.9 L402 520.2 L403.2 519.4 L404.5 518.5 L405.7 517.4 L406.9 516.3 L408.1 515 L409.4 513.6 L410.6 512.1 L411.8 510.4 L413 508.5 L414.3 506.5 L415.5 504.3 L416.7 502 L417.9 499.4 L419.2 496.7 L420.4 493.7 L421.6 490.6 L422.8 487.3 L424 483.7 L425.3 480 L426.5 476.1 L427.7 472 L428.9 467.7 L430.2 463.2 L431.4 458.6 L432.6 453.8 L433.8 448.9 L435.1 443.9 L436.3 438.8 L437.5 433.7 L438.7 428.4 L440 423.2 L441.2 418 L442.4 412.8 L443.6 407.6 L444.8 402.6 L446.1 397.7 L447.3 392.9 L448.5 388.2 L449.7 383.8 L451 379.6 L452.2 375.7 L453.4 372 L454.6 368.6 L455.9 365.6 L457.1 362.9 L458.3 360.5 L459.5 358.5 L460.8 356.8 L462 355.5 L463.2 354.6 L464.4 354 L465.6 353.7 L466.9 354 L468.1 354.8 L469.3 356 L470.5 357.6 L471.8 359.6 L473 361.9 L474.2 364.5 L475.4 367.3 L476.7 370.4 L477.9 373.6 L479.1 377 L480.3 380.6 L481.6 384.4 L482.8 388.2 L484 392.2 L485.2 396.2 L486.4 400.3 L487.7 404.4 L488.9 408.6 L490.1 412.7 L491.3 416.9 L492.6 421 L493.8 425.2 L495 429.2 L496.2 433.2 L497.5 437.2 L498.7 441.1 L499.9 444.9 L501.1 448.6 L502.4 452.2 L503.6 455.7 L504.8 459.1 L506 462.4 L507.2 465.6 L508.5 468.7 L509.7 471.6 L510.9 474.5 L512.1 477.2 L513.4 479.8 L514.6 482.3 L515.8 484.7 L517 487 L518.3 489.1 L519.5 491.2 L520.7 493.1 L521.9 494.9 L523.1 496.6 L524.4 498.3 L525.6 499.8 L526.8 501.3 L528 502.6 L529.3 503.9 L530.5 505.1 L531.7 506.2 L532.9 507.2 L534.2 508.2 L535.4 509.1 L536.6 509.9 L537.8 510.7 L539.1 511.4 L540.3 512.1 L541.5 512.7 L542.7 513.3 L543.9 513.8 L545.2 514.3 L546.4 514.7 L547.6 515.1 L548.8 515.5 L550.1 515.8 L551.3 516.1 L552.5 516.4 L553.7 516.7 L555 516.9 L556.2 517.1 L557.4 517.3 L558.6 517.5 L559.9 517.7 L561.1 517.8 L562.3 518 L563.5 518.1 L564.7 518.2 L566 518.3 L567.2 518.4 L568.4 518.5 L569.6 518.5 L570.9 518.6 L572.1 518.6 L573.3 518.7 L574.5 518.7 L575.8 518.8 L577 518.8 L578.2 518.9 L579.4 518.9 L580.7 518.9 L581.9 518.9 L583.1 519 L584.3 519 L585.5 519 L586.8 519 L588 519 L589.2 519 L590.4 519 L591.7 519 L592.9 519 L594.1 519.1 L595.3 519.1 L596.6 519.1 L597.8 519.1 L599 519.1 L600.2 519.1 L601.5 519.1 L602.7 519.1 L603.9 519.1 L605.1 519.1 L606.3 519.1 L607.6 519.1 L608.8 519.1 L610 519.1 L611.2 519.1 L612.5 519.1 L613.7 519.1 L614.9 519.1 L616.1 519.1 L617.4 519.1 L618.6 519.1 L619.8 519.1 L621 519.1 L622.3 519.1 L623.5 519.1 L624.7 519.1 L625.9 519.1 L627.1 519.1 L628.4 519.1 L629.6 519.1 L630.8 519.1 L632 519.1 L633.3 519.1 L634.5 519.1 L635.7 519.1 L636.9 519.1 L638.2 519.1 L639.4 519.1 L640.6 519.1 L641.8 519.1 L643.1 519.1 L644.3 519.1 L645.5 519.1 L646.7 519.1 L647.9 519.1 L649.2 519.1 L650.4 519.1 L651.6 519.1 L652.8 519.1 L654.1 519.1 L655.3 519.1 L656.5 519.1 L657.7 519.1 L659 519.1 L660.2 519.1 L661.4 519.1 L662.6 519.1 L663.9 519.1 L665.1 519.1 L666.3 519.1 L667.5 519.1 L668.7 519.1 L670 519.1 L671.2 519.1 L672.4 519.1 L673.6 519.1 L674.9 519.1 L676.1 519.1 L677.3 519.1" stroke="#F14040"/>
<path d="M400.8 520.9 L402 520.3 L403.2 519.6 L404.5 518.8 L405.7 517.9 L406.9 517 L408.1 516 L409.4 514.9 L410.6 513.8 L411.8 512.5 L413 511.2 L414.3 509.7 L415.5 508.2 L416.7 506.6 L417.9 504.8 L419.2 503 L420.4 501 L421.6 498.9 L422.8 496.7 L424 494.4 L425.3 492 L426.5 489.5 L427.7 486.9 L428.9 484.1 L430.2 481.3 L431.4 478.3 L432.6 475.3 L433.8 472.2 L435.1 468.9 L436.3 465.6 L437.5 462.2 L438.7 458.7 L440 455.2 L441.2 451.6 L442.4 448 L443.6 444.4 L444.8 440.7 L446.1 437 L447.3 433.3 L448.5 429.7 L449.7 426 L451 422.4 L452.2 418.9 L453.4 415.4 L454.6 412 L455.9 408.7 L457.1 405.5 L458.3 402.5 L459.5 399.5 L460.8 396.7 L462 394.1 L463.2 391.6 L464.4 389.2 L465.6 387.1 L466.9 385.1 L468.1 383.4 L469.3 381.8 L470.5 380.5 L471.8 379.3 L473 378.4 L474.2 377.6 L475.4 377.1 L476.7 376.8 L477.9 376.6 L479.1 376.8 L480.3 377.3 L481.6 378.1 L482.8 379.1 L484 380.3 L485.2 381.8 L486.4 383.4 L487.7 385.2 L488.9 387.1 L490.1 389.2 L491.3 391.4 L492.6 393.8 L493.8 396.2 L495 398.7 L496.2 401.3 L497.5 404 L498.7 406.7 L499.9 409.5 L501.1 412.3 L502.4 415.2 L503.6 418.1 L504.8 421 L506 423.9 L507.2 426.8 L508.5 429.7 L509.7 432.7 L510.9 435.5 L512.1 438.4 L513.4 441.3 L514.6 444.1 L515.8 446.9 L517 449.6 L518.3 452.3 L519.5 454.9 L520.7 457.5 L521.9 460.1 L523.1 462.6 L524.4 465 L525.6 467.4 L526.8 469.7 L528 471.9 L529.3 474.1 L530.5 476.2 L531.7 478.2 L532.9 480.2 L534.2 482.1 L535.4 484 L536.6 485.8 L537.8 487.5 L539.1 489.1 L540.3 490.7 L541.5 492.2 L542.7 493.7 L543.9 495.1 L545.2 496.4 L546.4 497.7 L547.6 498.9 L548.8 500.1 L550.1 501.2 L551.3 502.2 L552.5 503.2 L553.7 504.2 L555 505.1 L556.2 505.9 L557.4 506.8 L558.6 507.5 L559.9 508.3 L561.1 508.9 L562.3 509.6 L563.5 510.2 L564.7 510.8 L566 511.3 L567.2 511.8 L568.4 512.3 L569.6 512.8 L570.9 513.2 L572.1 513.6 L573.3 514 L574.5 514.3 L575.8 514.6 L577 514.9 L578.2 515.2 L579.4 515.5 L580.7 515.7 L581.9 516 L583.1 516.2 L584.3 516.4 L585.5 516.6 L586.8 516.7 L588 516.9 L589.2 517 L590.4 517.2 L591.7 517.3 L592.9 517.4 L594.1 517.5 L595.3 517.6 L596.6 517.7 L597.8 517.8 L599 517.9 L600.2 518 L601.5 518 L602.7 518.1 L603.9 518.1 L605.1 518.2 L606.3 518.2 L607.6 518.3 L608.8 518.3 L610 518.4 L611.2 518.4 L612.5 518.4 L613.7 518.5 L614.9 518.5 L616.1 518.5 L617.4 518.5 L618.6 518.5 L619.8 518.6 L621 518.6 L622.3 518.6 L623.5 518.6 L624.7 518.6 L625.9 518.6 L627.1 518.6 L628.4 518.6 L629.6 518.7 L630.8 518.7 L632 518.7 L633.3 518.7 L634.5 518.7 L635.7 518.7 L636.9 518.7 L638.2 518.7 L639.4 518.7 L640.6 518.7 L641.8 518.7 L643.1 518.7 L644.3 518.7 L645.5 518.7 L646.7 518.7 L647.9 518.7 L649.2 518.7 L650.4 518.7 L651.6 518.7 L652.8 518.7 L654.1 518.7 L655.3 518.7 L656.5 518.7 L657.7 518.7 L659 518.7 L660.2 518.7 L661.4 518.7 L662.6 518.7 L663.9 518.7 L665.1 518.7 L666.3 518.7 L667.5 518.7 L668.7 518.7 L670 518.7 L671.2 518.7 L672.4 518.7 L673.6 518.7 L674.9 518.7 L676.1 518.7 L677.3 518.7" stroke="#1A6FDF"/>
<path d="M400.8 520.9 L402 520.4 L403.2 519.7 L404.5 519.1 L405.7 518.4 L406.9 517.6 L408.1 516.8 L409.4 516 L410.6 515.1 L411.8 514.1 L413 513.1 L414.3 512 L415.5 510.9 L416.7 509.7 L417.9 508.4 L419.2 507.1 L420.4 505.7 L421.6 504.2 L422.8 502.7 L424 501.1 L425.3 499.5 L426.5 497.7 L427.7 495.9 L428.9 494 L430.2 492.1 L431.4 490.1 L432.6 488 L433.8 485.9 L435.1 483.7 L436.3 481.4 L437.5 479.1 L438.7 476.7 L440 474.3 L441.2 471.8 L442.4 469.3 L443.6 466.7 L444.8 464.1 L446.1 461.5 L447.3 458.8 L448.5 456.1 L449.7 453.4 L451 450.7 L452.2 448 L453.4 445.3 L454.6 442.6 L455.9 439.9 L457.1 437.3 L458.3 434.6 L459.5 432 L460.8 429.5 L462 427 L463.2 424.5 L464.4 422.1 L465.6 419.8 L466.9 417.5 L468.1 415.3 L469.3 413.2 L470.5 411.2 L471.8 409.3 L473 407.5 L474.2 405.8 L475.4 404.2 L476.7 402.7 L477.9 401.4 L479.1 400.2 L480.3 399 L481.6 398 L482.8 397.2 L484 396.4 L485.2 395.8 L486.4 395.4 L487.7 395 L488.9 394.7 L490.1 394.6 L491.3 394.6 L492.6 394.9 L493.8 395.4 L495 396 L496.2 396.7 L497.5 397.6 L498.7 398.6 L499.9 399.8 L501.1 401 L502.4 402.3 L503.6 403.8 L504.8 405.3 L506 406.9 L507.2 408.6 L508.5 410.3 L509.7 412.2 L510.9 414 L512.1 416 L513.4 417.9 L514.6 419.9 L515.8 422 L517 424.1 L518.3 426.2 L519.5 428.3 L520.7 430.5 L521.9 432.6 L523.1 434.8 L524.4 437 L525.6 439.2 L526.8 441.3 L528 443.5 L529.3 445.7 L530.5 447.8 L531.7 450 L532.9 452.1 L534.2 454.2 L535.4 456.2 L536.6 458.3 L537.8 460.3 L539.1 462.3 L540.3 464.2 L541.5 466.2 L542.7 468.1 L543.9 469.9 L545.2 471.7 L546.4 473.5 L547.6 475.2 L548.8 476.9 L550.1 478.6 L551.3 480.2 L552.5 481.8 L553.7 483.3 L555 484.8 L556.2 486.2 L557.4 487.6 L558.6 489 L559.9 490.3 L561.1 491.6 L562.3 492.8 L563.5 494 L564.7 495.1 L566 496.2 L567.2 497.3 L568.4 498.3 L569.6 499.3 L570.9 500.3 L572.1 501.2 L573.3 502 L574.5 502.9 L575.8 503.7 L577 504.5 L578.2 505.2 L579.4 505.9 L580.7 506.6 L581.9 507.2 L583.1 507.8 L584.3 508.4 L585.5 509 L586.8 509.5 L588 510 L589.2 510.5 L590.4 511 L591.7 511.4 L592.9 511.8 L594.1 512.2 L595.3 512.6 L596.6 512.9 L597.8 513.3 L599 513.6 L600.2 513.9 L601.5 514.2 L602.7 514.4 L603.9 514.7 L605.1 514.9 L606.3 515.1 L607.6 515.4 L608.8 515.6 L610 515.7 L611.2 515.9 L612.5 516.1 L613.7 516.2 L614.9 516.4 L616.1 516.5 L617.4 516.6 L618.6 516.8 L619.8 516.9 L621 517 L622.3 517.1 L623.5 517.2 L624.7 517.3 L625.9 517.3 L627.1 517.4 L628.4 517.5 L629.6 517.5 L630.8 517.6 L632 517.7 L633.3 517.7 L634.5 517.8 L635.7 517.8 L636.9 517.9 L638.2 517.9 L639.4 517.9 L640.6 518 L641.8 518 L643.1 518 L644.3 518 L645.5 518.1 L646.7 518.1 L647.9 518.1 L649.2 518.1 L650.4 518.2 L651.6 518.2 L652.8 518.2 L654.1 518.2 L655.3 518.2 L656.5 518.2 L657.7 518.2 L659 518.2 L660.2 518.3 L661.4 518.3 L662.6 518.3 L663.9 518.3 L665.1 518.3 L666.3 518.3 L667.5 518.3 L668.7 518.3 L670 518.3 L671.2 518.3 L672.4 518.3 L673.6 518.3 L674.9 518.3 L676.1 518.3 L677.3 518.3" stroke="#37AD6B"/>
<path d="M400.8 520.9 L402 520.5 L403.2 520 L404.5 519.4 L405.7 518.9 L406.9 518.3 L408.1 517.6 L409.4 517 L410.6 516.3 L411.8 515.6 L413 514.8 L414.3 514 L415.5 513.1 L416.7 512.2 L417.9 511.3 L419.2 510.3 L420.4 509.3 L421.6 508.3 L422.8 507.2 L424 506 L425.3 504.8 L426.5 503.6 L427.7 502.3 L428.9 501 L430.2 499.6 L431.4 498.2 L432.6 496.7 L433.8 495.2 L435.1 493.7 L436.3 492.1 L437.5 490.4 L438.7 488.8 L440 487 L441.2 485.3 L442.4 483.5 L443.6 481.6 L444.8 479.8 L446.1 477.9 L447.3 475.9 L448.5 474 L449.7 472 L451 470 L452.2 467.9 L453.4 465.9 L454.6 463.8 L455.9 461.7 L457.1 459.6 L458.3 457.6 L459.5 455.5 L460.8 453.4 L462 451.3 L463.2 449.2 L464.4 447.1 L465.6 445 L466.9 443 L468.1 441 L469.3 439 L470.5 437 L471.8 435.1 L473 433.2 L474.2 431.3 L475.4 429.5 L476.7 427.8 L477.9 426.1 L479.1 424.4 L480.3 422.8 L481.6 421.3 L482.8 419.8 L484 418.4 L485.2 417.1 L486.4 415.8 L487.7 414.6 L488.9 413.5 L490.1 412.5 L491.3 411.5 L492.6 410.6 L493.8 409.8 L495 409.1 L496.2 408.5 L497.5 408 L498.7 407.5 L499.9 407.1 L501.1 406.8 L502.4 406.6 L503.6 406.5 L504.8 406.4 L506 406.5 L507.2 406.7 L508.5 407.1 L509.7 407.5 L510.9 408.1 L512.1 408.8 L513.4 409.6 L514.6 410.4 L515.8 411.4 L517 412.4 L518.3 413.5 L519.5 414.6 L520.7 415.9 L521.9 417.2 L523.1 418.5 L524.4 419.9 L525.6 421.3 L526.8 422.8 L528 424.4 L529.3 425.9 L530.5 427.5 L531.7 429.2 L532.9 430.9 L534.2 432.5 L535.4 434.3 L536.6 436 L537.8 437.7 L539.1 439.5 L540.3 441.3 L541.5 443 L542.7 444.8 L543.9 446.6 L545.2 448.4 L546.4 450.2 L547.6 451.9 L548.8 453.7 L550.1 455.4 L551.3 457.2 L552.5 458.9 L553.7 460.6 L555 462.3 L556.2 464 L557.4 465.6 L558.6 467.3 L559.9 468.9 L561.1 470.5 L562.3 472 L563.5 473.6 L564.7 475.1 L566 476.5 L567.2 478 L568.4 479.4 L569.6 480.8 L570.9 482.2 L572.1 483.5 L573.3 484.8 L574.5 486 L575.8 487.3 L577 488.5 L578.2 489.6 L579.4 490.8 L580.7 491.9 L581.9 493 L583.1 494 L584.3 495 L585.5 496 L586.8 496.9 L588 497.8 L589.2 498.7 L590.4 499.6 L591.7 500.4 L592.9 501.2 L594.1 502 L595.3 502.7 L596.6 503.5 L597.8 504.1 L599 504.8 L600.2 505.4 L601.5 506.1 L602.7 506.6 L603.9 507.2 L605.1 507.7 L606.3 508.3 L607.6 508.8 L608.8 509.2 L610 509.7 L611.2 510.1 L612.5 510.5 L613.7 510.9 L614.9 511.3 L616.1 511.7 L617.4 512 L618.6 512.4 L619.8 512.7 L621 513 L622.3 513.3 L623.5 513.5 L624.7 513.8 L625.9 514 L627.1 514.3 L628.4 514.5 L629.6 514.7 L630.8 514.9 L632 515.1 L633.3 515.2 L634.5 515.4 L635.7 515.6 L636.9 515.7 L638.2 515.9 L639.4 516 L640.6 516.1 L641.8 516.2 L643.1 516.3 L644.3 516.4 L645.5 516.5 L646.7 516.6 L647.9 516.7 L649.2 516.8 L650.4 516.9 L651.6 517 L652.8 517 L654.1 517.1 L655.3 517.2 L656.5 517.2 L657.7 517.3 L659 517.3 L660.2 517.4 L661.4 517.4 L662.6 517.4 L663.9 517.5 L665.1 517.5 L666.3 517.5 L667.5 517.6 L668.7 517.6 L670 517.6 L671.2 517.7 L672.4 517.7 L673.6 517.7 L674.9 517.7 L676.1 517.7 L677.3 517.8" stroke="#B177DE"/>
<path d="M400.8 520.9 L402 520.5 L403.2 520.1 L404.5 519.7 L405.7 519.3 L406.9 518.8 L408.1 518.3 L409.4 517.8 L410.6 517.3 L411.8 516.7 L413 516.1 L414.3 515.5 L415.5 514.8 L416.7 514.1 L417.9 513.4 L419.2 512.7 L420.4 511.9 L421.6 511.1 L422.8 510.3 L424 509.4 L425.3 508.5 L426.5 507.6 L427.7 506.6 L428.9 505.6 L430.2 504.6 L431.4 503.5 L432.6 502.4 L433.8 501.2 L435.1 500.1 L436.3 498.9 L437.5 497.6 L438.7 496.4 L440 495.1 L441.2 493.7 L442.4 492.3 L443.6 490.9 L444.8 489.5 L446.1 488 L447.3 486.6 L448.5 485 L449.7 483.5 L451 481.9 L452.2 480.3 L453.4 478.7 L454.6 477.1 L455.9 475.5 L457.1 473.8 L458.3 472.1 L459.5 470.4 L460.8 468.7 L462 467 L463.2 465.3 L464.4 463.6 L465.6 461.8 L466.9 460.1 L468.1 458.4 L469.3 456.7 L470.5 455 L471.8 453.3 L473 451.6 L474.2 449.9 L475.4 448.2 L476.7 446.6 L477.9 445 L479.1 443.4 L480.3 441.8 L481.6 440.3 L482.8 438.8 L484 437.4 L485.2 435.9 L486.4 434.6 L487.7 433.2 L488.9 431.9 L490.1 430.7 L491.3 429.5 L492.6 428.3 L493.8 427.2 L495 426.2 L496.2 425.2 L497.5 424.2 L498.7 423.4 L499.9 422.5 L501.1 421.8 L502.4 421.1 L503.6 420.5 L504.8 419.9 L506 419.4 L507.2 418.9 L508.5 418.5 L509.7 418.2 L510.9 417.9 L512.1 417.7 L513.4 417.6 L514.6 417.5 L515.8 417.5 L517 417.6 L518.3 417.7 L519.5 418 L520.7 418.3 L521.9 418.7 L523.1 419.2 L524.4 419.7 L525.6 420.3 L526.8 420.9 L528 421.6 L529.3 422.4 L530.5 423.2 L531.7 424 L532.9 424.9 L534.2 425.8 L535.4 426.8 L536.6 427.8 L537.8 428.9 L539.1 429.9 L540.3 431.1 L541.5 432.2 L542.7 433.4 L543.9 434.6 L545.2 435.8 L546.4 437 L547.6 438.3 L548.8 439.5 L550.1 440.8 L551.3 442.1 L552.5 443.5 L553.7 444.8 L555 446.1 L556.2 447.5 L557.4 448.8 L558.6 450.2 L559.9 451.6 L561.1 452.9 L562.3 454.3 L563.5 455.6 L564.7 457 L566 458.4 L567.2 459.7 L568.4 461.1 L569.6 462.4 L570.9 463.7 L572.1 465 L573.3 466.4 L574.5 467.7 L575.8 468.9 L577 470.2 L578.2 471.5 L579.4 472.7 L580.7 473.9 L581.9 475.2 L583.1 476.4 L584.3 477.5 L585.5 478.7 L586.8 479.8 L588 481 L589.2 482.1 L590.4 483.1 L591.7 484.2 L592.9 485.3 L594.1 486.3 L595.3 487.3 L596.6 488.3 L597.8 489.2 L599 490.2 L600.2 491.1 L601.5 492 L602.7 492.9 L603.9 493.7 L605.1 494.6 L606.3 495.4 L607.6 496.2 L608.8 497 L610 497.7 L611.2 498.5 L612.5 499.2 L613.7 499.9 L614.9 500.5 L616.1 501.2 L617.4 501.8 L618.6 502.5 L619.8 503.1 L621 503.6 L622.3 504.2 L623.5 504.7 L624.7 505.3 L625.9 505.8 L627.1 506.3 L628.4 506.7 L629.6 507.2 L630.8 507.6 L632 508.1 L633.3 508.5 L634.5 508.9 L635.7 509.3 L636.9 509.6 L638.2 510 L639.4 510.3 L640.6 510.7 L641.8 511 L643.1 511.3 L644.3 511.6 L645.5 511.9 L646.7 512.1 L647.9 512.4 L649.2 512.6 L650.4 512.9 L651.6 513.1 L652.8 513.3 L654.1 513.5 L655.3 513.7 L656.5 513.9 L657.7 514.1 L659 514.3 L660.2 514.5 L661.4 514.6 L662.6 514.8 L663.9 514.9 L665.1 515.1 L666.3 515.2 L667.5 515.3 L668.7 515.4 L670 515.6 L671.2 515.7 L672.4 515.8 L673.6 515.9 L674.9 516 L676.1 516.1 L677.3 516.1" stroke="#CC9900"/>
<path d="M400.8 520.7 L402 520.3 L403.2 520 L404.5 519.7 L405.7 519.5 L406.9 519.3 L408.1 519.1 L409.4 518.9 L410.6 518.7 L411.8 518.6 L413 518.4 L414.3 518.2 L415.5 518 L416.7 517.9 L417.9 517.6 L419.2 517.4 L420.4 517.2 L421.6 516.9 L422.8 516.6 L424 516.2 L425.3 515.8 L426.5 515.4 L427.7 514.9 L428.9 514.3 L430.2 513.7 L431.4 513 L432.6 512.3 L433.8 511.4 L435.1 510.6 L436.3 509.6 L437.5 508.6 L438.7 507.5 L440 506.3 L441.2 505.1 L442.4 503.9 L443.6 502.6 L444.8 501.2 L446.1 499.8 L447.3 498.4 L448.5 496.9 L449.7 495.4 L451 493.9 L452.2 492.3 L453.4 490.7 L454.6 489.1 L455.9 487.5 L457.1 485.9 L458.3 484.2 L459.5 482.5 L460.8 480.9 L462 479.2 L463.2 477.6 L464.4 475.9 L465.6 474.3 L466.9 472.6 L468.1 471 L469.3 469.4 L470.5 467.8 L471.8 466.2 L473 464.7 L474.2 463.2 L475.4 461.6 L476.7 460.1 L477.9 458.7 L479.1 457.2 L480.3 455.8 L481.6 454.4 L482.8 453 L484 451.6 L485.2 450.3 L486.4 449 L487.7 447.7 L488.9 446.4 L490.1 445.2 L491.3 444 L492.6 442.8 L493.8 441.6 L495 440.5 L496.2 439.4 L497.5 438.4 L498.7 437.3 L499.9 436.4 L501.1 435.4 L502.4 434.5 L503.6 433.6 L504.8 432.7 L506 431.9 L507.2 431.1 L508.5 430.4 L509.7 429.7 L510.9 429 L512.1 428.4 L513.4 427.8 L514.6 427.2 L515.8 426.7 L517 426.3 L518.3 425.9 L519.5 425.5 L520.7 425.1 L521.9 424.9 L523.1 424.6 L524.4 424.4 L525.6 424.3 L526.8 424.2 L528 424.1 L529.3 424.1 L530.5 424.2 L531.7 424.3 L532.9 424.4 L534.2 424.6 L535.4 424.9 L536.6 425.2 L537.8 425.5 L539.1 425.9 L540.3 426.4 L541.5 426.9 L542.7 427.5 L543.9 428.1 L545.2 428.8 L546.4 429.5 L547.6 430.2 L548.8 431 L550.1 431.8 L551.3 432.7 L552.5 433.6 L553.7 434.5 L555 435.5 L556.2 436.5 L557.4 437.5 L558.6 438.6 L559.9 439.7 L561.1 440.8 L562.3 441.9 L563.5 443.1 L564.7 444.2 L566 445.4 L567.2 446.6 L568.4 447.8 L569.6 449.1 L570.9 450.3 L572.1 451.6 L573.3 452.8 L574.5 454.1 L575.8 455.4 L577 456.7 L578.2 458 L579.4 459.3 L580.7 460.5 L581.9 461.8 L583.1 463.1 L584.3 464.4 L585.5 465.7 L586.8 467 L588 468.3 L589.2 469.6 L590.4 470.9 L591.7 472.2 L592.9 473.4 L594.1 474.6 L595.3 475.8 L596.6 477 L597.8 478.2 L599 479.3 L600.2 480.4 L601.5 481.4 L602.7 482.5 L603.9 483.5 L605.1 484.4 L606.3 485.4 L607.6 486.3 L608.8 487.2 L610 488.1 L611.2 488.9 L612.5 489.8 L613.7 490.6 L614.9 491.4 L616.1 492.1 L617.4 492.9 L618.6 493.6 L619.8 494.3 L621 495 L622.3 495.7 L623.5 496.4 L624.7 497.1 L625.9 497.7 L627.1 498.4 L628.4 499 L629.6 499.6 L630.8 500.2 L632 500.8 L633.3 501.4 L634.5 502 L635.7 502.6 L636.9 503.2 L638.2 503.8 L639.4 504.4 L640.6 504.9 L641.8 505.5 L643.1 506 L644.3 506.6 L645.5 507.1 L646.7 507.6 L647.9 508.2 L649.2 508.7 L650.4 509.2 L651.6 509.7 L652.8 510.1 L654.1 510.6 L655.3 511.1 L656.5 511.5 L657.7 512 L659 512.4 L660.2 512.8 L661.4 513.2 L662.6 513.6 L663.9 514 L665.1 514.4 L666.3 514.7 L667.5 515.1 L668.7 515.4 L670 515.7 L671.2 516 L672.4 516.3 L673.6 516.6 L674.9 516.9 L676.1 517.1 L677.3 517.4" stroke="#00CBCC"/>
<path d="M400.8 520.6C403 520.2 415.2 519 419.9 517.5C424.5 516 436.3 510.2 440.7 507.6C445.1 505 454.4 498.6 457.8 495.2C461.2 491.8 467.4 481.3 470.1 478.2C472.7 475.2 477.9 471.4 480.3 468.9C482.8 466.4 488.4 459.1 490.8 456.9C493.3 454.6 498.7 451.3 501.1 449.6C503.6 447.9 508.9 444.2 511.6 442.3C514.4 440.4 522.1 434.8 525.1 433.5C528.1 432.2 534.3 430.9 537.6 430.9C540.9 430.9 549.5 432.3 553.2 433.5C557 434.7 566.1 439 569.9 441.3C573.7 443.6 581.9 450.3 585.5 453.1C589.2 455.9 597.9 461.8 601.2 464.9C604.5 468 610.7 476.9 614.2 480C617.6 483 626.6 488.7 630.8 491C635 493.2 646.2 497.4 649.9 499.4C653.6 501.4 659.6 506 662.6 507.9C665.7 509.7 674.5 514.1 676.1 515" stroke="#7D4E4E"/>
</g>
<path d="M393 472.8 H675" stroke="#2050a8" stroke-width="1" stroke-dasharray="2 1.5"/>
<text x="379.8" y="472.5" font-size="14.5" text-anchor="start" fill="#2b4c9c" stroke="#2b4c9c" stroke-width="0.45" >T<tspan dx="0.4" dy="1.6" font-size="8.5" fill="#5a7cc0" stroke="#5a7cc0" stroke-width="0.2">c</tspan></text>
<rect x="558.3" y="302" width="116.5" height="124.6" fill="#fff"/>
<path d="M558.3 302 V426.6 H675" fill="none" stroke="#ddd" stroke-width="0.9"/>
<path d="M558.6 310.6 H588" stroke="#515151" stroke-width="2.6"/>
<text x="589.8" y="314.4" font-size="10.6" text-anchor="start" fill="#000" stroke="#000" stroke-width="0.45" textLength="83.5" lengthAdjust="spacingAndGlyphs" >54.5 mJ/cm<tspan dy="-4" font-size="7">2</tspan><tspan dy="4"> &amp; 20 ns</tspan></text>
<path d="M558.6 326.1 H588" stroke="#F14040" stroke-width="2.6"/>
<text x="589.8" y="329.9" font-size="10.6" text-anchor="start" fill="#000" stroke="#000" stroke-width="0.45" textLength="83.5" lengthAdjust="spacingAndGlyphs" >54.5 mJ/cm<tspan dy="-4" font-size="7">2</tspan><tspan dy="4"> &amp; 25 ns</tspan></text>
<path d="M558.6 341.5 H588" stroke="#1A6FDF" stroke-width="2.6"/>
<text x="589.8" y="345.3" font-size="10.6" text-anchor="start" fill="#000" stroke="#000" stroke-width="0.45" textLength="83.5" lengthAdjust="spacingAndGlyphs" >54.5 mJ/cm<tspan dy="-4" font-size="7">2</tspan><tspan dy="4"> &amp; 30 ns</tspan></text>
<path d="M558.6 357 H588" stroke="#37AD6B" stroke-width="2.6"/>
<text x="589.8" y="360.8" font-size="10.6" text-anchor="start" fill="#000" stroke="#000" stroke-width="0.45" textLength="83.5" lengthAdjust="spacingAndGlyphs" >54.5 mJ/cm<tspan dy="-4" font-size="7">2</tspan><tspan dy="4"> &amp; 35 ns</tspan></text>
<path d="M558.6 372.5 H588" stroke="#B177DE" stroke-width="2.6"/>
<text x="589.8" y="376.3" font-size="10.6" text-anchor="start" fill="#000" stroke="#000" stroke-width="0.45" textLength="83.5" lengthAdjust="spacingAndGlyphs" >54.5 mJ/cm<tspan dy="-4" font-size="7">2</tspan><tspan dy="4"> &amp; 40 ns</tspan></text>
<path d="M558.6 388 H588" stroke="#CC9900" stroke-width="2.6"/>
<text x="589.8" y="391.8" font-size="10.6" text-anchor="start" fill="#000" stroke="#000" stroke-width="0.45" textLength="83.5" lengthAdjust="spacingAndGlyphs" >54.5 mJ/cm<tspan dy="-4" font-size="7">2</tspan><tspan dy="4"> &amp; 45 ns</tspan></text>
<path d="M558.6 403.4 H588" stroke="#00CBCC" stroke-width="2.6"/>
<text x="589.8" y="407.2" font-size="10.6" text-anchor="start" fill="#000" stroke="#000" stroke-width="0.45" textLength="83.5" lengthAdjust="spacingAndGlyphs" >54.5 mJ/cm<tspan dy="-4" font-size="7">2</tspan><tspan dy="4"> &amp; 50 ns</tspan></text>
<path d="M558.6 418.9 H588" stroke="#7D4E4E" stroke-width="2.6"/>
<text x="589.8" y="422.7" font-size="10.6" text-anchor="start" fill="#000" stroke="#000" stroke-width="0.45" textLength="83.5" lengthAdjust="spacingAndGlyphs" >54.5 mJ/cm<tspan dy="-4" font-size="7">2</tspan><tspan dy="4"> &amp; 55 ns</tspan></text>
<path d="M398.4 301.4 H675.2 V524.3" fill="none" stroke="#1a1a1a" stroke-width="1.35"/>
<g clip-path="url(#cliph)"><g filter="url(#hblur)"><rect x="724.4" y="308.46" width="247.2" height="4.57" fill="url(#h0)"/><rect x="724.4" y="312.43" width="247.2" height="4.57" fill="url(#h1)"/><rect x="724.4" y="316.40" width="247.2" height="4.57" fill="url(#h2)"/><rect x="724.4" y="320.37" width="247.2" height="4.57" fill="url(#h3)"/><rect x="724.4" y="324.34" width="247.2" height="4.57" fill="url(#h4)"/><rect x="724.4" y="328.31" width="247.2" height="4.57" fill="url(#h5)"/><rect x="724.4" y="332.27" width="247.2" height="4.57" fill="url(#h6)"/><rect x="724.4" y="336.24" width="247.2" height="4.57" fill="url(#h7)"/><rect x="724.4" y="340.21" width="247.2" height="4.57" fill="url(#h8)"/><rect x="724.4" y="344.18" width="247.2" height="4.57" fill="url(#h9)"/><rect x="724.4" y="348.15" width="247.2" height="4.57" fill="url(#h10)"/><rect x="724.4" y="352.12" width="247.2" height="4.57" fill="url(#h11)"/><rect x="724.4" y="356.09" width="247.2" height="4.57" fill="url(#h12)"/><rect x="724.4" y="360.05" width="247.2" height="4.57" fill="url(#h13)"/><rect x="724.4" y="364.02" width="247.2" height="4.57" fill="url(#h14)"/><rect x="724.4" y="367.99" width="247.2" height="4.57" fill="url(#h15)"/><rect x="724.4" y="371.96" width="247.2" height="4.57" fill="url(#h16)"/><rect x="724.4" y="375.93" width="247.2" height="4.57" fill="url(#h17)"/><rect x="724.4" y="379.90" width="247.2" height="4.57" fill="url(#h18)"/><rect x="724.4" y="383.86" width="247.2" height="4.57" fill="url(#h19)"/><rect x="724.4" y="387.83" width="247.2" height="4.57" fill="url(#h20)"/><rect x="724.4" y="391.80" width="247.2" height="4.57" fill="url(#h21)"/><rect x="724.4" y="395.77" width="247.2" height="4.57" fill="url(#h22)"/><rect x="724.4" y="399.74" width="247.2" height="4.57" fill="url(#h23)"/><rect x="724.4" y="403.71" width="247.2" height="4.57" fill="url(#h24)"/><rect x="724.4" y="407.68" width="247.2" height="4.57" fill="url(#h25)"/><rect x="724.4" y="411.64" width="247.2" height="4.57" fill="url(#h26)"/><rect x="724.4" y="415.61" width="247.2" height="4.57" fill="url(#h27)"/><rect x="724.4" y="419.58" width="247.2" height="4.57" fill="url(#h28)"/><rect x="724.4" y="423.55" width="247.2" height="4.57" fill="url(#h29)"/><rect x="724.4" y="427.52" width="247.2" height="4.57" fill="url(#h30)"/><rect x="724.4" y="431.49" width="247.2" height="4.57" fill="url(#h31)"/><rect x="724.4" y="435.46" width="247.2" height="4.57" fill="url(#h32)"/><rect x="724.4" y="439.42" width="247.2" height="4.57" fill="url(#h33)"/><rect x="724.4" y="443.39" width="247.2" height="4.57" fill="url(#h34)"/><rect x="724.4" y="447.36" width="247.2" height="4.57" fill="url(#h35)"/><rect x="724.4" y="451.33" width="247.2" height="4.57" fill="url(#h36)"/><rect x="724.4" y="455.30" width="247.2" height="4.57" fill="url(#h37)"/><rect x="724.4" y="459.27" width="247.2" height="4.57" fill="url(#h38)"/><rect x="724.4" y="463.24" width="247.2" height="4.57" fill="url(#h39)"/><rect x="724.4" y="467.20" width="247.2" height="4.57" fill="url(#h40)"/><rect x="724.4" y="471.17" width="247.2" height="4.57" fill="url(#h41)"/><rect x="724.4" y="475.14" width="247.2" height="4.57" fill="url(#h42)"/><rect x="724.4" y="479.11" width="247.2" height="4.57" fill="url(#h43)"/><rect x="724.4" y="483.08" width="247.2" height="4.57" fill="url(#h44)"/><rect x="724.4" y="487.05" width="247.2" height="4.57" fill="url(#h45)"/><rect x="724.4" y="491.01" width="247.2" height="4.57" fill="url(#h46)"/><rect x="724.4" y="494.98" width="247.2" height="4.57" fill="url(#h47)"/><rect x="724.4" y="498.95" width="247.2" height="4.57" fill="url(#h48)"/><rect x="724.4" y="502.92" width="247.2" height="4.57" fill="url(#h49)"/><rect x="724.4" y="506.89" width="247.2" height="4.57" fill="url(#h50)"/><rect x="724.4" y="510.86" width="247.2" height="4.57" fill="url(#h51)"/><rect x="724.4" y="514.83" width="247.2" height="4.57" fill="url(#h52)"/><rect x="724.4" y="518.79" width="247.2" height="4.57" fill="url(#h53)"/><rect x="724.4" y="522.76" width="247.2" height="4.57" fill="url(#h54)"/><rect x="724.4" y="526.73" width="247.2" height="4.57" fill="url(#h55)"/><rect x="724.4" y="530.70" width="247.2" height="4.57" fill="url(#h56)"/><rect x="724.4" y="534.67" width="247.2" height="4.57" fill="url(#h57)"/></g></g>
<rect x="980" y="316.3" width="16.4" height="214.4" fill="url(#cbar)" stroke="#777" stroke-width="0.6"/>
<path d="M994.6 487.8 H996.4" stroke="#333" stroke-width="0.8"/>
<path d="M994.6 444.9 H996.4" stroke="#333" stroke-width="0.8"/>
<path d="M994.6 402.1 H996.4" stroke="#333" stroke-width="0.8"/>
<path d="M994.6 359.2 H996.4" stroke="#333" stroke-width="0.8"/>
<text x="1000.8" y="534.7" font-size="11.8" text-anchor="start" fill="#000" stroke="#000" stroke-width="0.25" textLength="17" lengthAdjust="spacingAndGlyphs" >400</text>
<text x="1000.8" y="491.8" font-size="11.8" text-anchor="start" fill="#000" stroke="#000" stroke-width="0.25" textLength="17" lengthAdjust="spacingAndGlyphs" >500</text>
<text x="1000.8" y="448.9" font-size="11.8" text-anchor="start" fill="#000" stroke="#000" stroke-width="0.25" textLength="17" lengthAdjust="spacingAndGlyphs" >600</text>
<text x="1000.8" y="406.1" font-size="11.8" text-anchor="start" fill="#000" stroke="#000" stroke-width="0.25" textLength="17" lengthAdjust="spacingAndGlyphs" >700</text>
<text x="1000.8" y="363.2" font-size="11.8" text-anchor="start" fill="#000" stroke="#000" stroke-width="0.25" textLength="17" lengthAdjust="spacingAndGlyphs" >800</text>
<text x="1000.8" y="320.3" font-size="11.8" text-anchor="start" fill="#000" stroke="#000" stroke-width="0.25" textLength="26.7" lengthAdjust="spacingAndGlyphs" >900 K</text>
<text x="730.4" y="545.7" font-size="11.8" text-anchor="middle" fill="#000" stroke="#000" stroke-width="0.25" textLength="11.4" lengthAdjust="spacingAndGlyphs" >20</text>
<text x="777.4" y="545.7" font-size="11.8" text-anchor="middle" fill="#000" stroke="#000" stroke-width="0.25" textLength="11.4" lengthAdjust="spacingAndGlyphs" >30</text>
<text x="824.5" y="545.7" font-size="11.8" text-anchor="middle" fill="#000" stroke="#000" stroke-width="0.25" textLength="11.4" lengthAdjust="spacingAndGlyphs" >40</text>
<text x="871.5" y="545.7" font-size="11.8" text-anchor="middle" fill="#000" stroke="#000" stroke-width="0.25" textLength="11.4" lengthAdjust="spacingAndGlyphs" >50</text>
<text x="918.6" y="545.7" font-size="11.8" text-anchor="middle" fill="#000" stroke="#000" stroke-width="0.25" textLength="11.4" lengthAdjust="spacingAndGlyphs" >60</text>
<text x="965.6" y="545.7" font-size="11.8" text-anchor="middle" fill="#000" stroke="#000" stroke-width="0.25" textLength="11.4" lengthAdjust="spacingAndGlyphs" >70</text>
<text x="726.4" y="535.9" font-size="11.8" text-anchor="end" fill="#000" stroke="#000" stroke-width="0.25" textLength="11.6" lengthAdjust="spacingAndGlyphs" >20</text>
<text x="726.4" y="509.1" font-size="11.8" text-anchor="end" fill="#000" stroke="#000" stroke-width="0.25" textLength="11.6" lengthAdjust="spacingAndGlyphs" >25</text>
<text x="726.4" y="482.3" font-size="11.8" text-anchor="end" fill="#000" stroke="#000" stroke-width="0.25" textLength="11.6" lengthAdjust="spacingAndGlyphs" >30</text>
<text x="726.4" y="455.5" font-size="11.8" text-anchor="end" fill="#000" stroke="#000" stroke-width="0.25" textLength="11.6" lengthAdjust="spacingAndGlyphs" >35</text>
<text x="726.4" y="428.8" font-size="11.8" text-anchor="end" fill="#000" stroke="#000" stroke-width="0.25" textLength="11.6" lengthAdjust="spacingAndGlyphs" >40</text>
<text x="726.4" y="402" font-size="11.8" text-anchor="end" fill="#000" stroke="#000" stroke-width="0.25" textLength="11.6" lengthAdjust="spacingAndGlyphs" >45</text>
<text x="726.4" y="375.2" font-size="11.8" text-anchor="end" fill="#000" stroke="#000" stroke-width="0.25" textLength="11.6" lengthAdjust="spacingAndGlyphs" >50</text>
<text x="726.4" y="348.4" font-size="11.8" text-anchor="end" fill="#000" stroke="#000" stroke-width="0.25" textLength="11.6" lengthAdjust="spacingAndGlyphs" >55</text>
<text x="726.4" y="321.6" font-size="11.8" text-anchor="end" fill="#000" stroke="#000" stroke-width="0.25" textLength="11.6" lengthAdjust="spacingAndGlyphs" >60</text>
<text x="802.2" y="564" font-size="14.5" text-anchor="start" fill="#000" stroke="#000" stroke-width="0.65" textLength="134.5" lengthAdjust="spacingAndGlyphs" >Pulse Energy (mJ/cm<tspan dy="-5" font-size="9">2</tspan><tspan dy="5">)</tspan></text>
<text x="706.2" y="476.5" font-size="14.5" text-anchor="start" fill="#000" stroke="#000" stroke-width="0.65" textLength="100.7" lengthAdjust="spacingAndGlyphs" transform="rotate(-90 706.2 476.5)" >Pulse Width (ns)</text>
<text x="684.4" y="303" font-size="16" font-weight="bold" text-anchor="start" fill="#000" textLength="17.4" lengthAdjust="spacingAndGlyphs" >(f)</text>
</svg>
</body></html>
